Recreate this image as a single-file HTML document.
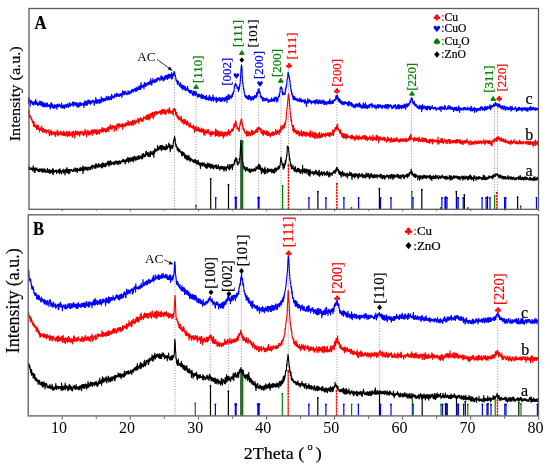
<!DOCTYPE html><html><head><meta charset="utf-8"><style>html,body{margin:0;padding:0;background:#fff;}svg{display:block;filter:blur(0.3px);} text{stroke-width:0.22px;}</style></head><body><svg width="550" height="467" viewBox="0 0 550 467" style="font-family:'Liberation Serif',serif" fill="#000" stroke="none">
<rect width="550" height="467" fill="#fff"/>
<line x1="174.4" y1="73" x2="174.4" y2="209.2" stroke="#8a8a8a" stroke-width="0.9" stroke-dasharray="1.1 1.6"/>
<line x1="196.1" y1="90" x2="196.1" y2="209.2" stroke="#8a8a8a" stroke-width="0.9" stroke-dasharray="1.1 1.6"/>
<line x1="235.6" y1="80" x2="235.6" y2="209.2" stroke="#8a8a8a" stroke-width="0.9" stroke-dasharray="1.1 1.6"/>
<line x1="241.6" y1="64" x2="241.6" y2="209.2" stroke="#8a8a8a" stroke-width="0.9" stroke-dasharray="1.1 1.6"/>
<line x1="258.6" y1="88" x2="258.6" y2="209.2" stroke="#8a8a8a" stroke-width="0.9" stroke-dasharray="1.1 1.6"/>
<line x1="281.0" y1="86" x2="281.0" y2="209.2" stroke="#8a8a8a" stroke-width="0.9" stroke-dasharray="1.1 1.6"/>
<line x1="288.5" y1="70" x2="288.5" y2="209.2" stroke="#8a8a8a" stroke-width="0.9" stroke-dasharray="1.1 1.6"/>
<line x1="337.0" y1="96" x2="337.0" y2="209.2" stroke="#8a8a8a" stroke-width="0.9" stroke-dasharray="1.1 1.6"/>
<line x1="411.6" y1="99" x2="411.6" y2="209.2" stroke="#8a8a8a" stroke-width="0.9" stroke-dasharray="1.1 1.6"/>
<line x1="494.6" y1="103" x2="494.6" y2="209.2" stroke="#8a8a8a" stroke-width="0.9" stroke-dasharray="1.1 1.6"/>
<line x1="497.5" y1="103" x2="497.5" y2="209.2" stroke="#8a8a8a" stroke-width="0.9" stroke-dasharray="1.1 1.6"/>
<line x1="174.9" y1="262" x2="174.9" y2="415.8" stroke="#8a8a8a" stroke-width="0.9" stroke-dasharray="1.1 1.6"/>
<line x1="210.3" y1="297" x2="210.3" y2="415.8" stroke="#8a8a8a" stroke-width="0.9" stroke-dasharray="1.1 1.6"/>
<line x1="228.3" y1="298" x2="228.3" y2="415.8" stroke="#8a8a8a" stroke-width="0.9" stroke-dasharray="1.1 1.6"/>
<line x1="241.3" y1="275" x2="241.3" y2="415.8" stroke="#8a8a8a" stroke-width="0.9" stroke-dasharray="1.1 1.6"/>
<line x1="288.3" y1="256" x2="288.3" y2="415.8" stroke="#8a8a8a" stroke-width="0.9" stroke-dasharray="1.1 1.6"/>
<line x1="337.0" y1="302" x2="337.0" y2="415.8" stroke="#8a8a8a" stroke-width="0.9" stroke-dasharray="1.1 1.6"/>
<line x1="379.7" y1="312" x2="379.7" y2="415.8" stroke="#8a8a8a" stroke-width="0.9" stroke-dasharray="1.1 1.6"/>
<line x1="497.8" y1="314" x2="497.8" y2="415.8" stroke="#8a8a8a" stroke-width="0.9" stroke-dasharray="1.1 1.6"/>
<line x1="195.9" y1="209.2" x2="195.9" y2="205.2" stroke="#008000" stroke-width="1.2"/>
<circle cx="195.9" cy="205.7" r="0.90" fill="#008000"/>
<line x1="210.7" y1="209.2" x2="210.7" y2="178.5" stroke="#000000" stroke-width="1.2"/>
<circle cx="210.7" cy="179.0" r="0.90" fill="#000000"/>
<line x1="215.7" y1="209.2" x2="215.7" y2="197.4" stroke="#0000ff" stroke-width="1.2"/>
<circle cx="215.7" cy="197.9" r="0.90" fill="#0000ff"/>
<line x1="228.5" y1="209.2" x2="228.5" y2="184.2" stroke="#000000" stroke-width="1.2"/>
<circle cx="228.5" cy="184.7" r="0.90" fill="#000000"/>
<line x1="235.8" y1="209.2" x2="235.8" y2="197.4" stroke="#0000ff" stroke-width="2"/>
<circle cx="235.8" cy="197.9" r="1.40" fill="#0000ff"/>
<line x1="241.0" y1="209.2" x2="241.0" y2="140.2" stroke="#000000" stroke-width="1.2"/>
<circle cx="241.0" cy="140.7" r="0.90" fill="#000000"/>
<line x1="242.3" y1="209.2" x2="242.3" y2="141.2" stroke="#008000" stroke-width="2"/>
<circle cx="242.3" cy="141.7" r="1.40" fill="#008000"/>
<line x1="258.6" y1="209.2" x2="258.6" y2="197.4" stroke="#0000ff" stroke-width="2"/>
<circle cx="258.6" cy="197.9" r="1.40" fill="#0000ff"/>
<line x1="282.6" y1="209.2" x2="282.6" y2="185.5" stroke="#008000" stroke-width="1.2"/>
<circle cx="282.6" cy="186.0" r="0.90" fill="#008000"/>
<line x1="288.4" y1="209.2" x2="288.4" y2="164.2" stroke="#ff0000" stroke-width="1.4" stroke-dasharray="2.2 0.8"/>
<circle cx="288.4" cy="164.7" r="0.98" fill="#ff0000"/>
<line x1="308.9" y1="209.2" x2="308.9" y2="197.4" stroke="#0000ff" stroke-width="1.2"/>
<circle cx="308.9" cy="197.9" r="0.90" fill="#0000ff"/>
<line x1="317.9" y1="209.2" x2="317.9" y2="191.2" stroke="#000000" stroke-width="1.2"/>
<circle cx="317.9" cy="191.7" r="0.90" fill="#000000"/>
<line x1="325.9" y1="209.2" x2="325.9" y2="197.4" stroke="#0000ff" stroke-width="1.2"/>
<circle cx="325.9" cy="197.9" r="0.90" fill="#0000ff"/>
<line x1="336.8" y1="209.2" x2="336.8" y2="183.2" stroke="#ff0000" stroke-width="1.4" stroke-dasharray="2.2 0.8"/>
<circle cx="336.8" cy="183.7" r="0.98" fill="#ff0000"/>
<line x1="343.9" y1="209.2" x2="343.9" y2="197.4" stroke="#0000ff" stroke-width="1.2"/>
<circle cx="343.9" cy="197.9" r="0.90" fill="#0000ff"/>
<line x1="351.5" y1="209.2" x2="351.5" y2="207.4" stroke="#008000" stroke-width="1.2"/>
<circle cx="351.5" cy="207.9" r="0.90" fill="#008000"/>
<line x1="358.6" y1="209.2" x2="358.6" y2="197.4" stroke="#0000ff" stroke-width="1.2"/>
<circle cx="358.6" cy="197.9" r="0.90" fill="#0000ff"/>
<line x1="379.4" y1="209.2" x2="379.4" y2="188.2" stroke="#000000" stroke-width="1.2"/>
<circle cx="379.4" cy="188.7" r="0.90" fill="#000000"/>
<line x1="380.5" y1="209.2" x2="380.5" y2="197.4" stroke="#0000ff" stroke-width="1.2"/>
<circle cx="380.5" cy="197.9" r="0.90" fill="#0000ff"/>
<line x1="391.0" y1="209.2" x2="391.0" y2="197.4" stroke="#0000ff" stroke-width="1.2"/>
<circle cx="391.0" cy="197.9" r="0.90" fill="#0000ff"/>
<line x1="411.8" y1="209.2" x2="411.8" y2="191.2" stroke="#008000" stroke-width="1.2"/>
<circle cx="411.8" cy="191.7" r="0.90" fill="#008000"/>
<line x1="413.0" y1="209.2" x2="413.0" y2="197.4" stroke="#0000ff" stroke-width="1.2"/>
<circle cx="413.0" cy="197.9" r="0.90" fill="#0000ff"/>
<line x1="421.8" y1="209.2" x2="421.8" y2="189.2" stroke="#000000" stroke-width="1.2"/>
<circle cx="421.8" cy="189.7" r="0.90" fill="#000000"/>
<line x1="440.7" y1="209.2" x2="440.7" y2="207.4" stroke="#008000" stroke-width="1.2"/>
<circle cx="440.7" cy="207.9" r="0.90" fill="#008000"/>
<line x1="441.9" y1="209.2" x2="441.9" y2="197.4" stroke="#0000ff" stroke-width="1.2"/>
<circle cx="441.9" cy="197.9" r="0.90" fill="#0000ff"/>
<line x1="445.0" y1="209.2" x2="445.0" y2="197.4" stroke="#0000ff" stroke-width="1.2"/>
<circle cx="445.0" cy="197.9" r="0.90" fill="#0000ff"/>
<line x1="445.8" y1="209.2" x2="445.8" y2="196.7" stroke="#000000" stroke-width="1.2"/>
<circle cx="445.8" cy="197.2" r="0.90" fill="#000000"/>
<line x1="447.0" y1="209.2" x2="447.0" y2="197.4" stroke="#0000ff" stroke-width="1.2"/>
<circle cx="447.0" cy="197.9" r="0.90" fill="#0000ff"/>
<line x1="456.4" y1="209.2" x2="456.4" y2="191.2" stroke="#000000" stroke-width="1.2"/>
<circle cx="456.4" cy="191.7" r="0.90" fill="#000000"/>
<line x1="456.9" y1="209.2" x2="456.9" y2="197.4" stroke="#0000ff" stroke-width="1.2"/>
<circle cx="456.9" cy="197.9" r="0.90" fill="#0000ff"/>
<line x1="458.2" y1="209.2" x2="458.2" y2="197.4" stroke="#0000ff" stroke-width="1.2"/>
<circle cx="458.2" cy="197.9" r="0.90" fill="#0000ff"/>
<line x1="463.2" y1="209.2" x2="463.2" y2="197.4" stroke="#0000ff" stroke-width="1.2"/>
<circle cx="463.2" cy="197.9" r="0.90" fill="#0000ff"/>
<line x1="464.4" y1="209.2" x2="464.4" y2="194.5" stroke="#000000" stroke-width="1.2"/>
<circle cx="464.4" cy="195.0" r="0.90" fill="#000000"/>
<line x1="467.9" y1="209.2" x2="467.9" y2="207.4" stroke="#008000" stroke-width="1.2"/>
<circle cx="467.9" cy="207.9" r="0.90" fill="#008000"/>
<line x1="482.1" y1="209.2" x2="482.1" y2="197.4" stroke="#0000ff" stroke-width="1.2"/>
<circle cx="482.1" cy="197.9" r="0.90" fill="#0000ff"/>
<line x1="486.1" y1="209.2" x2="486.1" y2="197.4" stroke="#0000ff" stroke-width="1.2"/>
<circle cx="486.1" cy="197.9" r="0.90" fill="#0000ff"/>
<line x1="487.5" y1="209.2" x2="487.5" y2="196.7" stroke="#000000" stroke-width="1.2"/>
<circle cx="487.5" cy="197.2" r="0.90" fill="#000000"/>
<line x1="490.0" y1="209.2" x2="490.0" y2="197.4" stroke="#0000ff" stroke-width="1.2"/>
<circle cx="490.0" cy="197.9" r="0.90" fill="#0000ff"/>
<line x1="494.6" y1="209.2" x2="494.6" y2="195.2" stroke="#008000" stroke-width="1.2"/>
<circle cx="494.6" cy="195.7" r="0.90" fill="#008000"/>
<line x1="496.8" y1="209.2" x2="496.8" y2="192.2" stroke="#ff0000" stroke-width="1.4" stroke-dasharray="2.2 0.8"/>
<circle cx="496.8" cy="192.7" r="0.98" fill="#ff0000"/>
<line x1="504.6" y1="209.2" x2="504.6" y2="197.4" stroke="#0000ff" stroke-width="1.2"/>
<circle cx="504.6" cy="197.9" r="0.90" fill="#0000ff"/>
<line x1="505.7" y1="209.2" x2="505.7" y2="197.4" stroke="#0000ff" stroke-width="1.2"/>
<circle cx="505.7" cy="197.9" r="0.90" fill="#0000ff"/>
<line x1="517.6" y1="209.2" x2="517.6" y2="196.7" stroke="#000000" stroke-width="1.2"/>
<circle cx="517.6" cy="197.2" r="0.90" fill="#000000"/>
<line x1="520.6" y1="209.2" x2="520.6" y2="205.7" stroke="#008000" stroke-width="1.2"/>
<circle cx="520.6" cy="206.2" r="0.90" fill="#008000"/>
<line x1="536.5" y1="209.2" x2="536.5" y2="197.4" stroke="#0000ff" stroke-width="1.2"/>
<circle cx="536.5" cy="197.9" r="0.90" fill="#0000ff"/>
<line x1="195.3" y1="415.8" x2="195.3" y2="402.8" stroke="#008000" stroke-width="1.2"/>
<circle cx="195.3" cy="403.3" r="0.90" fill="#008000"/>
<line x1="210.5" y1="415.8" x2="210.5" y2="385.3" stroke="#000000" stroke-width="1.2"/>
<circle cx="210.5" cy="385.8" r="0.90" fill="#000000"/>
<line x1="215.4" y1="415.8" x2="215.4" y2="404.0" stroke="#0000ff" stroke-width="1.2"/>
<circle cx="215.4" cy="404.5" r="0.90" fill="#0000ff"/>
<line x1="228.4" y1="415.8" x2="228.4" y2="390.8" stroke="#000000" stroke-width="1.2"/>
<circle cx="228.4" cy="391.3" r="0.90" fill="#000000"/>
<line x1="235.7" y1="415.8" x2="235.7" y2="404.0" stroke="#0000ff" stroke-width="2"/>
<circle cx="235.7" cy="404.5" r="1.40" fill="#0000ff"/>
<line x1="241.0" y1="415.8" x2="241.0" y2="370.3" stroke="#000000" stroke-width="1.2"/>
<circle cx="241.0" cy="370.8" r="0.90" fill="#000000"/>
<line x1="242.3" y1="415.8" x2="242.3" y2="370.3" stroke="#008000" stroke-width="2"/>
<circle cx="242.3" cy="370.8" r="1.40" fill="#008000"/>
<line x1="258.5" y1="415.8" x2="258.5" y2="404.0" stroke="#0000ff" stroke-width="2.5"/>
<circle cx="258.5" cy="404.5" r="1.75" fill="#0000ff"/>
<line x1="282.3" y1="415.8" x2="282.3" y2="393.3" stroke="#008000" stroke-width="1.2"/>
<circle cx="282.3" cy="393.8" r="0.90" fill="#008000"/>
<line x1="288.2" y1="415.8" x2="288.2" y2="370.5" stroke="#ff0000" stroke-width="1.4" stroke-dasharray="2.2 0.8"/>
<circle cx="288.2" cy="371.0" r="0.98" fill="#ff0000"/>
<line x1="308.9" y1="415.8" x2="308.9" y2="404.0" stroke="#0000ff" stroke-width="1.2"/>
<circle cx="308.9" cy="404.5" r="0.90" fill="#0000ff"/>
<line x1="317.8" y1="415.8" x2="317.8" y2="397.5" stroke="#000000" stroke-width="1.2"/>
<circle cx="317.8" cy="398.0" r="0.90" fill="#000000"/>
<line x1="325.9" y1="415.8" x2="325.9" y2="404.0" stroke="#0000ff" stroke-width="1.2"/>
<circle cx="325.9" cy="404.5" r="0.90" fill="#0000ff"/>
<line x1="336.5" y1="415.8" x2="336.5" y2="390.3" stroke="#ff0000" stroke-width="1.4" stroke-dasharray="2.2 0.8"/>
<circle cx="336.5" cy="390.8" r="0.98" fill="#ff0000"/>
<line x1="343.8" y1="415.8" x2="343.8" y2="404.0" stroke="#0000ff" stroke-width="1.2"/>
<circle cx="343.8" cy="404.5" r="0.90" fill="#0000ff"/>
<line x1="351.6" y1="415.8" x2="351.6" y2="404.0" stroke="#008000" stroke-width="1.2"/>
<circle cx="351.6" cy="404.5" r="0.90" fill="#008000"/>
<line x1="358.4" y1="415.8" x2="358.4" y2="404.0" stroke="#0000ff" stroke-width="1.2"/>
<circle cx="358.4" cy="404.5" r="0.90" fill="#0000ff"/>
<line x1="379.5" y1="415.8" x2="379.5" y2="391.8" stroke="#000000" stroke-width="1.2"/>
<circle cx="379.5" cy="392.3" r="0.90" fill="#000000"/>
<line x1="380.5" y1="415.8" x2="380.5" y2="404.0" stroke="#0000ff" stroke-width="1.2"/>
<circle cx="380.5" cy="404.5" r="0.90" fill="#0000ff"/>
<line x1="391.0" y1="415.8" x2="391.0" y2="404.0" stroke="#0000ff" stroke-width="1.2"/>
<circle cx="391.0" cy="404.5" r="0.90" fill="#0000ff"/>
<line x1="412.3" y1="415.8" x2="412.3" y2="395.8" stroke="#008000" stroke-width="1.2"/>
<circle cx="412.3" cy="396.3" r="0.90" fill="#008000"/>
<line x1="413.1" y1="415.8" x2="413.1" y2="404.0" stroke="#0000ff" stroke-width="1.2"/>
<circle cx="413.1" cy="404.5" r="0.90" fill="#0000ff"/>
<line x1="422.2" y1="415.8" x2="422.2" y2="397.3" stroke="#000000" stroke-width="1.2"/>
<circle cx="422.2" cy="397.8" r="0.90" fill="#000000"/>
<line x1="441.0" y1="415.8" x2="441.0" y2="404.0" stroke="#008000" stroke-width="1.2"/>
<circle cx="441.0" cy="404.5" r="0.90" fill="#008000"/>
<line x1="442.5" y1="415.8" x2="442.5" y2="404.0" stroke="#0000ff" stroke-width="1.2"/>
<circle cx="442.5" cy="404.5" r="0.90" fill="#0000ff"/>
<line x1="445.5" y1="415.8" x2="445.5" y2="404.0" stroke="#0000ff" stroke-width="1.2"/>
<circle cx="445.5" cy="404.5" r="0.90" fill="#0000ff"/>
<line x1="446.2" y1="415.8" x2="446.2" y2="403.3" stroke="#000000" stroke-width="1.2"/>
<circle cx="446.2" cy="403.8" r="0.90" fill="#000000"/>
<line x1="447.3" y1="415.8" x2="447.3" y2="404.0" stroke="#0000ff" stroke-width="1.2"/>
<circle cx="447.3" cy="404.5" r="0.90" fill="#0000ff"/>
<line x1="456.5" y1="415.8" x2="456.5" y2="397.8" stroke="#000000" stroke-width="1.2"/>
<circle cx="456.5" cy="398.3" r="0.90" fill="#000000"/>
<line x1="457.1" y1="415.8" x2="457.1" y2="404.0" stroke="#0000ff" stroke-width="1.2"/>
<circle cx="457.1" cy="404.5" r="0.90" fill="#0000ff"/>
<line x1="458.4" y1="415.8" x2="458.4" y2="404.0" stroke="#0000ff" stroke-width="1.2"/>
<circle cx="458.4" cy="404.5" r="0.90" fill="#0000ff"/>
<line x1="463.6" y1="415.8" x2="463.6" y2="404.0" stroke="#0000ff" stroke-width="1.2"/>
<circle cx="463.6" cy="404.5" r="0.90" fill="#0000ff"/>
<line x1="465.3" y1="415.8" x2="465.3" y2="401.1" stroke="#000000" stroke-width="1.2"/>
<circle cx="465.3" cy="401.6" r="0.90" fill="#000000"/>
<line x1="467.8" y1="415.8" x2="467.8" y2="404.0" stroke="#008000" stroke-width="1.2"/>
<circle cx="467.8" cy="404.5" r="0.90" fill="#008000"/>
<line x1="482.4" y1="415.8" x2="482.4" y2="404.0" stroke="#0000ff" stroke-width="1.2"/>
<circle cx="482.4" cy="404.5" r="0.90" fill="#0000ff"/>
<line x1="487.0" y1="415.8" x2="487.0" y2="404.0" stroke="#0000ff" stroke-width="1.2"/>
<circle cx="487.0" cy="404.5" r="0.90" fill="#0000ff"/>
<line x1="488.0" y1="415.8" x2="488.0" y2="403.3" stroke="#000000" stroke-width="1.2"/>
<circle cx="488.0" cy="403.8" r="0.90" fill="#000000"/>
<line x1="491.0" y1="415.8" x2="491.0" y2="404.0" stroke="#0000ff" stroke-width="1.2"/>
<circle cx="491.0" cy="404.5" r="0.90" fill="#0000ff"/>
<line x1="495.2" y1="415.8" x2="495.2" y2="398.3" stroke="#008000" stroke-width="1.2"/>
<circle cx="495.2" cy="398.8" r="0.90" fill="#008000"/>
<line x1="497.4" y1="415.8" x2="497.4" y2="399.8" stroke="#ff0000" stroke-width="1.4" stroke-dasharray="2.2 0.8"/>
<circle cx="497.4" cy="400.3" r="0.98" fill="#ff0000"/>
<line x1="504.8" y1="415.8" x2="504.8" y2="404.0" stroke="#0000ff" stroke-width="1.2"/>
<circle cx="504.8" cy="404.5" r="0.90" fill="#0000ff"/>
<line x1="506.0" y1="415.8" x2="506.0" y2="404.0" stroke="#0000ff" stroke-width="1.2"/>
<circle cx="506.0" cy="404.5" r="0.90" fill="#0000ff"/>
<line x1="518.8" y1="415.8" x2="518.8" y2="401.8" stroke="#000000" stroke-width="1.2"/>
<circle cx="518.8" cy="402.3" r="0.90" fill="#000000"/>
<line x1="521.0" y1="415.8" x2="521.0" y2="403.5" stroke="#008000" stroke-width="1.2"/>
<circle cx="521.0" cy="404.0" r="0.90" fill="#008000"/>
<line x1="537.4" y1="415.8" x2="537.4" y2="404.0" stroke="#0000ff" stroke-width="1.2"/>
<circle cx="537.4" cy="404.5" r="0.90" fill="#0000ff"/>
<polyline points="28.40,168.55 28.60,169.23 28.80,168.64 29.00,166.57 29.20,169.50 29.40,168.95 29.60,167.73 29.80,169.23 30.00,169.00 30.20,168.96 30.40,168.67 30.60,169.40 30.80,167.78 31.00,168.58 31.20,168.21 31.40,169.67 31.60,168.99 31.80,168.61 32.00,168.02 32.20,168.75 32.40,169.15 32.60,168.82 32.80,170.91 33.00,170.59 33.20,165.80 33.40,166.91 33.60,169.19 33.80,168.58 34.00,169.78 34.20,169.83 34.40,172.34 34.60,168.19 34.80,169.18 35.00,172.37 35.20,170.60 35.40,170.66 35.60,169.17 35.80,167.73 36.00,170.13 36.20,170.09 36.40,168.39 36.60,169.13 36.80,169.96 37.00,168.13 37.20,170.00 37.40,170.28 37.60,170.23 37.80,169.56 38.00,171.02 38.20,171.44 38.40,170.72 38.60,169.27 38.80,171.31 39.00,169.73 39.20,171.55 39.40,169.04 39.60,171.64 39.80,170.45 40.00,168.87 40.20,170.11 40.40,170.61 40.60,170.91 40.80,169.30 41.00,169.15 41.20,170.87 41.40,170.03 41.60,170.96 41.80,171.66 42.00,168.55 42.20,171.04 42.40,172.32 42.60,170.36 42.80,169.71 43.00,171.76 43.20,171.13 43.40,171.98 43.60,170.39 43.80,168.93 44.00,170.73 44.20,170.31 44.40,171.92 44.60,171.18 44.80,168.82 45.00,169.41 45.20,172.13 45.40,171.88 45.60,170.18 45.80,171.03 46.00,171.62 46.20,171.67 46.40,172.21 46.60,171.42 46.80,170.98 47.00,170.78 47.20,172.51 47.40,168.22 47.60,170.98 47.80,171.22 48.00,169.34 48.20,171.64 48.40,170.37 48.60,172.35 48.80,171.08 49.00,172.13 49.20,172.86 49.40,171.78 49.60,170.16 49.80,169.34 50.00,173.60 50.20,171.18 50.40,170.44 50.60,171.54 50.80,171.11 51.00,172.48 51.20,171.45 51.40,171.41 51.60,170.47 51.80,172.02 52.00,170.07 52.20,172.29 52.40,173.41 52.60,169.45 52.80,168.24 53.00,172.25 53.20,174.77 53.40,170.16 53.60,169.84 53.80,172.24 54.00,170.38 54.20,170.82 54.40,171.03 54.60,172.18 54.80,170.96 55.00,171.85 55.20,171.26 55.40,170.40 55.60,171.08 55.80,170.26 56.00,171.50 56.20,170.03 56.40,170.07 56.60,173.39 56.80,171.42 57.00,171.42 57.20,172.15 57.40,170.94 57.60,171.19 57.80,172.04 58.00,171.85 58.20,169.97 58.40,172.56 58.60,170.70 58.80,170.09 59.00,169.59 59.20,170.95 59.40,173.57 59.60,169.92 59.80,171.65 60.00,168.66 60.20,171.43 60.40,172.59 60.60,171.11 60.80,170.59 61.00,171.70 61.20,172.31 61.40,172.25 61.60,173.94 61.80,171.64 62.00,170.59 62.20,171.19 62.40,171.25 62.60,171.48 62.80,171.29 63.00,171.55 63.20,169.14 63.40,173.03 63.60,170.54 63.80,169.76 64.00,172.60 64.20,172.97 64.40,171.89 64.60,171.45 64.80,170.02 65.00,174.95 65.20,172.35 65.40,169.71 65.60,170.17 65.80,171.28 66.00,169.14 66.20,171.37 66.40,170.54 66.60,172.72 66.80,172.36 67.00,167.57 67.20,171.14 67.40,168.97 67.60,172.50 67.80,171.26 68.00,171.74 68.20,169.63 68.40,173.38 68.60,173.61 68.80,169.59 69.00,171.44 69.20,170.07 69.40,170.90 69.60,169.27 69.80,173.33 70.00,169.63 70.20,170.49 70.40,171.51 70.60,170.00 70.80,170.52 71.00,170.08 71.20,170.62 71.40,169.26 71.60,170.20 71.80,170.48 72.00,170.30 72.20,170.79 72.40,170.32 72.60,171.67 72.80,170.25 73.00,170.48 73.20,169.78 73.40,169.94 73.60,168.96 73.80,171.27 74.00,169.09 74.20,169.59 74.40,171.01 74.60,171.05 74.80,169.99 75.00,167.87 75.20,171.02 75.40,170.80 75.60,168.61 75.80,171.42 76.00,169.49 76.20,168.92 76.40,170.49 76.60,170.11 76.80,170.58 77.00,168.21 77.20,172.63 77.40,169.46 77.60,168.22 77.80,171.00 78.00,169.71 78.20,170.56 78.40,169.67 78.60,170.01 78.80,170.37 79.00,169.06 79.20,170.88 79.40,169.35 79.60,168.12 79.80,170.00 80.00,170.45 80.20,169.54 80.40,168.68 80.60,170.58 80.80,167.45 81.00,168.36 81.20,169.72 81.40,167.86 81.60,169.63 81.80,169.48 82.00,170.69 82.20,168.29 82.40,168.63 82.60,169.84 82.80,166.17 83.00,173.36 83.20,168.38 83.40,168.30 83.60,171.00 83.80,169.11 84.00,166.81 84.20,169.90 84.40,170.15 84.60,168.41 84.80,168.59 85.00,169.55 85.20,167.69 85.40,169.40 85.60,169.04 85.80,167.86 86.00,166.89 86.20,168.36 86.40,167.47 86.60,169.87 86.80,168.71 87.00,169.49 87.20,168.60 87.40,168.73 87.60,167.32 87.80,169.16 88.00,170.57 88.20,167.80 88.40,167.38 88.60,167.90 88.80,167.44 89.00,167.10 89.20,168.15 89.40,167.54 89.60,169.75 89.80,167.83 90.00,168.20 90.20,168.97 90.40,167.30 90.60,169.51 90.80,166.77 91.00,166.50 91.20,167.03 91.40,167.31 91.60,165.59 91.80,167.32 92.00,165.15 92.20,169.08 92.40,167.12 92.60,166.34 92.80,165.95 93.00,166.58 93.20,166.75 93.40,165.63 93.60,165.75 93.80,166.66 94.00,166.18 94.20,168.03 94.40,168.24 94.60,166.74 94.80,167.29 95.00,164.89 95.20,167.41 95.40,166.50 95.60,167.13 95.80,168.53 96.00,163.45 96.20,166.71 96.40,164.90 96.60,167.05 96.80,164.53 97.00,165.55 97.20,166.42 97.40,166.91 97.60,166.17 97.80,165.00 98.00,165.27 98.20,167.10 98.40,165.90 98.60,163.68 98.80,166.93 99.00,166.33 99.20,166.88 99.40,165.27 99.60,166.74 99.80,164.25 100.00,166.33 100.20,164.91 100.40,166.38 100.60,166.77 100.80,164.47 101.00,165.31 101.20,165.39 101.40,167.77 101.60,166.18 101.80,163.63 102.00,165.77 102.20,166.10 102.40,167.85 102.60,162.87 102.80,164.31 103.00,166.70 103.20,163.17 103.40,163.33 103.60,165.52 103.80,166.13 104.00,163.89 104.20,165.42 104.40,164.83 104.60,166.61 104.80,164.59 105.00,165.84 105.20,163.34 105.40,164.23 105.60,164.30 105.80,166.75 106.00,165.10 106.20,163.32 106.40,165.15 106.60,165.22 106.80,164.03 107.00,163.80 107.20,163.84 107.40,161.85 107.60,164.25 107.80,164.27 108.00,162.80 108.20,164.85 108.40,160.99 108.60,163.08 108.80,163.14 109.00,166.30 109.20,161.60 109.40,164.37 109.60,164.82 109.80,164.04 110.00,165.05 110.20,162.17 110.40,160.46 110.60,164.38 110.80,161.79 111.00,162.88 111.20,161.73 111.40,164.59 111.60,164.30 111.80,162.20 112.00,164.27 112.20,163.21 112.40,162.83 112.60,163.05 112.80,162.67 113.00,163.69 113.20,163.26 113.40,162.36 113.60,164.08 113.80,161.94 114.00,163.06 114.20,163.20 114.40,164.53 114.60,161.91 114.80,164.80 115.00,162.72 115.20,162.20 115.40,161.54 115.60,163.13 115.80,162.39 116.00,160.86 116.20,160.79 116.40,161.49 116.60,161.30 116.80,163.56 117.00,163.89 117.20,163.19 117.40,162.49 117.60,161.43 117.80,162.02 118.00,163.06 118.20,164.65 118.40,163.03 118.60,161.44 118.80,161.82 119.00,161.10 119.20,160.68 119.40,161.42 119.60,161.87 119.80,163.97 120.00,161.62 120.20,163.28 120.40,163.77 120.60,161.54 120.80,163.49 121.00,162.30 121.20,160.79 121.40,161.64 121.60,161.29 121.80,160.92 122.00,160.93 122.20,161.34 122.40,161.68 122.60,159.93 122.80,161.03 123.00,159.03 123.20,161.31 123.40,161.75 123.60,161.11 123.80,161.24 124.00,161.60 124.20,159.93 124.40,160.45 124.60,161.38 124.80,161.99 125.00,161.16 125.20,163.93 125.40,160.45 125.60,161.83 125.80,162.14 126.00,160.29 126.20,159.36 126.40,158.85 126.60,160.56 126.80,161.75 127.00,160.62 127.20,160.46 127.40,159.70 127.60,160.88 127.80,157.34 128.00,160.38 128.20,160.07 128.40,158.21 128.60,162.78 128.80,158.11 129.00,158.47 129.20,158.27 129.40,161.23 129.60,158.59 129.80,160.57 130.00,160.43 130.20,159.96 130.40,157.88 130.60,158.74 130.80,161.67 131.00,157.77 131.20,158.32 131.40,159.15 131.60,160.36 131.80,159.59 132.00,160.18 132.20,157.79 132.40,160.36 132.60,159.82 132.80,156.96 133.00,160.99 133.20,161.92 133.40,157.89 133.60,158.91 133.80,160.61 134.00,156.81 134.20,156.10 134.40,156.95 134.60,157.85 134.80,157.79 135.00,159.28 135.20,158.79 135.40,156.77 135.60,159.07 135.80,160.72 136.00,159.78 136.20,159.46 136.40,158.15 136.60,159.35 136.80,156.76 137.00,158.94 137.20,157.79 137.40,159.32 137.60,158.40 137.80,156.33 138.00,157.85 138.20,159.22 138.40,156.11 138.60,156.79 138.80,156.46 139.00,155.46 139.20,158.60 139.40,158.99 139.60,158.27 139.80,157.49 140.00,157.05 140.20,157.37 140.40,156.05 140.60,158.10 140.80,158.24 141.00,158.03 141.20,156.06 141.40,156.80 141.60,156.29 141.80,158.89 142.00,156.74 142.20,154.00 142.40,156.90 142.60,158.76 142.80,157.14 143.00,157.33 143.20,156.17 143.40,153.50 143.60,153.64 143.80,154.31 144.00,155.70 144.20,156.20 144.40,156.62 144.60,155.22 144.80,156.84 145.00,155.16 145.20,154.54 145.40,156.49 145.60,154.13 145.80,151.70 146.00,153.80 146.20,155.23 146.40,151.03 146.60,154.50 146.80,154.46 147.00,152.96 147.20,152.82 147.40,154.07 147.60,153.88 147.80,156.16 148.00,154.93 148.20,152.32 148.40,153.18 148.60,155.69 148.80,156.61 149.00,154.57 149.20,154.39 149.40,156.33 149.60,153.78 149.80,153.35 150.00,151.84 150.20,152.93 150.40,156.34 150.60,151.58 150.80,153.36 151.00,151.44 151.20,153.35 151.40,154.25 151.60,152.68 151.80,153.84 152.00,153.72 152.20,153.26 152.40,154.79 152.60,153.46 152.80,151.92 153.00,151.31 153.20,150.97 153.40,152.56 153.60,151.38 153.80,157.35 154.00,153.93 154.20,151.12 154.40,150.83 154.60,153.32 154.80,148.53 155.00,150.26 155.20,151.94 155.40,149.38 155.60,149.81 155.80,149.84 156.00,151.03 156.20,150.22 156.40,150.43 156.60,150.56 156.80,149.70 157.00,150.99 157.20,148.49 157.40,147.46 157.60,145.52 157.80,147.01 158.00,148.31 158.20,150.27 158.40,149.08 158.60,148.00 158.80,147.31 159.00,147.95 159.20,148.06 159.40,147.36 159.60,146.63 159.80,147.84 160.00,149.76 160.20,145.59 160.40,148.08 160.60,145.62 160.80,148.60 161.00,147.37 161.20,145.61 161.40,148.43 161.60,150.65 161.80,148.41 162.00,149.76 162.20,148.14 162.40,145.41 162.60,148.83 162.80,147.64 163.00,146.26 163.20,149.17 163.40,148.50 163.60,147.43 163.80,149.23 164.00,146.95 164.20,148.90 164.40,146.83 164.60,148.73 164.80,146.59 165.00,149.94 165.20,148.32 165.40,149.84 165.60,146.89 165.80,147.33 166.00,149.02 166.20,144.35 166.40,146.51 166.60,149.23 166.80,148.47 167.00,149.13 167.20,147.43 167.40,148.55 167.60,146.85 167.80,146.00 168.00,145.56 168.20,147.03 168.40,147.01 168.60,146.89 168.80,143.07 169.00,145.06 169.20,146.94 169.40,147.98 169.60,146.82 169.80,146.40 170.00,144.50 170.20,151.66 170.40,145.99 170.60,149.57 170.80,149.36 171.00,147.64 171.20,146.48 171.40,147.33 171.60,145.57 171.80,147.30 172.00,146.82 172.20,147.33 172.40,147.64 172.60,148.35 172.80,145.19 173.00,146.53 173.20,143.44 173.40,142.39 173.60,141.56 173.80,139.59 174.00,140.43 174.20,138.71 174.40,138.11 174.60,136.48 174.80,138.02 175.00,138.67 175.20,139.75 175.40,143.42 175.60,144.49 175.80,143.73 176.00,146.74 176.20,144.36 176.40,146.77 176.60,146.75 176.80,147.25 177.00,146.83 177.20,149.75 177.40,149.50 177.60,150.54 177.80,149.40 178.00,147.76 178.20,149.16 178.40,148.32 178.60,150.65 178.80,151.84 179.00,150.90 179.20,149.90 179.40,150.41 179.60,151.36 179.80,149.43 180.00,151.72 180.20,151.99 180.40,151.24 180.60,151.62 180.80,152.60 181.00,151.53 181.20,151.74 181.40,154.03 181.60,153.53 181.80,155.63 182.00,152.37 182.20,151.55 182.40,155.30 182.60,155.52 182.80,153.52 183.00,152.76 183.20,154.80 183.40,152.78 183.60,154.79 183.80,152.57 184.00,155.27 184.20,152.99 184.40,155.60 184.60,158.03 184.80,155.85 185.00,157.33 185.20,155.63 185.40,155.43 185.60,154.77 185.80,158.20 186.00,156.82 186.20,159.20 186.40,155.68 186.60,157.04 186.80,157.56 187.00,159.41 187.20,160.05 187.40,156.96 187.60,156.44 187.80,155.77 188.00,159.88 188.20,158.14 188.40,157.52 188.60,158.40 188.80,155.25 189.00,156.44 189.20,160.00 189.40,159.41 189.60,159.19 189.80,157.80 190.00,159.96 190.20,161.61 190.40,157.81 190.60,159.52 190.80,159.03 191.00,160.16 191.20,159.81 191.40,159.69 191.60,158.83 191.80,160.05 192.00,159.36 192.20,160.06 192.40,160.26 192.60,161.29 192.80,159.77 193.00,160.19 193.20,162.10 193.40,160.51 193.60,160.54 193.80,162.09 194.00,161.40 194.20,161.25 194.40,161.63 194.60,159.69 194.80,161.98 195.00,163.19 195.20,162.30 195.40,159.61 195.60,162.08 195.80,160.62 196.00,161.58 196.20,162.13 196.40,160.49 196.60,163.85 196.80,162.11 197.00,163.31 197.20,163.18 197.40,164.18 197.60,164.06 197.80,160.67 198.00,162.72 198.20,159.96 198.40,162.23 198.60,163.81 198.80,164.15 199.00,164.71 199.20,162.61 199.40,163.59 199.60,163.37 199.80,164.96 200.00,165.45 200.20,162.99 200.40,168.44 200.60,163.58 200.80,163.18 201.00,164.50 201.20,164.77 201.40,164.56 201.60,163.07 201.80,165.90 202.00,164.12 202.20,166.11 202.40,165.98 202.60,162.58 202.80,163.02 203.00,163.05 203.20,164.74 203.40,164.54 203.60,164.88 203.80,163.53 204.00,165.19 204.20,166.52 204.40,163.01 204.60,164.54 204.80,165.17 205.00,164.73 205.20,164.70 205.40,167.30 205.60,166.72 205.80,166.20 206.00,164.16 206.20,168.11 206.40,165.71 206.60,164.53 206.80,164.89 207.00,164.74 207.20,168.18 207.40,165.73 207.60,165.59 207.80,162.75 208.00,166.55 208.20,164.26 208.40,164.21 208.60,166.51 208.80,164.63 209.00,166.88 209.20,167.29 209.40,163.55 209.60,165.74 209.80,163.91 210.00,165.91 210.20,167.21 210.40,164.29 210.60,168.44 210.80,165.73 211.00,164.64 211.20,166.05 211.40,167.27 211.60,164.49 211.80,166.32 212.00,164.56 212.20,167.95 212.40,166.62 212.60,165.90 212.80,167.83 213.00,164.84 213.20,166.04 213.40,168.99 213.60,166.46 213.80,168.42 214.00,166.94 214.20,165.81 214.40,166.43 214.60,166.88 214.80,166.28 215.00,165.78 215.20,165.86 215.40,164.98 215.60,167.09 215.80,167.49 216.00,167.99 216.20,164.71 216.40,168.75 216.60,167.10 216.80,165.31 217.00,167.33 217.20,168.30 217.40,167.95 217.60,168.26 217.80,168.58 218.00,168.55 218.20,167.38 218.40,164.76 218.60,166.51 218.80,168.00 219.00,166.96 219.20,168.50 219.40,168.68 219.60,167.74 219.80,170.16 220.00,166.48 220.20,168.99 220.40,167.20 220.60,166.83 220.80,168.64 221.00,167.10 221.20,169.04 221.40,166.44 221.60,168.02 221.80,166.91 222.00,167.72 222.20,167.56 222.40,166.60 222.60,168.93 222.80,166.48 223.00,166.84 223.20,169.28 223.40,169.40 223.60,169.01 223.80,168.59 224.00,171.11 224.20,166.58 224.40,167.18 224.60,166.85 224.80,169.31 225.00,168.51 225.20,169.56 225.40,169.37 225.60,167.81 225.80,167.02 226.00,166.78 226.20,170.93 226.40,169.30 226.60,168.80 226.80,167.57 227.00,167.74 227.20,167.53 227.40,167.54 227.60,164.81 227.80,167.83 228.00,167.39 228.20,168.24 228.40,168.11 228.60,168.92 228.80,167.76 229.00,168.78 229.20,164.37 229.40,166.23 229.60,169.86 229.80,165.99 230.00,167.16 230.20,168.38 230.40,166.25 230.60,168.27 230.80,165.40 231.00,164.69 231.20,165.36 231.40,164.84 231.60,166.86 231.80,166.34 232.00,167.04 232.20,164.29 232.40,169.57 232.60,165.93 232.80,165.75 233.00,166.12 233.20,164.89 233.40,164.01 233.60,164.51 233.80,165.09 234.00,164.19 234.20,163.90 234.40,161.24 234.60,160.23 234.80,163.11 235.00,159.52 235.20,159.94 235.40,159.98 235.60,160.83 235.80,157.46 236.00,159.04 236.20,159.69 236.40,160.51 236.60,158.42 236.80,162.03 237.00,158.93 237.20,163.52 237.40,164.18 237.60,164.51 237.80,162.33 238.00,165.21 238.20,162.82 238.40,162.22 238.60,162.30 238.80,162.10 239.00,163.02 239.20,163.02 239.40,158.24 239.60,158.98 239.80,159.18 240.00,156.13 240.20,153.89 240.40,148.24 240.60,148.35 240.80,142.68 241.00,144.08 241.20,146.64 241.40,149.87 241.60,151.33 241.80,155.01 242.00,155.88 242.20,158.36 242.40,162.36 242.60,162.32 242.80,163.33 243.00,162.60 243.20,165.40 243.40,167.18 243.60,165.32 243.80,166.13 244.00,169.21 244.20,167.71 244.40,167.37 244.60,166.51 244.80,167.39 245.00,168.05 245.20,170.32 245.40,167.90 245.60,171.15 245.80,167.73 246.00,168.58 246.20,170.24 246.40,168.93 246.60,167.59 246.80,169.23 247.00,170.05 247.20,167.30 247.40,169.27 247.60,169.51 247.80,169.18 248.00,170.71 248.20,169.05 248.40,169.36 248.60,169.95 248.80,170.86 249.00,169.65 249.20,171.94 249.40,168.82 249.60,171.69 249.80,168.92 250.00,169.85 250.20,170.55 250.40,172.76 250.60,171.27 250.80,169.58 251.00,171.81 251.20,169.85 251.40,169.10 251.60,170.72 251.80,170.26 252.00,171.38 252.20,169.42 252.40,170.62 252.60,170.94 252.80,170.47 253.00,170.05 253.20,169.16 253.40,171.22 253.60,170.19 253.80,170.63 254.00,169.49 254.20,169.91 254.40,168.49 254.60,169.89 254.80,170.70 255.00,169.74 255.20,170.64 255.40,169.82 255.60,171.06 255.80,168.89 256.00,166.85 256.20,169.35 256.40,168.36 256.60,167.08 256.80,168.93 257.00,168.14 257.20,168.07 257.40,166.75 257.60,167.13 257.80,166.92 258.00,168.66 258.20,165.29 258.40,166.08 258.60,166.58 258.80,163.97 259.00,164.32 259.20,169.49 259.40,164.68 259.60,168.05 259.80,166.53 260.00,166.97 260.20,165.69 260.40,167.38 260.60,169.82 260.80,167.23 261.00,170.02 261.20,169.84 261.40,173.80 261.60,169.13 261.80,171.52 262.00,171.15 262.20,169.73 262.40,168.03 262.60,172.24 262.80,168.58 263.00,169.80 263.20,171.63 263.40,171.98 263.60,169.48 263.80,170.58 264.00,170.33 264.20,172.24 264.40,173.99 264.60,168.38 264.80,171.98 265.00,167.09 265.20,170.85 265.40,169.40 265.60,173.45 265.80,171.09 266.00,169.92 266.20,170.24 266.40,170.14 266.60,171.14 266.80,170.69 267.00,171.75 267.20,172.89 267.40,171.80 267.60,168.33 267.80,168.76 268.00,169.88 268.20,172.22 268.40,170.41 268.60,169.96 268.80,171.00 269.00,168.96 269.20,169.31 269.40,171.44 269.60,170.36 269.80,170.15 270.00,171.13 270.20,169.94 270.40,169.79 270.60,170.07 270.80,171.43 271.00,170.70 271.20,169.05 271.40,170.18 271.60,171.40 271.80,172.97 272.00,169.02 272.20,170.93 272.40,170.13 272.60,171.51 272.80,171.00 273.00,172.30 273.20,171.04 273.40,169.63 273.60,169.61 273.80,170.81 274.00,170.76 274.20,173.34 274.40,172.37 274.60,168.63 274.80,170.58 275.00,168.36 275.20,167.90 275.40,170.97 275.60,171.11 275.80,168.56 276.00,171.99 276.20,168.53 276.40,168.21 276.60,170.50 276.80,169.86 277.00,169.27 277.20,169.28 277.40,169.54 277.60,168.93 277.80,168.73 278.00,166.30 278.20,166.81 278.40,169.10 278.60,167.09 278.80,168.37 279.00,168.84 279.20,166.27 279.40,166.49 279.60,168.08 279.80,165.41 280.00,165.86 280.20,164.29 280.40,162.04 280.60,159.76 280.80,157.95 281.00,157.24 281.20,159.54 281.40,160.25 281.60,160.43 281.80,162.85 282.00,161.99 282.20,165.11 282.40,164.44 282.60,164.91 282.80,165.38 283.00,165.57 283.20,169.15 283.40,163.94 283.60,166.31 283.80,167.68 284.00,166.90 284.20,165.42 284.40,167.86 284.60,163.92 284.80,163.24 285.00,165.23 285.20,162.06 285.40,160.22 285.60,163.70 285.80,162.64 286.00,161.54 286.20,158.72 286.40,158.16 286.60,155.05 286.80,156.75 287.00,153.57 287.20,151.51 287.40,146.12 287.60,148.11 287.80,147.94 288.00,147.21 288.20,147.06 288.40,147.13 288.60,148.32 288.80,151.48 289.00,153.23 289.20,155.03 289.40,156.17 289.60,160.42 289.80,158.20 290.00,160.97 290.20,161.36 290.40,164.42 290.60,165.77 290.80,166.25 291.00,166.24 291.20,163.98 291.40,168.98 291.60,167.76 291.80,166.91 292.00,167.40 292.20,167.22 292.40,168.46 292.60,168.54 292.80,167.87 293.00,165.18 293.20,168.64 293.40,169.45 293.60,169.65 293.80,168.89 294.00,169.79 294.20,170.64 294.40,168.79 294.60,171.39 294.80,167.02 295.00,167.99 295.20,167.82 295.40,166.59 295.60,168.52 295.80,171.50 296.00,171.54 296.20,170.10 296.40,172.25 296.60,170.37 296.80,169.45 297.00,170.44 297.20,169.98 297.40,171.15 297.60,168.27 297.80,171.55 298.00,169.68 298.20,171.42 298.40,168.32 298.60,169.80 298.80,170.47 299.00,171.56 299.20,168.83 299.40,172.60 299.60,171.07 299.80,169.78 300.00,172.06 300.20,170.63 300.40,172.01 300.60,173.55 300.80,171.54 301.00,169.88 301.20,170.03 301.40,171.36 301.60,171.00 301.80,169.57 302.00,169.81 302.20,171.56 302.40,173.76 302.60,165.29 302.80,171.71 303.00,170.53 303.20,171.84 303.40,171.98 303.60,170.96 303.80,169.60 304.00,169.14 304.20,168.56 304.40,172.60 304.60,170.78 304.80,170.38 305.00,170.76 305.20,169.42 305.40,171.58 305.60,172.93 305.80,172.73 306.00,169.28 306.20,173.10 306.40,170.39 306.60,168.95 306.80,169.87 307.00,170.25 307.20,171.53 307.40,170.24 307.60,169.67 307.80,171.32 308.00,174.18 308.20,170.83 308.40,172.38 308.60,171.93 308.80,175.29 309.00,169.46 309.20,173.36 309.40,170.34 309.60,171.27 309.80,171.95 310.00,176.22 310.20,171.18 310.40,169.78 310.60,173.92 310.80,171.21 311.00,172.02 311.20,172.35 311.40,172.54 311.60,172.24 311.80,172.85 312.00,173.04 312.20,173.68 312.40,172.08 312.60,171.71 312.80,171.34 313.00,173.50 313.20,172.72 313.40,173.53 313.60,173.55 313.80,175.06 314.00,173.20 314.20,173.94 314.40,171.47 314.60,171.66 314.80,172.68 315.00,171.56 315.20,174.03 315.40,171.47 315.60,173.30 315.80,170.10 316.00,171.86 316.20,172.87 316.40,173.00 316.60,171.07 316.80,173.52 317.00,174.65 317.20,174.26 317.40,172.61 317.60,172.73 317.80,171.98 318.00,174.32 318.20,175.37 318.40,172.88 318.60,171.40 318.80,173.84 319.00,174.50 319.20,170.14 319.40,173.80 319.60,176.38 319.80,174.68 320.00,174.34 320.20,174.16 320.40,175.01 320.60,172.46 320.80,172.59 321.00,174.19 321.20,172.80 321.40,174.01 321.60,171.25 321.80,174.65 322.00,174.76 322.20,173.74 322.40,173.90 322.60,175.75 322.80,172.32 323.00,172.54 323.20,172.31 323.40,173.16 323.60,172.42 323.80,173.75 324.00,172.88 324.20,171.87 324.40,171.74 324.60,175.24 324.80,173.61 325.00,173.41 325.20,173.73 325.40,173.59 325.60,174.65 325.80,174.41 326.00,172.95 326.20,172.65 326.40,172.32 326.60,172.11 326.80,175.45 327.00,172.52 327.20,171.13 327.40,172.61 327.60,172.67 327.80,174.08 328.00,172.54 328.20,174.33 328.40,174.43 328.60,175.24 328.80,176.36 329.00,177.21 329.20,175.32 329.40,172.15 329.60,173.09 329.80,173.89 330.00,176.17 330.20,174.41 330.40,175.05 330.60,173.31 330.80,174.25 331.00,174.39 331.20,172.89 331.40,174.41 331.60,174.75 331.80,173.18 332.00,174.62 332.20,175.37 332.40,173.34 332.60,173.20 332.80,172.75 333.00,172.30 333.20,173.20 333.40,172.40 333.60,172.42 333.80,171.73 334.00,170.64 334.20,171.24 334.40,172.65 334.60,170.55 334.80,170.99 335.00,173.59 335.20,172.65 335.40,170.04 335.60,171.29 335.80,169.32 336.00,171.75 336.20,168.57 336.40,169.03 336.60,170.36 336.80,167.40 337.00,170.01 337.20,167.45 337.40,168.99 337.60,168.66 337.80,169.33 338.00,170.08 338.20,170.23 338.40,169.49 338.60,172.24 338.80,172.43 339.00,173.47 339.20,173.88 339.40,170.74 339.60,174.25 339.80,174.47 340.00,172.38 340.20,174.49 340.40,175.17 340.60,172.80 340.80,171.88 341.00,173.25 341.20,177.26 341.40,174.17 341.60,172.45 341.80,173.71 342.00,172.86 342.20,173.66 342.40,174.33 342.60,171.08 342.80,174.75 343.00,176.11 343.20,174.15 343.40,173.96 343.60,175.83 343.80,172.94 344.00,172.99 344.20,172.85 344.40,174.40 344.60,175.11 344.80,174.54 345.00,175.35 345.20,175.72 345.40,175.33 345.60,173.74 345.80,174.43 346.00,176.32 346.20,173.51 346.40,174.50 346.60,174.32 346.80,174.63 347.00,173.54 347.20,173.22 347.40,178.06 347.60,176.08 347.80,173.53 348.00,174.87 348.20,175.80 348.40,174.55 348.60,175.75 348.80,174.25 349.00,174.58 349.20,174.93 349.40,174.48 349.60,172.04 349.80,175.09 350.00,175.40 350.20,175.68 350.40,173.88 350.60,175.54 350.80,175.39 351.00,172.97 351.20,172.45 351.40,175.75 351.60,174.00 351.80,176.42 352.00,179.40 352.20,174.49 352.40,174.37 352.60,175.21 352.80,176.07 353.00,173.86 353.20,176.79 353.40,176.48 353.60,176.09 353.80,174.63 354.00,176.42 354.20,176.36 354.40,173.85 354.60,177.89 354.80,174.97 355.00,175.80 355.20,174.72 355.40,175.84 355.60,176.79 355.80,174.40 356.00,173.37 356.20,174.85 356.40,173.82 356.60,174.49 356.80,175.27 357.00,175.36 357.20,177.02 357.40,174.22 357.60,175.89 357.80,174.85 358.00,177.15 358.20,178.57 358.40,175.87 358.60,177.55 358.80,174.87 359.00,173.57 359.20,173.98 359.40,173.62 359.60,174.39 359.80,175.26 360.00,176.96 360.20,176.42 360.40,176.14 360.60,175.07 360.80,174.72 361.00,175.64 361.20,175.78 361.40,175.93 361.60,176.08 361.80,175.49 362.00,173.30 362.20,174.29 362.40,174.65 362.60,177.72 362.80,175.15 363.00,176.50 363.20,177.46 363.40,176.10 363.60,175.22 363.80,175.35 364.00,174.48 364.20,176.09 364.40,177.09 364.60,176.42 364.80,176.67 365.00,176.62 365.20,178.18 365.40,175.00 365.60,175.96 365.80,176.63 366.00,177.29 366.20,172.86 366.40,175.16 366.60,175.55 366.80,174.57 367.00,176.84 367.20,176.09 367.40,175.35 367.60,173.86 367.80,174.24 368.00,174.66 368.20,176.40 368.40,174.39 368.60,173.37 368.80,174.12 369.00,175.17 369.20,177.90 369.40,178.90 369.60,175.32 369.80,177.04 370.00,177.59 370.20,177.46 370.40,175.78 370.60,174.36 370.80,175.34 371.00,173.70 371.20,176.23 371.40,176.88 371.60,173.68 371.80,175.90 372.00,176.32 372.20,177.47 372.40,177.63 372.60,176.94 372.80,175.16 373.00,175.55 373.20,177.44 373.40,175.28 373.60,175.96 373.80,177.88 374.00,176.17 374.20,174.38 374.40,175.67 374.60,176.80 374.80,175.81 375.00,177.43 375.20,177.58 375.40,175.27 375.60,175.46 375.80,175.94 376.00,174.63 376.20,176.52 376.40,175.86 376.60,177.02 376.80,175.37 377.00,175.04 377.20,178.29 377.40,175.05 377.60,175.41 377.80,175.24 378.00,175.75 378.20,175.03 378.40,176.07 378.60,175.29 378.80,175.63 379.00,176.57 379.20,176.97 379.40,176.70 379.60,175.27 379.80,176.62 380.00,176.01 380.20,176.03 380.40,174.12 380.60,176.96 380.80,176.00 381.00,178.20 381.20,176.94 381.40,174.86 381.60,174.56 381.80,177.55 382.00,175.15 382.20,177.01 382.40,175.84 382.60,178.69 382.80,176.30 383.00,178.00 383.20,177.79 383.40,175.67 383.60,175.83 383.80,177.98 384.00,176.23 384.20,175.21 384.40,177.66 384.60,179.29 384.80,176.21 385.00,177.91 385.20,176.08 385.40,177.88 385.60,176.00 385.80,177.86 386.00,176.93 386.20,176.08 386.40,176.58 386.60,175.67 386.80,174.99 387.00,175.07 387.20,176.26 387.40,175.08 387.60,176.85 387.80,176.97 388.00,176.90 388.20,175.77 388.40,176.42 388.60,176.33 388.80,178.90 389.00,175.42 389.20,175.92 389.40,176.10 389.60,176.21 389.80,175.02 390.00,175.64 390.20,177.58 390.40,175.64 390.60,177.46 390.80,178.78 391.00,177.89 391.20,174.27 391.40,177.30 391.60,176.96 391.80,177.04 392.00,174.49 392.20,177.29 392.40,175.13 392.60,177.92 392.80,177.66 393.00,179.39 393.20,175.95 393.40,174.62 393.60,177.63 393.80,177.43 394.00,175.96 394.20,178.00 394.40,177.22 394.60,174.91 394.80,176.00 395.00,175.89 395.20,176.28 395.40,176.64 395.60,175.60 395.80,176.18 396.00,177.10 396.20,176.33 396.40,176.10 396.60,176.06 396.80,176.27 397.00,174.19 397.20,176.60 397.40,175.22 397.60,176.54 397.80,174.70 398.00,177.49 398.20,176.69 398.40,174.84 398.60,176.69 398.80,175.04 399.00,178.51 399.20,176.98 399.40,175.49 399.60,176.67 399.80,176.37 400.00,177.80 400.20,176.82 400.40,177.00 400.60,175.11 400.80,177.32 401.00,178.83 401.20,177.13 401.40,176.34 401.60,176.58 401.80,175.28 402.00,176.59 402.20,175.10 402.40,176.41 402.60,175.91 402.80,175.39 403.00,177.01 403.20,174.61 403.40,176.27 403.60,174.77 403.80,178.41 404.00,178.56 404.20,177.24 404.40,178.44 404.60,176.91 404.80,176.83 405.00,175.69 405.20,175.12 405.40,176.28 405.60,175.48 405.80,175.56 406.00,176.86 406.20,175.83 406.40,174.14 406.60,175.63 406.80,174.94 407.00,175.42 407.20,174.42 407.40,176.98 407.60,177.70 407.80,174.12 408.00,176.03 408.20,175.84 408.40,173.77 408.60,174.95 408.80,176.26 409.00,175.40 409.20,176.06 409.40,172.60 409.60,172.81 409.80,173.72 410.00,173.50 410.20,172.84 410.40,172.12 410.60,171.90 410.80,171.55 411.00,172.72 411.20,169.09 411.40,174.21 411.60,171.97 411.80,171.19 412.00,173.73 412.20,171.80 412.40,174.14 412.60,173.51 412.80,174.91 413.00,175.37 413.20,176.16 413.40,174.31 413.60,174.72 413.80,175.19 414.00,173.73 414.20,176.14 414.40,175.72 414.60,174.15 414.80,177.14 415.00,177.40 415.20,174.41 415.40,176.63 415.60,177.46 415.80,177.04 416.00,175.02 416.20,174.59 416.40,176.09 416.60,175.69 416.80,176.28 417.00,176.20 417.20,176.95 417.40,175.73 417.60,176.21 417.80,179.79 418.00,176.29 418.20,177.30 418.40,176.81 418.60,176.74 418.80,175.48 419.00,177.13 419.20,176.49 419.40,177.49 419.60,180.31 419.80,176.79 420.00,177.46 420.20,175.45 420.40,176.75 420.60,178.39 420.80,176.57 421.00,175.93 421.20,176.90 421.40,176.46 421.60,176.41 421.80,176.27 422.00,178.94 422.20,175.72 422.40,176.25 422.60,176.08 422.80,178.13 423.00,176.43 423.20,178.22 423.40,176.94 423.60,176.74 423.80,175.12 424.00,178.14 424.20,177.39 424.40,177.25 424.60,176.67 424.80,176.34 425.00,175.38 425.20,177.88 425.40,177.13 425.60,176.43 425.80,176.13 426.00,176.97 426.20,176.75 426.40,178.70 426.60,177.73 426.80,176.20 427.00,175.63 427.20,176.62 427.40,175.86 427.60,176.98 427.80,177.35 428.00,177.62 428.20,177.38 428.40,176.70 428.60,177.60 428.80,175.93 429.00,176.85 429.20,177.85 429.40,177.27 429.60,175.53 429.80,175.67 430.00,175.16 430.20,178.99 430.40,175.25 430.60,176.83 430.80,179.05 431.00,178.20 431.20,178.48 431.40,176.45 431.60,177.84 431.80,180.42 432.00,176.99 432.20,177.49 432.40,176.69 432.60,177.03 432.80,177.47 433.00,178.60 433.20,176.06 433.40,175.48 433.60,177.10 433.80,177.31 434.00,178.66 434.20,177.89 434.40,176.40 434.60,177.73 434.80,178.35 435.00,177.43 435.20,176.74 435.40,177.87 435.60,176.73 435.80,175.06 436.00,178.62 436.20,175.71 436.40,176.77 436.60,176.80 436.80,176.78 437.00,176.84 437.20,175.57 437.40,177.75 437.60,177.20 437.80,177.22 438.00,178.37 438.20,178.40 438.40,178.67 438.60,179.25 438.80,177.70 439.00,175.50 439.20,177.45 439.40,177.23 439.60,177.30 439.80,176.56 440.00,176.25 440.20,178.12 440.40,178.31 440.60,176.01 440.80,177.85 441.00,177.07 441.20,176.84 441.40,178.02 441.60,177.22 441.80,176.67 442.00,177.34 442.20,175.09 442.40,176.64 442.60,176.81 442.80,175.76 443.00,177.50 443.20,177.60 443.40,176.65 443.60,177.13 443.80,178.06 444.00,178.49 444.20,176.49 444.40,177.70 444.60,178.47 444.80,177.31 445.00,176.50 445.20,176.51 445.40,177.00 445.60,176.22 445.80,179.56 446.00,176.74 446.20,177.78 446.40,177.57 446.60,178.07 446.80,176.96 447.00,175.96 447.20,179.18 447.40,177.31 447.60,177.52 447.80,177.62 448.00,178.78 448.20,178.25 448.40,178.70 448.60,178.32 448.80,177.59 449.00,177.71 449.20,176.63 449.40,175.33 449.60,177.19 449.80,176.29 450.00,180.27 450.20,179.16 450.40,178.74 450.60,176.87 450.80,179.72 451.00,175.63 451.20,176.18 451.40,176.65 451.60,176.46 451.80,177.65 452.00,177.72 452.20,179.59 452.40,178.60 452.60,178.85 452.80,177.98 453.00,177.38 453.20,176.80 453.40,175.91 453.60,176.61 453.80,177.15 454.00,178.39 454.20,175.75 454.40,176.10 454.60,177.82 454.80,176.45 455.00,177.95 455.20,177.15 455.40,176.79 455.60,176.17 455.80,177.51 456.00,176.84 456.20,176.97 456.40,176.95 456.60,177.84 456.80,177.80 457.00,175.81 457.20,177.48 457.40,178.09 457.60,178.79 457.80,178.52 458.00,177.90 458.20,176.46 458.40,176.86 458.60,178.68 458.80,176.95 459.00,178.81 459.20,179.08 459.40,176.58 459.60,178.20 459.80,177.61 460.00,179.91 460.20,178.64 460.40,177.21 460.60,178.19 460.80,176.78 461.00,177.61 461.20,177.99 461.40,177.94 461.60,178.12 461.80,176.82 462.00,175.82 462.20,177.42 462.40,176.86 462.60,176.62 462.80,180.10 463.00,179.07 463.20,177.65 463.40,176.31 463.60,176.46 463.80,178.24 464.00,179.00 464.20,177.56 464.40,178.01 464.60,178.15 464.80,179.01 465.00,175.89 465.20,178.06 465.40,178.33 465.60,178.91 465.80,178.33 466.00,176.75 466.20,177.30 466.40,176.31 466.60,178.13 466.80,178.14 467.00,178.48 467.20,176.92 467.40,176.74 467.60,179.57 467.80,178.27 468.00,179.81 468.20,178.44 468.40,176.43 468.60,178.83 468.80,179.29 469.00,177.23 469.20,175.96 469.40,178.70 469.60,177.86 469.80,178.30 470.00,175.18 470.20,178.50 470.40,175.12 470.60,177.11 470.80,178.96 471.00,176.11 471.20,176.08 471.40,177.57 471.60,179.78 471.80,179.75 472.00,177.41 472.20,179.11 472.40,178.67 472.60,178.34 472.80,178.44 473.00,177.31 473.20,178.91 473.40,179.19 473.60,180.91 473.80,179.04 474.00,175.51 474.20,176.82 474.40,178.43 474.60,178.16 474.80,176.14 475.00,177.94 475.20,177.72 475.40,178.04 475.60,177.97 475.80,179.06 476.00,180.54 476.20,178.81 476.40,176.94 476.60,177.20 476.80,177.41 477.00,178.04 477.20,177.66 477.40,177.74 477.60,177.14 477.80,179.09 478.00,178.99 478.20,179.10 478.40,178.02 478.60,178.86 478.80,176.59 479.00,177.05 479.20,177.54 479.40,178.71 479.60,177.94 479.80,176.91 480.00,178.19 480.20,178.53 480.40,178.26 480.60,177.40 480.80,178.15 481.00,177.65 481.20,177.74 481.40,177.98 481.60,178.85 481.80,179.96 482.00,179.68 482.20,178.71 482.40,177.64 482.60,177.73 482.80,177.77 483.00,179.23 483.20,175.18 483.40,178.30 483.60,175.97 483.80,178.01 484.00,179.37 484.20,177.06 484.40,175.64 484.60,179.32 484.80,179.53 485.00,178.48 485.20,179.25 485.40,177.12 485.60,179.14 485.80,179.67 486.00,178.57 486.20,178.19 486.40,179.20 486.60,179.03 486.80,177.09 487.00,179.23 487.20,178.58 487.40,177.96 487.60,179.12 487.80,178.71 488.00,178.50 488.20,177.20 488.40,178.54 488.60,176.53 488.80,177.51 489.00,175.88 489.20,175.84 489.40,178.00 489.60,177.42 489.80,177.56 490.00,178.04 490.20,177.75 490.40,176.44 490.60,177.37 490.80,177.18 491.00,176.66 491.20,177.01 491.40,176.70 491.60,176.35 491.80,176.60 492.00,177.10 492.20,178.89 492.40,175.88 492.60,177.15 492.80,175.05 493.00,178.05 493.20,176.00 493.40,176.38 493.60,177.42 493.80,177.02 494.00,174.40 494.20,176.36 494.40,175.46 494.60,176.20 494.80,175.62 495.00,176.11 495.20,175.56 495.40,175.04 495.60,176.30 495.80,173.48 496.00,174.56 496.20,174.00 496.40,174.80 496.60,174.51 496.80,174.82 497.00,174.51 497.20,174.58 497.40,173.46 497.60,175.16 497.80,175.60 498.00,174.79 498.20,174.83 498.40,174.95 498.60,177.40 498.80,176.02 499.00,176.33 499.20,175.76 499.40,175.67 499.60,175.39 499.80,177.93 500.00,174.78 500.20,176.88 500.40,176.65 500.60,176.51 500.80,175.28 501.00,175.69 501.20,177.99 501.40,176.38 501.60,178.02 501.80,177.87 502.00,177.84 502.20,178.08 502.40,176.17 502.60,176.95 502.80,178.15 503.00,176.26 503.20,179.22 503.40,177.04 503.60,177.58 503.80,176.65 504.00,178.07 504.20,177.01 504.40,177.53 504.60,176.67 504.80,179.01 505.00,176.23 505.20,178.33 505.40,178.14 505.60,178.36 505.80,176.93 506.00,178.99 506.20,178.94 506.40,178.16 506.60,178.33 506.80,177.88 507.00,178.69 507.20,177.25 507.40,178.63 507.60,178.49 507.80,176.71 508.00,175.52 508.20,178.01 508.40,177.98 508.60,179.35 508.80,178.22 509.00,177.68 509.20,176.84 509.40,178.10 509.60,177.62 509.80,177.12 510.00,178.09 510.20,179.26 510.40,178.32 510.60,177.20 510.80,178.56 511.00,177.17 511.20,176.70 511.40,178.75 511.60,177.72 511.80,179.37 512.00,178.58 512.20,177.49 512.40,178.50 512.60,179.56 512.80,178.11 513.00,177.26 513.20,177.66 513.40,177.51 513.60,177.16 513.80,177.05 514.00,178.74 514.20,179.41 514.40,177.97 514.60,179.10 514.80,179.22 515.00,179.99 515.20,178.16 515.40,178.00 515.60,178.76 515.80,178.45 516.00,178.65 516.20,179.62 516.40,177.94 516.60,178.57 516.80,177.41 517.00,178.21 517.20,177.71 517.40,177.63 517.60,178.16 517.80,177.94 518.00,178.74 518.20,179.16 518.40,176.93 518.60,179.36 518.80,176.22 519.00,178.63 519.20,179.08 519.40,177.76 519.60,178.17 519.80,177.64 520.00,179.26 520.20,175.32 520.40,177.46 520.60,176.53 520.80,178.59 521.00,179.66 521.20,179.56 521.40,179.05 521.60,178.65 521.80,177.67 522.00,179.59 522.20,179.01 522.40,177.60 522.60,177.18 522.80,177.81 523.00,179.46 523.20,179.63 523.40,179.98 523.60,177.67 523.80,178.08 524.00,179.75 524.20,178.64 524.40,179.16 524.60,177.16 524.80,178.07 525.00,178.41 525.20,178.09 525.40,178.03 525.60,176.86 525.80,180.00 526.00,178.58 526.20,177.04 526.40,179.47 526.60,178.50 526.80,179.13 527.00,178.26 527.20,177.70 527.40,177.72 527.60,178.78 527.80,179.19 528.00,178.92 528.20,179.07 528.40,179.61 528.60,178.73 528.80,179.42 529.00,180.17 529.20,178.75 529.40,178.40 529.60,178.06 529.80,177.33 530.00,176.99 530.20,179.73 530.40,178.47 530.60,177.96 530.80,179.99 531.00,179.41 531.20,178.54 531.40,179.45 531.60,178.31 531.80,178.84 532.00,180.23 532.20,179.50 532.40,178.24 532.60,179.16 532.80,179.62 533.00,178.39 533.20,178.11 533.40,180.29 533.60,178.23 533.80,177.27 534.00,178.66 534.20,180.69 534.40,179.13 534.60,179.44 534.80,176.50 535.00,178.03 535.20,179.70 535.40,178.18 535.60,179.81 535.80,179.02 536.00,178.95 536.20,180.16 536.40,178.11 536.60,178.14 536.80,178.69 537.00,178.79 537.20,176.99 537.40,179.75 537.60,178.80 537.80,178.43 538.00,179.17 538.20,178.22 538.40,179.73" fill="none" stroke="#000000" stroke-width="1.15" stroke-linejoin="round"/>
<polyline points="28.40,113.07 28.60,112.48 28.80,113.03 29.00,110.59 29.20,116.93 29.40,116.41 29.60,114.75 29.80,116.68 30.00,116.39 30.20,115.62 30.40,118.17 30.60,116.79 30.80,117.19 31.00,116.98 31.20,119.16 31.40,118.83 31.60,120.18 31.80,119.01 32.00,120.48 32.20,119.49 32.40,122.35 32.60,122.02 32.80,122.48 33.00,123.00 33.20,121.40 33.40,124.29 33.60,126.44 33.80,121.61 34.00,121.81 34.20,122.42 34.40,125.99 34.60,125.25 34.80,126.80 35.00,126.50 35.20,125.97 35.40,126.25 35.60,125.79 35.80,127.40 36.00,124.77 36.20,125.92 36.40,127.00 36.60,129.33 36.80,125.88 37.00,125.58 37.20,126.43 37.40,128.71 37.60,127.15 37.80,129.46 38.00,125.10 38.20,129.42 38.40,129.40 38.60,126.08 38.80,128.38 39.00,129.97 39.20,128.50 39.40,129.87 39.60,131.89 39.80,129.05 40.00,128.36 40.20,127.77 40.40,129.84 40.60,128.75 40.80,128.86 41.00,129.04 41.20,130.18 41.40,127.86 41.60,127.29 41.80,126.11 42.00,131.27 42.20,129.78 42.40,131.86 42.60,129.82 42.80,128.87 43.00,130.65 43.20,129.96 43.40,128.38 43.60,128.98 43.80,132.77 44.00,130.87 44.20,131.03 44.40,130.14 44.60,129.63 44.80,131.92 45.00,130.60 45.20,129.76 45.40,130.71 45.60,129.70 45.80,131.31 46.00,132.70 46.20,130.02 46.40,133.26 46.60,130.40 46.80,131.61 47.00,130.30 47.20,131.23 47.40,131.67 47.60,131.06 47.80,130.76 48.00,130.86 48.20,130.72 48.40,129.74 48.60,131.63 48.80,132.62 49.00,133.39 49.20,133.09 49.40,135.68 49.60,132.74 49.80,131.72 50.00,135.03 50.20,131.00 50.40,133.88 50.60,131.24 50.80,133.12 51.00,129.92 51.20,133.98 51.40,132.55 51.60,131.47 51.80,135.22 52.00,133.98 52.20,133.02 52.40,131.95 52.60,132.98 52.80,132.85 53.00,134.13 53.20,134.27 53.40,132.25 53.60,132.45 53.80,132.50 54.00,131.39 54.20,132.48 54.40,133.21 54.60,134.33 54.80,135.23 55.00,132.28 55.20,134.20 55.40,132.82 55.60,136.37 55.80,133.41 56.00,134.20 56.20,132.19 56.40,132.38 56.60,133.81 56.80,133.00 57.00,134.05 57.20,130.07 57.40,134.50 57.60,132.33 57.80,136.01 58.00,133.21 58.20,135.16 58.40,131.68 58.60,134.25 58.80,132.41 59.00,132.99 59.20,133.71 59.40,133.25 59.60,134.07 59.80,134.76 60.00,134.63 60.20,133.61 60.40,131.83 60.60,132.62 60.80,133.49 61.00,130.80 61.20,134.83 61.40,133.45 61.60,133.44 61.80,135.13 62.00,134.75 62.20,134.13 62.40,132.43 62.60,134.27 62.80,134.33 63.00,132.61 63.20,135.32 63.40,134.58 63.60,131.12 63.80,134.05 64.00,132.12 64.20,135.49 64.40,135.03 64.60,132.36 64.80,132.67 65.00,134.06 65.20,133.59 65.40,136.06 65.60,134.97 65.80,133.54 66.00,134.75 66.20,131.10 66.40,134.39 66.60,135.17 66.80,133.71 67.00,132.97 67.20,134.76 67.40,136.71 67.60,134.26 67.80,132.41 68.00,136.00 68.20,131.35 68.40,134.69 68.60,132.68 68.80,135.29 69.00,132.80 69.20,135.84 69.40,134.41 69.60,131.57 69.80,131.23 70.00,133.55 70.20,135.80 70.40,134.17 70.60,134.08 70.80,133.66 71.00,135.02 71.20,134.51 71.40,134.37 71.60,132.60 71.80,135.64 72.00,135.88 72.20,132.15 72.40,137.19 72.60,134.97 72.80,132.86 73.00,131.28 73.20,134.86 73.40,134.72 73.60,133.10 73.80,131.42 74.00,135.49 74.20,133.09 74.40,133.25 74.60,137.88 74.80,136.87 75.00,135.22 75.20,133.24 75.40,134.77 75.60,130.66 75.80,133.99 76.00,132.77 76.20,132.03 76.40,131.60 76.60,134.54 76.80,133.92 77.00,134.14 77.20,134.95 77.40,132.57 77.60,132.02 77.80,131.25 78.00,133.25 78.20,134.77 78.40,133.49 78.60,134.58 78.80,132.02 79.00,133.00 79.20,132.57 79.40,131.88 79.60,136.21 79.80,134.79 80.00,132.51 80.20,132.49 80.40,133.47 80.60,131.51 80.80,134.13 81.00,131.69 81.20,132.97 81.40,132.03 81.60,132.78 81.80,131.57 82.00,131.21 82.20,132.04 82.40,132.43 82.60,132.95 82.80,133.44 83.00,135.46 83.20,134.44 83.40,132.93 83.60,134.28 83.80,132.28 84.00,135.25 84.20,133.98 84.40,131.29 84.60,134.22 84.80,134.29 85.00,129.37 85.20,132.06 85.40,132.42 85.60,130.36 85.80,131.55 86.00,131.69 86.20,133.71 86.40,133.40 86.60,136.63 86.80,132.38 87.00,134.52 87.20,133.00 87.40,133.24 87.60,131.22 87.80,130.14 88.00,131.72 88.20,133.84 88.40,134.96 88.60,133.57 88.80,133.40 89.00,131.50 89.20,134.80 89.40,134.51 89.60,131.86 89.80,132.51 90.00,131.16 90.20,134.58 90.40,133.07 90.60,132.34 90.80,133.02 91.00,133.04 91.20,131.83 91.40,130.64 91.60,130.55 91.80,129.89 92.00,132.95 92.20,135.38 92.40,129.87 92.60,132.41 92.80,132.77 93.00,130.79 93.20,132.43 93.40,130.58 93.60,133.77 93.80,131.23 94.00,132.18 94.20,132.97 94.40,131.38 94.60,129.45 94.80,131.18 95.00,132.97 95.20,131.76 95.40,132.17 95.60,130.31 95.80,131.99 96.00,132.78 96.20,131.79 96.40,134.38 96.60,131.39 96.80,130.20 97.00,129.36 97.20,133.21 97.40,131.49 97.60,132.96 97.80,132.16 98.00,133.76 98.20,133.23 98.40,130.90 98.60,131.78 98.80,132.89 99.00,129.60 99.20,133.33 99.40,133.98 99.60,132.60 99.80,130.91 100.00,131.57 100.20,129.55 100.40,131.15 100.60,130.21 100.80,131.18 101.00,130.25 101.20,131.30 101.40,132.50 101.60,128.97 101.80,132.06 102.00,127.92 102.20,127.64 102.40,130.45 102.60,130.57 102.80,131.13 103.00,128.16 103.20,130.33 103.40,130.53 103.60,132.06 103.80,130.10 104.00,130.94 104.20,128.77 104.40,129.82 104.60,129.41 104.80,130.96 105.00,128.53 105.20,128.69 105.40,130.61 105.60,132.25 105.80,130.22 106.00,130.05 106.20,129.08 106.40,131.03 106.60,130.20 106.80,131.81 107.00,129.79 107.20,127.94 107.40,128.40 107.60,127.76 107.80,127.33 108.00,130.79 108.20,130.09 108.40,127.16 108.60,131.33 108.80,129.12 109.00,127.37 109.20,129.19 109.40,128.49 109.60,127.45 109.80,125.75 110.00,128.46 110.20,128.75 110.40,124.67 110.60,129.00 110.80,129.03 111.00,127.45 111.20,128.20 111.40,127.59 111.60,126.75 111.80,127.36 112.00,129.70 112.20,125.72 112.40,128.02 112.60,127.89 112.80,126.59 113.00,126.90 113.20,125.50 113.40,126.22 113.60,127.37 113.80,127.76 114.00,125.99 114.20,131.47 114.40,126.34 114.60,127.27 114.80,126.71 115.00,126.43 115.20,128.76 115.40,126.21 115.60,128.70 115.80,128.38 116.00,125.27 116.20,128.14 116.40,125.73 116.60,130.42 116.80,126.01 117.00,125.18 117.20,123.78 117.40,124.59 117.60,125.54 117.80,124.91 118.00,124.55 118.20,125.25 118.40,125.88 118.60,128.16 118.80,123.70 119.00,125.27 119.20,124.66 119.40,123.83 119.60,124.13 119.80,124.59 120.00,126.82 120.20,125.50 120.40,124.97 120.60,126.54 120.80,126.03 121.00,125.28 121.20,126.09 121.40,124.35 121.60,126.34 121.80,126.07 122.00,124.80 122.20,123.62 122.40,127.41 122.60,125.37 122.80,129.47 123.00,124.24 123.20,126.30 123.40,124.46 123.60,125.59 123.80,126.14 124.00,123.81 124.20,124.75 124.40,125.07 124.60,124.96 124.80,125.59 125.00,127.01 125.20,125.83 125.40,124.99 125.60,124.09 125.80,122.95 126.00,123.45 126.20,123.70 126.40,125.35 126.60,123.84 126.80,122.56 127.00,125.13 127.20,123.08 127.40,123.08 127.60,123.79 127.80,124.72 128.00,120.63 128.20,122.39 128.40,124.16 128.60,123.36 128.80,121.88 129.00,123.01 129.20,125.66 129.40,123.03 129.60,124.61 129.80,125.34 130.00,122.88 130.20,124.08 130.40,122.78 130.60,122.50 130.80,121.72 131.00,124.47 131.20,122.63 131.40,122.36 131.60,121.50 131.80,125.56 132.00,124.01 132.20,122.73 132.40,121.88 132.60,120.66 132.80,123.15 133.00,123.08 133.20,120.65 133.40,125.16 133.60,123.58 133.80,121.09 134.00,121.60 134.20,121.71 134.40,122.47 134.60,121.98 134.80,119.82 135.00,124.11 135.20,122.43 135.40,123.68 135.60,123.60 135.80,121.49 136.00,122.19 136.20,122.67 136.40,122.65 136.60,121.27 136.80,120.56 137.00,121.40 137.20,120.16 137.40,120.43 137.60,118.29 137.80,121.18 138.00,119.55 138.20,120.13 138.40,120.76 138.60,121.20 138.80,123.33 139.00,120.89 139.20,118.55 139.40,120.64 139.60,119.54 139.80,120.86 140.00,119.26 140.20,119.15 140.40,119.34 140.60,119.10 140.80,117.34 141.00,118.88 141.20,119.72 141.40,121.34 141.60,119.16 141.80,118.97 142.00,120.22 142.20,120.08 142.40,121.49 142.60,119.98 142.80,119.05 143.00,120.87 143.20,121.06 143.40,118.17 143.60,118.97 143.80,116.31 144.00,118.07 144.20,117.26 144.40,117.94 144.60,117.66 144.80,118.01 145.00,117.93 145.20,118.77 145.40,118.32 145.60,117.12 145.80,116.02 146.00,119.47 146.20,119.64 146.40,116.94 146.60,118.28 146.80,115.27 147.00,115.13 147.20,116.86 147.40,119.21 147.60,115.60 147.80,115.82 148.00,119.15 148.20,114.17 148.40,117.64 148.60,117.33 148.80,116.28 149.00,116.75 149.20,120.07 149.40,114.74 149.60,115.80 149.80,115.82 150.00,115.11 150.20,114.11 150.40,118.14 150.60,116.14 150.80,113.29 151.00,114.68 151.20,116.15 151.40,116.07 151.60,113.40 151.80,115.20 152.00,115.60 152.20,115.69 152.40,115.60 152.60,112.40 152.80,117.44 153.00,115.05 153.20,117.18 153.40,118.56 153.60,114.22 153.80,112.62 154.00,115.45 154.20,113.89 154.40,113.40 154.60,112.49 154.80,116.20 155.00,113.11 155.20,111.67 155.40,112.90 155.60,111.81 155.80,113.56 156.00,112.65 156.20,111.67 156.40,113.90 156.60,112.07 156.80,113.89 157.00,114.56 157.20,112.21 157.40,111.73 157.60,112.84 157.80,113.73 158.00,112.41 158.20,112.55 158.40,112.25 158.60,112.67 158.80,113.06 159.00,111.14 159.20,111.41 159.40,112.10 159.60,111.08 159.80,112.17 160.00,112.70 160.20,111.90 160.40,111.06 160.60,110.80 160.80,114.32 161.00,113.08 161.20,110.26 161.40,110.63 161.60,114.41 161.80,113.88 162.00,111.93 162.20,113.35 162.40,109.63 162.60,111.69 162.80,112.71 163.00,109.05 163.20,110.54 163.40,112.72 163.60,113.19 163.80,110.76 164.00,111.98 164.20,113.80 164.40,111.01 164.60,109.67 164.80,111.43 165.00,110.96 165.20,113.32 165.40,111.71 165.60,110.35 165.80,114.82 166.00,110.75 166.20,112.10 166.40,112.38 166.60,112.52 166.80,111.66 167.00,112.23 167.20,111.30 167.40,109.41 167.60,111.08 167.80,110.93 168.00,111.12 168.20,111.56 168.40,110.50 168.60,113.24 168.80,113.60 169.00,108.34 169.20,111.46 169.40,110.48 169.60,107.86 169.80,112.12 170.00,110.72 170.20,111.10 170.40,110.76 170.60,113.24 170.80,113.49 171.00,112.18 171.20,112.80 171.40,111.71 171.60,112.20 171.80,110.87 172.00,111.96 172.20,110.91 172.40,112.42 172.60,113.04 172.80,112.27 173.00,113.42 173.20,115.41 173.40,108.52 173.60,111.24 173.80,110.11 174.00,109.92 174.20,108.36 174.40,110.21 174.60,109.95 174.80,109.89 175.00,111.07 175.20,111.28 175.40,109.48 175.60,114.84 175.80,113.39 176.00,112.90 176.20,115.02 176.40,113.98 176.60,112.15 176.80,116.70 177.00,113.36 177.20,115.63 177.40,116.33 177.60,118.25 177.80,118.23 178.00,116.99 178.20,115.87 178.40,116.54 178.60,118.82 178.80,119.97 179.00,118.41 179.20,116.91 179.40,119.42 179.60,117.62 179.80,117.74 180.00,118.09 180.20,119.47 180.40,119.19 180.60,120.35 180.80,120.93 181.00,120.00 181.20,116.17 181.40,117.21 181.60,119.97 181.80,119.81 182.00,123.07 182.20,120.16 182.40,120.14 182.60,121.83 182.80,122.14 183.00,120.27 183.20,121.61 183.40,119.51 183.60,119.92 183.80,124.14 184.00,119.55 184.20,122.95 184.40,122.75 184.60,123.02 184.80,123.35 185.00,123.00 185.20,119.35 185.40,121.08 185.60,121.77 185.80,124.03 186.00,121.31 186.20,122.03 186.40,122.65 186.60,125.13 186.80,121.41 187.00,121.66 187.20,124.57 187.40,120.85 187.60,124.43 187.80,123.46 188.00,122.02 188.20,123.77 188.40,123.09 188.60,124.85 188.80,125.26 189.00,126.96 189.20,124.99 189.40,125.28 189.60,124.46 189.80,125.36 190.00,126.98 190.20,122.94 190.40,126.69 190.60,125.14 190.80,126.11 191.00,126.58 191.20,127.44 191.40,126.70 191.60,125.93 191.80,127.03 192.00,126.73 192.20,126.54 192.40,127.22 192.60,128.26 192.80,127.34 193.00,127.47 193.20,125.56 193.40,127.29 193.60,124.96 193.80,128.67 194.00,126.45 194.20,129.67 194.40,132.14 194.60,127.15 194.80,129.99 195.00,128.78 195.20,127.53 195.40,127.21 195.60,129.26 195.80,130.51 196.00,129.14 196.20,126.61 196.40,127.35 196.60,128.57 196.80,130.87 197.00,129.45 197.20,129.59 197.40,130.90 197.60,129.00 197.80,129.24 198.00,129.19 198.20,127.03 198.40,130.25 198.60,130.24 198.80,131.11 199.00,128.15 199.20,128.74 199.40,131.27 199.60,130.48 199.80,132.02 200.00,128.96 200.20,130.52 200.40,129.36 200.60,130.80 200.80,129.75 201.00,131.25 201.20,132.07 201.40,131.57 201.60,128.15 201.80,132.06 202.00,131.43 202.20,129.41 202.40,129.68 202.60,130.99 202.80,131.84 203.00,130.46 203.20,128.87 203.40,131.59 203.60,131.49 203.80,134.72 204.00,129.55 204.20,134.93 204.40,133.89 204.60,131.92 204.80,135.26 205.00,131.72 205.20,133.00 205.40,130.65 205.60,131.83 205.80,130.34 206.00,129.60 206.20,131.47 206.40,130.96 206.60,132.73 206.80,133.75 207.00,131.77 207.20,132.13 207.40,132.35 207.60,129.78 207.80,132.54 208.00,132.22 208.20,132.18 208.40,130.74 208.60,129.54 208.80,132.00 209.00,132.83 209.20,134.30 209.40,134.04 209.60,134.52 209.80,133.04 210.00,134.17 210.20,132.30 210.40,133.50 210.60,133.95 210.80,136.45 211.00,133.05 211.20,130.96 211.40,134.70 211.60,131.69 211.80,132.74 212.00,132.44 212.20,131.61 212.40,134.78 212.60,133.77 212.80,132.10 213.00,133.08 213.20,132.40 213.40,133.89 213.60,132.53 213.80,132.01 214.00,132.20 214.20,132.51 214.40,133.55 214.60,131.88 214.80,133.06 215.00,133.82 215.20,136.49 215.40,134.44 215.60,129.08 215.80,132.56 216.00,132.41 216.20,133.77 216.40,135.53 216.60,134.40 216.80,130.15 217.00,133.82 217.20,133.56 217.40,134.01 217.60,135.35 217.80,131.94 218.00,135.03 218.20,131.19 218.40,133.59 218.60,134.07 218.80,136.75 219.00,132.58 219.20,131.21 219.40,134.56 219.60,132.69 219.80,135.81 220.00,132.65 220.20,132.42 220.40,135.40 220.60,133.79 220.80,135.08 221.00,131.69 221.20,136.01 221.40,132.89 221.60,134.86 221.80,132.32 222.00,131.56 222.20,133.37 222.40,133.98 222.60,135.94 222.80,134.23 223.00,134.74 223.20,134.66 223.40,138.09 223.60,132.58 223.80,135.48 224.00,133.51 224.20,134.07 224.40,132.93 224.60,136.29 224.80,131.92 225.00,131.81 225.20,133.35 225.40,132.00 225.60,134.58 225.80,134.86 226.00,132.49 226.20,134.61 226.40,132.56 226.60,133.39 226.80,133.42 227.00,136.00 227.20,133.33 227.40,132.01 227.60,131.96 227.80,134.88 228.00,130.81 228.20,132.44 228.40,132.51 228.60,129.56 228.80,132.27 229.00,134.27 229.20,133.13 229.40,131.48 229.60,133.63 229.80,133.31 230.00,135.34 230.20,131.38 230.40,131.78 230.60,132.28 230.80,131.92 231.00,132.11 231.20,131.70 231.40,130.73 231.60,129.29 231.80,130.56 232.00,129.19 232.20,129.43 232.40,129.88 232.60,131.05 232.80,131.21 233.00,128.19 233.20,129.65 233.40,129.89 233.60,128.18 233.80,125.38 234.00,124.05 234.20,127.53 234.40,127.04 234.60,125.48 234.80,123.00 235.00,125.98 235.20,125.25 235.40,123.26 235.60,122.77 235.80,120.70 236.00,124.82 236.20,121.96 236.40,125.70 236.60,126.34 236.80,126.03 237.00,128.65 237.20,126.49 237.40,128.21 237.60,128.87 237.80,128.41 238.00,127.71 238.20,130.18 238.40,129.48 238.60,128.31 238.80,128.29 239.00,128.57 239.20,131.36 239.40,128.00 239.60,127.09 239.80,125.39 240.00,124.51 240.20,122.77 240.40,124.84 240.60,123.56 240.80,121.06 241.00,119.49 241.20,120.40 241.40,119.76 241.60,118.69 241.80,121.50 242.00,122.14 242.20,122.95 242.40,125.28 242.60,124.44 242.80,128.33 243.00,125.98 243.20,128.97 243.40,129.88 243.60,129.26 243.80,130.67 244.00,128.85 244.20,128.95 244.40,131.12 244.60,130.69 244.80,132.81 245.00,132.25 245.20,133.28 245.40,133.04 245.60,133.04 245.80,133.03 246.00,132.50 246.20,132.49 246.40,136.09 246.60,130.87 246.80,133.15 247.00,134.89 247.20,134.14 247.40,135.58 247.60,134.43 247.80,131.94 248.00,133.29 248.20,131.82 248.40,135.20 248.60,135.86 248.80,133.25 249.00,134.65 249.20,133.32 249.40,131.90 249.60,132.88 249.80,131.70 250.00,133.12 250.20,134.21 250.40,134.93 250.60,135.72 250.80,133.42 251.00,134.21 251.20,134.45 251.40,134.61 251.60,129.82 251.80,132.69 252.00,134.86 252.20,132.14 252.40,134.02 252.60,134.79 252.80,130.91 253.00,133.24 253.20,133.78 253.40,133.39 253.60,131.16 253.80,133.70 254.00,132.33 254.20,134.16 254.40,133.50 254.60,131.99 254.80,132.87 255.00,131.50 255.20,131.31 255.40,129.89 255.60,131.55 255.80,132.78 256.00,131.56 256.20,131.10 256.40,129.95 256.60,129.79 256.80,131.24 257.00,127.76 257.20,132.40 257.40,129.09 257.60,131.91 257.80,130.24 258.00,127.78 258.20,129.23 258.40,128.48 258.60,128.76 258.80,129.30 259.00,127.58 259.20,127.69 259.40,128.24 259.60,127.21 259.80,128.77 260.00,130.10 260.20,130.46 260.40,130.70 260.60,130.18 260.80,132.12 261.00,128.41 261.20,130.96 261.40,131.28 261.60,133.20 261.80,133.06 262.00,133.41 262.20,132.46 262.40,133.90 262.60,131.29 262.80,132.91 263.00,129.95 263.20,135.39 263.40,135.31 263.60,132.31 263.80,132.03 264.00,130.34 264.20,131.19 264.40,133.56 264.60,133.21 264.80,131.41 265.00,132.82 265.20,132.62 265.40,134.24 265.60,134.61 265.80,133.33 266.00,133.82 266.20,133.68 266.40,130.78 266.60,133.97 266.80,133.64 267.00,135.31 267.20,131.19 267.40,134.84 267.60,132.89 267.80,134.16 268.00,135.49 268.20,131.73 268.40,131.97 268.60,135.20 268.80,132.21 269.00,132.46 269.20,134.65 269.40,133.52 269.60,135.43 269.80,134.22 270.00,133.76 270.20,135.88 270.40,136.85 270.60,133.64 270.80,135.84 271.00,135.35 271.20,133.91 271.40,134.38 271.60,132.42 271.80,132.86 272.00,134.09 272.20,133.63 272.40,135.50 272.60,131.84 272.80,133.23 273.00,132.73 273.20,133.40 273.40,135.22 273.60,131.88 273.80,134.74 274.00,132.70 274.20,133.04 274.40,134.87 274.60,133.05 274.80,134.35 275.00,133.54 275.20,133.11 275.40,132.81 275.60,129.29 275.80,132.19 276.00,133.43 276.20,133.43 276.40,131.01 276.60,134.45 276.80,133.80 277.00,131.11 277.20,131.41 277.40,133.51 277.60,130.26 277.80,131.60 278.00,132.48 278.20,132.28 278.40,132.27 278.60,132.78 278.80,130.99 279.00,131.28 279.20,134.68 279.40,129.66 279.60,130.79 279.80,131.35 280.00,130.02 280.20,132.35 280.40,130.41 280.60,130.99 280.80,125.85 281.00,130.72 281.20,130.19 281.40,127.04 281.60,129.49 281.80,127.66 282.00,128.34 282.20,129.45 282.40,127.03 282.60,125.53 282.80,127.01 283.00,125.30 283.20,125.99 283.40,126.00 283.60,125.97 283.80,128.42 284.00,127.71 284.20,124.95 284.40,127.37 284.60,122.93 284.80,123.78 285.00,123.81 285.20,124.87 285.40,123.31 285.60,121.88 285.80,121.88 286.00,119.70 286.20,119.08 286.40,114.34 286.60,111.15 286.80,110.82 287.00,110.28 287.20,107.04 287.40,105.42 287.60,102.70 287.80,100.13 288.00,98.60 288.20,95.03 288.40,96.82 288.60,93.88 288.80,95.90 289.00,95.53 289.20,100.19 289.40,99.62 289.60,106.26 289.80,104.94 290.00,109.65 290.20,111.41 290.40,112.52 290.60,117.46 290.80,116.45 291.00,121.10 291.20,119.01 291.40,120.57 291.60,120.00 291.80,124.57 292.00,125.96 292.20,125.91 292.40,125.93 292.60,125.49 292.80,130.64 293.00,128.89 293.20,125.72 293.40,128.28 293.60,125.43 293.80,131.64 294.00,132.50 294.20,132.06 294.40,130.19 294.60,129.67 294.80,128.75 295.00,131.66 295.20,130.05 295.40,130.74 295.60,130.53 295.80,131.13 296.00,132.96 296.20,134.20 296.40,132.15 296.60,132.08 296.80,130.59 297.00,130.52 297.20,130.84 297.40,133.66 297.60,132.85 297.80,133.93 298.00,133.24 298.20,132.14 298.40,131.02 298.60,132.31 298.80,130.88 299.00,135.75 299.20,133.36 299.40,132.52 299.60,135.88 299.80,132.58 300.00,133.94 300.20,132.97 300.40,133.74 300.60,132.76 300.80,134.00 301.00,135.35 301.20,131.61 301.40,130.29 301.60,135.35 301.80,133.72 302.00,134.75 302.20,133.14 302.40,135.75 302.60,136.18 302.80,132.00 303.00,134.62 303.20,132.85 303.40,131.47 303.60,133.34 303.80,134.59 304.00,131.89 304.20,132.04 304.40,135.61 304.60,133.95 304.80,134.49 305.00,132.35 305.20,133.06 305.40,134.18 305.60,134.30 305.80,134.26 306.00,136.32 306.20,134.34 306.40,131.98 306.60,132.93 306.80,134.10 307.00,136.00 307.20,133.27 307.40,133.71 307.60,134.25 307.80,133.32 308.00,133.18 308.20,134.03 308.40,135.78 308.60,135.09 308.80,134.04 309.00,135.03 309.20,132.69 309.40,135.92 309.60,135.58 309.80,134.99 310.00,132.31 310.20,137.47 310.40,130.56 310.60,133.28 310.80,133.42 311.00,135.70 311.20,132.66 311.40,135.11 311.60,134.59 311.80,134.43 312.00,136.05 312.20,136.87 312.40,135.46 312.60,134.55 312.80,131.77 313.00,137.03 313.20,134.58 313.40,132.44 313.60,135.27 313.80,137.09 314.00,134.90 314.20,133.48 314.40,138.28 314.60,136.01 314.80,135.66 315.00,136.62 315.20,132.19 315.40,135.14 315.60,135.02 315.80,138.43 316.00,134.50 316.20,134.53 316.40,133.38 316.60,134.19 316.80,135.06 317.00,135.72 317.20,135.09 317.40,138.17 317.60,136.08 317.80,136.29 318.00,137.31 318.20,136.30 318.40,134.69 318.60,133.28 318.80,135.93 319.00,134.28 319.20,138.28 319.40,134.37 319.60,132.34 319.80,135.49 320.00,136.92 320.20,135.14 320.40,135.67 320.60,135.63 320.80,137.80 321.00,135.82 321.20,135.34 321.40,134.53 321.60,133.10 321.80,137.32 322.00,136.95 322.20,134.02 322.40,136.18 322.60,135.77 322.80,134.78 323.00,134.52 323.20,136.33 323.40,133.60 323.60,134.53 323.80,135.13 324.00,135.21 324.20,134.91 324.40,135.49 324.60,135.90 324.80,133.91 325.00,135.25 325.20,134.38 325.40,137.17 325.60,133.12 325.80,134.72 326.00,135.98 326.20,134.60 326.40,134.51 326.60,134.20 326.80,135.35 327.00,133.28 327.20,134.75 327.40,134.69 327.60,132.78 327.80,135.14 328.00,134.09 328.20,135.12 328.40,135.85 328.60,135.10 328.80,132.96 329.00,134.98 329.20,132.29 329.40,133.39 329.60,136.68 329.80,134.34 330.00,136.41 330.20,133.96 330.40,134.16 330.60,132.54 330.80,135.29 331.00,133.64 331.20,134.68 331.40,134.32 331.60,134.36 331.80,133.96 332.00,133.34 332.20,133.26 332.40,132.17 332.60,130.05 332.80,133.46 333.00,135.45 333.20,133.87 333.40,135.37 333.60,132.60 333.80,130.36 334.00,130.04 334.20,132.10 334.40,131.21 334.60,130.17 334.80,131.02 335.00,127.69 335.20,129.92 335.40,128.40 335.60,128.58 335.80,129.57 336.00,127.39 336.20,129.11 336.40,128.77 336.60,125.72 336.80,129.80 337.00,124.92 337.20,126.54 337.40,127.84 337.60,123.99 337.80,128.82 338.00,129.34 338.20,128.06 338.40,129.03 338.60,129.41 338.80,129.30 339.00,131.49 339.20,129.97 339.40,130.83 339.60,131.78 339.80,132.81 340.00,133.51 340.20,130.33 340.40,129.88 340.60,132.73 340.80,133.10 341.00,131.94 341.20,134.05 341.40,134.69 341.60,134.55 341.80,136.44 342.00,132.97 342.20,134.55 342.40,137.28 342.60,135.72 342.80,133.42 343.00,135.33 343.20,136.77 343.40,138.10 343.60,136.29 343.80,137.07 344.00,134.09 344.20,135.35 344.40,137.39 344.60,134.56 344.80,135.86 345.00,133.50 345.20,138.10 345.40,136.00 345.60,137.01 345.80,134.29 346.00,134.61 346.20,138.90 346.40,136.05 346.60,135.84 346.80,137.33 347.00,137.44 347.20,134.11 347.40,135.49 347.60,136.93 347.80,136.91 348.00,137.43 348.20,136.08 348.40,136.67 348.60,137.38 348.80,136.20 349.00,136.04 349.20,136.46 349.40,137.24 349.60,137.06 349.80,136.65 350.00,136.98 350.20,137.27 350.40,137.79 350.60,137.87 350.80,135.68 351.00,138.73 351.20,135.30 351.40,138.20 351.60,136.54 351.80,138.28 352.00,138.94 352.20,135.03 352.40,138.37 352.60,137.94 352.80,136.97 353.00,138.12 353.20,136.97 353.40,137.80 353.60,136.26 353.80,138.72 354.00,138.47 354.20,138.69 354.40,136.84 354.60,140.17 354.80,140.37 355.00,137.64 355.20,137.21 355.40,137.24 355.60,138.71 355.80,139.17 356.00,136.83 356.20,135.14 356.40,138.44 356.60,137.80 356.80,138.09 357.00,138.56 357.20,136.41 357.40,137.98 357.60,137.51 357.80,138.41 358.00,139.53 358.20,137.93 358.40,136.80 358.60,139.59 358.80,138.89 359.00,137.69 359.20,135.58 359.40,136.81 359.60,138.16 359.80,138.70 360.00,137.29 360.20,138.57 360.40,137.16 360.60,137.45 360.80,138.71 361.00,137.66 361.20,138.21 361.40,139.18 361.60,139.52 361.80,137.27 362.00,137.72 362.20,136.31 362.40,136.34 362.60,138.46 362.80,137.39 363.00,135.64 363.20,138.78 363.40,136.99 363.60,137.68 363.80,138.64 364.00,138.62 364.20,138.03 364.40,135.51 364.60,138.86 364.80,136.84 365.00,136.28 365.20,135.25 365.40,139.87 365.60,138.34 365.80,138.30 366.00,138.96 366.20,138.07 366.40,136.25 366.60,139.07 366.80,139.49 367.00,138.87 367.20,140.20 367.40,140.69 367.60,137.17 367.80,137.64 368.00,139.38 368.20,138.46 368.40,138.51 368.60,139.46 368.80,139.21 369.00,137.68 369.20,138.42 369.40,137.34 369.60,138.02 369.80,136.84 370.00,135.74 370.20,137.65 370.40,137.53 370.60,139.46 370.80,140.35 371.00,138.35 371.20,138.94 371.40,137.51 371.60,137.14 371.80,137.98 372.00,137.99 372.20,138.75 372.40,138.52 372.60,140.52 372.80,138.11 373.00,134.96 373.20,138.56 373.40,137.56 373.60,138.68 373.80,139.87 374.00,137.60 374.20,138.34 374.40,139.11 374.60,137.23 374.80,138.88 375.00,139.17 375.20,139.52 375.40,139.90 375.60,139.61 375.80,139.00 376.00,136.72 376.20,135.07 376.40,137.29 376.60,140.36 376.80,138.69 377.00,135.66 377.20,138.02 377.40,139.03 377.60,136.21 377.80,139.32 378.00,137.13 378.20,139.94 378.40,138.66 378.60,142.60 378.80,136.93 379.00,139.01 379.20,136.77 379.40,140.14 379.60,138.84 379.80,139.87 380.00,138.91 380.20,137.22 380.40,137.90 380.60,137.16 380.80,137.42 381.00,138.95 381.20,140.15 381.40,139.89 381.60,139.46 381.80,138.10 382.00,139.49 382.20,137.77 382.40,139.13 382.60,139.96 382.80,138.67 383.00,138.33 383.20,138.39 383.40,139.74 383.60,138.58 383.80,137.19 384.00,138.49 384.20,137.69 384.40,140.96 384.60,139.09 384.80,137.23 385.00,139.46 385.20,140.05 385.40,139.64 385.60,138.73 385.80,139.39 386.00,139.58 386.20,140.52 386.40,139.73 386.60,142.17 386.80,139.05 387.00,141.27 387.20,139.39 387.40,137.23 387.60,137.93 387.80,137.14 388.00,137.29 388.20,141.00 388.40,138.67 388.60,140.29 388.80,138.43 389.00,139.56 389.20,138.27 389.40,140.71 389.60,139.32 389.80,139.10 390.00,139.48 390.20,142.45 390.40,140.30 390.60,140.81 390.80,138.22 391.00,138.98 391.20,140.19 391.40,137.51 391.60,141.55 391.80,140.23 392.00,139.89 392.20,139.68 392.40,139.65 392.60,139.34 392.80,141.74 393.00,140.87 393.20,141.59 393.40,139.67 393.60,138.96 393.80,141.79 394.00,138.58 394.20,139.35 394.40,141.03 394.60,141.51 394.80,138.52 395.00,139.84 395.20,140.23 395.40,140.04 395.60,139.15 395.80,141.08 396.00,139.59 396.20,139.96 396.40,137.46 396.60,140.15 396.80,137.87 397.00,141.19 397.20,141.29 397.40,139.69 397.60,140.53 397.80,140.47 398.00,140.16 398.20,140.80 398.40,140.20 398.60,139.76 398.80,139.37 399.00,142.44 399.20,140.60 399.40,140.33 399.60,141.26 399.80,139.87 400.00,139.88 400.20,141.67 400.40,141.62 400.60,141.18 400.80,138.50 401.00,140.41 401.20,140.30 401.40,140.89 401.60,139.22 401.80,139.01 402.00,140.16 402.20,139.20 402.40,138.97 402.60,140.20 402.80,141.42 403.00,140.44 403.20,141.64 403.40,139.02 403.60,141.11 403.80,140.21 404.00,139.13 404.20,139.68 404.40,139.13 404.60,139.90 404.80,139.23 405.00,141.68 405.20,139.67 405.40,138.34 405.60,139.83 405.80,140.52 406.00,139.62 406.20,141.04 406.40,138.83 406.60,138.86 406.80,141.86 407.00,139.83 407.20,140.43 407.40,140.32 407.60,140.35 407.80,139.63 408.00,139.26 408.20,140.72 408.40,138.70 408.60,139.32 408.80,139.89 409.00,138.43 409.20,136.88 409.40,139.14 409.60,139.71 409.80,138.51 410.00,135.97 410.20,138.60 410.40,140.04 410.60,135.64 410.80,134.14 411.00,137.10 411.20,137.52 411.40,138.46 411.60,138.64 411.80,137.92 412.00,138.65 412.20,138.59 412.40,138.53 412.60,138.49 412.80,138.55 413.00,139.74 413.20,139.52 413.40,138.64 413.60,141.38 413.80,138.50 414.00,139.18 414.20,139.70 414.40,137.33 414.60,139.22 414.80,140.76 415.00,140.76 415.20,138.39 415.40,138.87 415.60,138.61 415.80,139.65 416.00,139.88 416.20,138.08 416.40,140.39 416.60,140.12 416.80,139.97 417.00,139.27 417.20,139.87 417.40,137.98 417.60,140.39 417.80,140.38 418.00,140.02 418.20,138.75 418.40,141.68 418.60,141.52 418.80,137.95 419.00,140.68 419.20,140.38 419.40,137.15 419.60,140.83 419.80,140.99 420.00,141.08 420.20,140.42 420.40,139.46 420.60,139.63 420.80,140.86 421.00,141.65 421.20,139.68 421.40,139.94 421.60,141.10 421.80,137.72 422.00,140.81 422.20,140.02 422.40,137.70 422.60,141.21 422.80,139.22 423.00,141.25 423.20,141.95 423.40,138.85 423.60,138.91 423.80,140.32 424.00,138.27 424.20,141.21 424.40,140.57 424.60,141.52 424.80,138.20 425.00,140.61 425.20,140.93 425.40,138.27 425.60,141.45 425.80,138.78 426.00,140.62 426.20,138.86 426.40,141.35 426.60,142.44 426.80,140.51 427.00,140.49 427.20,141.99 427.40,139.94 427.60,140.54 427.80,141.45 428.00,141.00 428.20,142.36 428.40,141.93 428.60,142.80 428.80,140.53 429.00,141.88 429.20,139.62 429.40,141.66 429.60,142.67 429.80,143.38 430.00,139.16 430.20,140.44 430.40,141.49 430.60,139.63 430.80,141.32 431.00,141.32 431.20,140.12 431.40,139.76 431.60,139.63 431.80,141.08 432.00,142.22 432.20,141.08 432.40,144.01 432.60,139.02 432.80,140.09 433.00,141.57 433.20,139.45 433.40,141.20 433.60,141.76 433.80,141.02 434.00,140.56 434.20,141.94 434.40,141.33 434.60,141.70 434.80,141.50 435.00,140.08 435.20,139.59 435.40,140.44 435.60,141.11 435.80,140.68 436.00,142.03 436.20,141.22 436.40,142.07 436.60,141.08 436.80,140.11 437.00,141.95 437.20,141.55 437.40,139.99 437.60,140.51 437.80,144.26 438.00,137.04 438.20,142.33 438.40,141.08 438.60,140.94 438.80,140.68 439.00,140.44 439.20,143.82 439.40,140.53 439.60,140.70 439.80,142.00 440.00,141.52 440.20,140.87 440.40,140.75 440.60,139.54 440.80,142.37 441.00,139.87 441.20,138.28 441.40,142.35 441.60,142.01 441.80,141.54 442.00,140.54 442.20,142.55 442.40,139.90 442.60,138.61 442.80,141.37 443.00,142.13 443.20,141.92 443.40,143.64 443.60,142.19 443.80,140.96 444.00,141.00 444.20,142.28 444.40,141.18 444.60,141.10 444.80,139.20 445.00,140.91 445.20,139.76 445.40,141.56 445.60,141.46 445.80,142.14 446.00,143.41 446.20,141.11 446.40,143.02 446.60,140.02 446.80,141.53 447.00,142.47 447.20,143.65 447.40,140.08 447.60,141.08 447.80,141.56 448.00,141.28 448.20,140.29 448.40,139.50 448.60,139.99 448.80,141.33 449.00,139.87 449.20,143.52 449.40,142.89 449.60,139.23 449.80,140.89 450.00,143.02 450.20,143.17 450.40,142.79 450.60,139.82 450.80,141.07 451.00,143.00 451.20,141.64 451.40,140.99 451.60,142.12 451.80,142.69 452.00,141.71 452.20,141.84 452.40,142.82 452.60,140.92 452.80,140.52 453.00,142.48 453.20,140.20 453.40,142.18 453.60,140.76 453.80,142.60 454.00,140.25 454.20,142.96 454.40,141.98 454.60,141.30 454.80,140.66 455.00,141.49 455.20,140.61 455.40,140.30 455.60,142.94 455.80,142.40 456.00,143.14 456.20,140.16 456.40,139.48 456.60,139.90 456.80,142.50 457.00,142.69 457.20,139.62 457.40,142.96 457.60,141.28 457.80,140.41 458.00,141.71 458.20,142.47 458.40,141.57 458.60,141.62 458.80,140.86 459.00,139.22 459.20,141.42 459.40,139.98 459.60,142.56 459.80,140.89 460.00,143.40 460.20,140.07 460.40,143.53 460.60,140.90 460.80,140.90 461.00,142.27 461.20,142.98 461.40,141.91 461.60,141.55 461.80,144.27 462.00,142.57 462.20,140.61 462.40,141.70 462.60,143.95 462.80,142.40 463.00,142.98 463.20,144.37 463.40,141.36 463.60,142.48 463.80,141.30 464.00,142.06 464.20,142.70 464.40,140.56 464.60,142.26 464.80,142.27 465.00,143.32 465.20,141.44 465.40,140.67 465.60,142.59 465.80,140.86 466.00,142.36 466.20,142.81 466.40,141.17 466.60,142.04 466.80,141.00 467.00,138.95 467.20,140.53 467.40,139.82 467.60,142.23 467.80,141.00 468.00,141.95 468.20,142.17 468.40,143.45 468.60,141.85 468.80,141.79 469.00,142.83 469.20,145.20 469.40,142.18 469.60,142.67 469.80,142.07 470.00,141.49 470.20,140.54 470.40,142.21 470.60,142.00 470.80,142.03 471.00,144.58 471.20,141.95 471.40,142.71 471.60,141.94 471.80,144.48 472.00,142.02 472.20,144.47 472.40,142.06 472.60,143.25 472.80,143.53 473.00,142.11 473.20,143.35 473.40,142.46 473.60,141.53 473.80,141.63 474.00,142.77 474.20,144.42 474.40,141.85 474.60,143.02 474.80,141.50 475.00,142.70 475.20,140.94 475.40,141.53 475.60,142.41 475.80,141.58 476.00,142.12 476.20,143.56 476.40,142.28 476.60,141.62 476.80,141.04 477.00,141.83 477.20,143.72 477.40,142.34 477.60,142.27 477.80,143.24 478.00,143.37 478.20,143.56 478.40,142.02 478.60,141.40 478.80,140.55 479.00,141.65 479.20,142.00 479.40,143.23 479.60,142.77 479.80,141.78 480.00,143.40 480.20,141.00 480.40,141.22 480.60,141.08 480.80,141.17 481.00,142.10 481.20,141.44 481.40,141.53 481.60,143.86 481.80,140.73 482.00,141.21 482.20,142.09 482.40,142.84 482.60,142.89 482.80,142.04 483.00,141.92 483.20,142.03 483.40,143.15 483.60,141.29 483.80,139.69 484.00,142.51 484.20,140.99 484.40,142.22 484.60,143.82 484.80,142.38 485.00,144.30 485.20,140.49 485.40,142.51 485.60,142.67 485.80,143.14 486.00,141.41 486.20,142.38 486.40,142.33 486.60,142.28 486.80,140.65 487.00,140.25 487.20,142.74 487.40,142.51 487.60,142.16 487.80,142.80 488.00,143.28 488.20,140.79 488.40,142.91 488.60,143.68 488.80,143.14 489.00,142.65 489.20,142.75 489.40,140.37 489.60,141.39 489.80,143.03 490.00,143.51 490.20,142.36 490.40,141.32 490.60,141.64 490.80,142.70 491.00,145.29 491.20,142.55 491.40,141.07 491.60,142.29 491.80,142.03 492.00,145.74 492.20,142.11 492.40,141.43 492.60,141.25 492.80,139.92 493.00,140.04 493.20,140.60 493.40,140.15 493.60,141.16 493.80,140.96 494.00,141.78 494.20,142.30 494.40,140.70 494.60,140.20 494.80,138.25 495.00,140.55 495.20,140.71 495.40,139.00 495.60,139.25 495.80,138.74 496.00,140.48 496.20,139.82 496.40,140.29 496.60,137.47 496.80,141.48 497.00,137.49 497.20,137.13 497.40,138.29 497.60,137.34 497.80,139.80 498.00,137.29 498.20,136.92 498.40,139.35 498.60,138.96 498.80,136.76 499.00,137.21 499.20,137.43 499.40,137.76 499.60,139.92 499.80,139.59 500.00,139.55 500.20,140.80 500.40,138.78 500.60,139.89 500.80,139.05 501.00,138.49 501.20,141.28 501.40,137.76 501.60,139.82 501.80,139.34 502.00,138.32 502.20,139.84 502.40,140.45 502.60,140.99 502.80,139.72 503.00,141.53 503.20,141.35 503.40,141.78 503.60,138.93 503.80,140.59 504.00,140.49 504.20,141.84 504.40,140.50 504.60,140.81 504.80,140.19 505.00,140.19 505.20,140.51 505.40,142.60 505.60,140.47 505.80,139.04 506.00,142.00 506.20,141.24 506.40,142.35 506.60,142.36 506.80,141.49 507.00,141.40 507.20,141.29 507.40,141.90 507.60,141.10 507.80,142.16 508.00,143.45 508.20,141.29 508.40,141.35 508.60,141.36 508.80,142.71 509.00,142.77 509.20,143.62 509.40,142.87 509.60,142.26 509.80,142.63 510.00,140.77 510.20,142.77 510.40,142.37 510.60,144.40 510.80,143.67 511.00,141.35 511.20,141.63 511.40,143.18 511.60,140.07 511.80,141.29 512.00,142.67 512.20,142.97 512.40,142.49 512.60,143.53 512.80,142.03 513.00,142.42 513.20,142.13 513.40,141.19 513.60,142.40 513.80,141.77 514.00,142.45 514.20,139.62 514.40,142.49 514.60,141.82 514.80,141.75 515.00,142.45 515.20,141.91 515.40,143.39 515.60,143.73 515.80,143.36 516.00,143.45 516.20,142.82 516.40,142.48 516.60,141.11 516.80,142.08 517.00,143.74 517.20,143.28 517.40,141.97 517.60,142.60 517.80,143.60 518.00,142.33 518.20,144.20 518.40,141.72 518.60,143.34 518.80,143.25 519.00,142.71 519.20,142.85 519.40,143.11 519.60,140.18 519.80,143.05 520.00,143.76 520.20,142.99 520.40,143.76 520.60,141.35 520.80,142.52 521.00,142.94 521.20,142.33 521.40,143.84 521.60,143.12 521.80,142.09 522.00,143.47 522.20,143.48 522.40,142.18 522.60,143.29 522.80,143.04 523.00,143.02 523.20,141.36 523.40,143.99 523.60,143.34 523.80,142.65 524.00,143.04 524.20,143.03 524.40,142.38 524.60,142.10 524.80,142.81 525.00,142.10 525.20,142.22 525.40,141.52 525.60,142.44 525.80,143.77 526.00,142.96 526.20,142.79 526.40,142.43 526.60,142.32 526.80,141.22 527.00,144.47 527.20,142.03 527.40,141.24 527.60,143.20 527.80,143.05 528.00,142.27 528.20,141.29 528.40,141.39 528.60,144.43 528.80,142.70 529.00,142.16 529.20,144.75 529.40,142.28 529.60,141.90 529.80,143.41 530.00,143.24 530.20,144.47 530.40,141.28 530.60,143.18 530.80,141.15 531.00,143.37 531.20,142.23 531.40,142.43 531.60,142.16 531.80,143.78 532.00,144.59 532.20,142.84 532.40,142.68 532.60,142.43 532.80,143.49 533.00,141.91 533.20,146.58 533.40,142.73 533.60,145.77 533.80,143.13 534.00,141.59 534.20,141.40 534.40,142.57 534.60,142.28 534.80,142.76 535.00,141.85 535.20,145.41 535.40,145.20 535.60,140.09 535.80,143.53 536.00,144.26 536.20,142.71 536.40,142.83 536.60,144.17 536.80,143.62 537.00,141.84 537.20,144.32 537.40,142.59 537.60,144.98 537.80,142.12 538.00,140.78 538.20,143.21 538.40,144.35" fill="none" stroke="#ff0000" stroke-width="1.15" stroke-linejoin="round"/>
<polyline points="28.40,103.77 28.60,97.85 28.80,101.78 29.00,100.56 29.20,100.77 29.40,101.13 29.60,98.85 29.80,101.23 30.00,100.46 30.20,105.97 30.40,102.00 30.60,101.31 30.80,101.46 31.00,101.01 31.20,100.56 31.40,101.48 31.60,102.67 31.80,101.79 32.00,103.40 32.20,101.96 32.40,102.30 32.60,104.33 32.80,103.09 33.00,101.78 33.20,102.25 33.40,103.24 33.60,105.11 33.80,102.29 34.00,102.38 34.20,104.05 34.40,101.64 34.60,102.47 34.80,104.04 35.00,103.70 35.20,103.11 35.40,103.91 35.60,99.41 35.80,104.46 36.00,101.94 36.20,101.06 36.40,103.63 36.60,104.23 36.80,102.79 37.00,102.01 37.20,103.49 37.40,103.43 37.60,105.36 37.80,104.55 38.00,103.87 38.20,105.10 38.40,103.43 38.60,102.53 38.80,104.54 39.00,104.57 39.20,103.57 39.40,102.87 39.60,104.22 39.80,100.72 40.00,104.89 40.20,104.66 40.40,101.93 40.60,104.17 40.80,102.88 41.00,105.15 41.20,101.55 41.40,103.04 41.60,105.19 41.80,105.81 42.00,101.53 42.20,103.72 42.40,104.83 42.60,103.65 42.80,106.54 43.00,102.96 43.20,105.01 43.40,103.22 43.60,106.44 43.80,104.62 44.00,104.20 44.20,102.49 44.40,106.94 44.60,105.77 44.80,106.39 45.00,106.34 45.20,105.34 45.40,104.09 45.60,103.92 45.80,103.95 46.00,106.80 46.20,103.16 46.40,104.31 46.60,104.70 46.80,105.44 47.00,105.93 47.20,103.59 47.40,102.99 47.60,105.27 47.80,106.88 48.00,106.31 48.20,105.64 48.40,104.98 48.60,105.80 48.80,105.13 49.00,106.53 49.20,104.46 49.40,105.70 49.60,105.40 49.80,106.28 50.00,105.89 50.20,108.94 50.40,107.59 50.60,107.61 50.80,103.04 51.00,105.27 51.20,104.94 51.40,106.44 51.60,102.81 51.80,107.31 52.00,107.19 52.20,104.13 52.40,104.57 52.60,104.81 52.80,105.93 53.00,106.72 53.20,108.56 53.40,105.65 53.60,106.92 53.80,106.13 54.00,108.23 54.20,106.92 54.40,107.74 54.60,104.57 54.80,105.72 55.00,104.92 55.20,107.94 55.40,106.84 55.60,105.59 55.80,105.40 56.00,106.62 56.20,105.08 56.40,104.78 56.60,106.61 56.80,109.19 57.00,105.66 57.20,105.26 57.40,104.46 57.60,104.24 57.80,106.65 58.00,107.07 58.20,105.97 58.40,106.38 58.60,106.10 58.80,106.12 59.00,103.95 59.20,105.33 59.40,106.06 59.60,104.89 59.80,105.28 60.00,104.82 60.20,105.44 60.40,106.98 60.60,105.33 60.80,105.65 61.00,106.89 61.20,106.66 61.40,108.01 61.60,103.08 61.80,106.90 62.00,105.14 62.20,105.93 62.40,106.83 62.60,107.98 62.80,107.06 63.00,105.90 63.20,107.77 63.40,105.30 63.60,105.47 63.80,106.67 64.00,104.90 64.20,108.41 64.40,106.91 64.60,108.39 64.80,105.51 65.00,105.03 65.20,105.73 65.40,106.45 65.60,104.71 65.80,105.95 66.00,105.42 66.20,107.52 66.40,104.54 66.60,106.74 66.80,104.52 67.00,104.09 67.20,104.40 67.40,103.75 67.60,105.47 67.80,106.60 68.00,105.45 68.20,106.03 68.40,107.32 68.60,105.53 68.80,105.41 69.00,104.78 69.20,103.02 69.40,106.08 69.60,102.79 69.80,105.90 70.00,105.01 70.20,106.47 70.40,104.89 70.60,103.89 70.80,105.40 71.00,104.19 71.20,104.52 71.40,104.93 71.60,104.68 71.80,104.59 72.00,103.73 72.20,104.54 72.40,101.99 72.60,104.54 72.80,103.16 73.00,106.16 73.20,106.33 73.40,102.12 73.60,104.82 73.80,104.45 74.00,103.23 74.20,105.26 74.40,103.95 74.60,102.23 74.80,104.16 75.00,104.30 75.20,104.61 75.40,102.85 75.60,105.23 75.80,105.36 76.00,102.89 76.20,103.51 76.40,104.17 76.60,103.58 76.80,106.56 77.00,104.55 77.20,102.94 77.40,103.21 77.60,104.13 77.80,107.17 78.00,103.93 78.20,104.30 78.40,104.78 78.60,104.04 78.80,107.03 79.00,103.35 79.20,104.99 79.40,104.20 79.60,104.78 79.80,102.42 80.00,106.22 80.20,103.74 80.40,103.92 80.60,102.63 80.80,102.87 81.00,104.53 81.20,105.05 81.40,104.72 81.60,105.29 81.80,104.62 82.00,103.70 82.20,104.73 82.40,104.38 82.60,103.46 82.80,104.50 83.00,105.20 83.20,103.81 83.40,103.01 83.60,104.38 83.80,107.38 84.00,103.12 84.20,103.25 84.40,103.16 84.60,104.90 84.80,100.89 85.00,103.73 85.20,104.77 85.40,101.50 85.60,105.10 85.80,103.83 86.00,102.39 86.20,103.34 86.40,101.05 86.60,102.28 86.80,105.36 87.00,101.79 87.20,105.32 87.40,102.78 87.60,104.15 87.80,102.88 88.00,99.88 88.20,102.02 88.40,102.98 88.60,101.20 88.80,100.92 89.00,103.11 89.20,101.76 89.40,100.36 89.60,101.65 89.80,103.62 90.00,101.85 90.20,103.65 90.40,104.39 90.60,102.41 90.80,100.87 91.00,100.61 91.20,102.23 91.40,103.38 91.60,102.55 91.80,102.87 92.00,101.55 92.20,102.48 92.40,101.44 92.60,101.60 92.80,100.30 93.00,99.90 93.20,101.28 93.40,100.44 93.60,100.59 93.80,102.67 94.00,101.63 94.20,105.52 94.40,102.89 94.60,100.83 94.80,102.63 95.00,102.04 95.20,100.65 95.40,102.93 95.60,100.45 95.80,97.45 96.00,102.42 96.20,100.54 96.40,103.24 96.60,100.42 96.80,99.69 97.00,103.20 97.20,99.75 97.40,101.37 97.60,102.95 97.80,101.18 98.00,100.88 98.20,101.08 98.40,101.99 98.60,99.81 98.80,101.61 99.00,101.52 99.20,103.76 99.40,100.24 99.60,99.44 99.80,101.54 100.00,100.02 100.20,100.87 100.40,100.61 100.60,102.82 100.80,99.49 101.00,100.17 101.20,96.92 101.40,99.03 101.60,102.13 101.80,99.19 102.00,99.11 102.20,98.38 102.40,100.67 102.60,100.09 102.80,98.26 103.00,100.61 103.20,100.02 103.40,100.61 103.60,98.73 103.80,101.77 104.00,99.98 104.20,99.24 104.40,98.66 104.60,98.95 104.80,100.33 105.00,98.80 105.20,100.49 105.40,99.78 105.60,100.71 105.80,99.96 106.00,98.76 106.20,96.29 106.40,99.10 106.60,99.68 106.80,98.80 107.00,99.25 107.20,97.85 107.40,97.90 107.60,97.11 107.80,100.04 108.00,98.41 108.20,97.50 108.40,96.34 108.60,97.81 108.80,99.82 109.00,98.48 109.20,96.87 109.40,99.61 109.60,99.54 109.80,98.89 110.00,98.58 110.20,98.99 110.40,98.13 110.60,98.37 110.80,96.28 111.00,99.18 111.20,97.47 111.40,99.73 111.60,94.38 111.80,97.89 112.00,98.19 112.20,96.40 112.40,97.37 112.60,97.69 112.80,97.41 113.00,95.89 113.20,96.35 113.40,97.79 113.60,98.07 113.80,96.47 114.00,96.38 114.20,96.48 114.40,97.51 114.60,94.73 114.80,94.31 115.00,96.14 115.20,94.48 115.40,95.10 115.60,95.92 115.80,96.37 116.00,94.29 116.20,96.67 116.40,93.27 116.60,96.22 116.80,93.41 117.00,93.74 117.20,96.18 117.40,94.76 117.60,94.19 117.80,94.59 118.00,95.72 118.20,94.99 118.40,94.96 118.60,96.32 118.80,93.96 119.00,94.22 119.20,94.10 119.40,96.24 119.60,95.95 119.80,96.28 120.00,94.51 120.20,94.29 120.40,95.55 120.60,93.87 120.80,95.41 121.00,95.21 121.20,93.31 121.40,94.05 121.60,93.95 121.80,96.30 122.00,97.36 122.20,93.81 122.40,93.90 122.60,90.86 122.80,94.04 123.00,93.70 123.20,92.26 123.40,94.62 123.60,91.51 123.80,93.21 124.00,93.61 124.20,91.75 124.40,94.43 124.60,94.63 124.80,91.40 125.00,91.31 125.20,93.87 125.40,92.99 125.60,91.39 125.80,92.52 126.00,92.71 126.20,92.60 126.40,93.81 126.60,93.17 126.80,94.91 127.00,94.34 127.20,93.37 127.40,93.83 127.60,94.09 127.80,93.23 128.00,90.65 128.20,93.30 128.40,92.22 128.60,94.16 128.80,92.12 129.00,92.62 129.20,92.30 129.40,93.99 129.60,91.97 129.80,91.33 130.00,92.01 130.20,90.97 130.40,91.69 130.60,91.40 130.80,91.70 131.00,93.78 131.20,90.68 131.40,91.19 131.60,90.81 131.80,91.88 132.00,89.40 132.20,89.96 132.40,90.74 132.60,91.43 132.80,90.59 133.00,89.93 133.20,89.38 133.40,91.09 133.60,92.23 133.80,90.70 134.00,90.59 134.20,90.70 134.40,88.81 134.60,89.55 134.80,89.53 135.00,90.18 135.20,89.67 135.40,88.04 135.60,91.00 135.80,91.65 136.00,89.02 136.20,89.80 136.40,89.54 136.60,90.12 136.80,87.08 137.00,91.01 137.20,88.22 137.40,90.38 137.60,88.74 137.80,88.04 138.00,88.27 138.20,89.52 138.40,87.14 138.60,87.68 138.80,87.44 139.00,85.74 139.20,89.57 139.40,88.53 139.60,87.65 139.80,89.09 140.00,86.24 140.20,87.29 140.40,89.53 140.60,88.46 140.80,84.19 141.00,82.65 141.20,85.53 141.40,88.16 141.60,86.07 141.80,86.30 142.00,87.27 142.20,85.23 142.40,86.56 142.60,87.21 142.80,86.69 143.00,86.49 143.20,85.09 143.40,86.45 143.60,85.12 143.80,87.27 144.00,88.82 144.20,84.41 144.40,82.45 144.60,84.62 144.80,85.57 145.00,86.34 145.20,86.28 145.40,83.76 145.60,83.65 145.80,86.23 146.00,83.07 146.20,85.81 146.40,84.00 146.60,85.19 146.80,85.02 147.00,85.02 147.20,84.98 147.40,82.53 147.60,84.11 147.80,83.65 148.00,83.94 148.20,85.05 148.40,83.01 148.60,82.35 148.80,82.24 149.00,82.69 149.20,83.99 149.40,81.86 149.60,84.34 149.80,83.13 150.00,82.37 150.20,80.85 150.40,82.82 150.60,83.86 150.80,78.67 151.00,83.81 151.20,84.32 151.40,82.54 151.60,82.66 151.80,85.08 152.00,83.46 152.20,80.61 152.40,81.68 152.60,81.41 152.80,81.34 153.00,78.37 153.20,82.35 153.40,80.45 153.60,81.41 153.80,80.94 154.00,82.16 154.20,80.56 154.40,79.83 154.60,81.47 154.80,82.52 155.00,80.19 155.20,82.30 155.40,80.78 155.60,79.66 155.80,82.25 156.00,79.12 156.20,81.42 156.40,79.37 156.60,80.52 156.80,78.25 157.00,78.69 157.20,81.08 157.40,79.86 157.60,79.59 157.80,78.89 158.00,79.96 158.20,77.49 158.40,77.77 158.60,78.94 158.80,77.99 159.00,78.09 159.20,78.83 159.40,78.68 159.60,78.49 159.80,80.88 160.00,79.96 160.20,80.18 160.40,78.47 160.60,77.79 160.80,76.49 161.00,77.87 161.20,75.55 161.40,77.44 161.60,79.13 161.80,80.19 162.00,79.28 162.20,76.85 162.40,78.56 162.60,76.84 162.80,78.89 163.00,77.63 163.20,78.84 163.40,81.03 163.60,78.84 163.80,80.63 164.00,77.79 164.20,77.10 164.40,79.22 164.60,79.70 164.80,76.70 165.00,77.50 165.20,75.50 165.40,77.08 165.60,79.16 165.80,77.17 166.00,76.52 166.20,75.40 166.40,77.68 166.60,78.21 166.80,77.92 167.00,77.65 167.20,75.43 167.40,79.35 167.60,76.96 167.80,76.82 168.00,77.93 168.20,74.14 168.40,76.84 168.60,76.72 168.80,77.35 169.00,78.59 169.20,77.43 169.40,74.40 169.60,76.32 169.80,76.99 170.00,76.89 170.20,75.00 170.40,74.47 170.60,77.30 170.80,77.00 171.00,76.48 171.20,74.22 171.40,78.72 171.60,72.60 171.80,75.85 172.00,78.99 172.20,75.99 172.40,76.41 172.60,74.45 172.80,77.59 173.00,73.93 173.20,75.65 173.40,75.10 173.60,73.06 173.80,74.97 174.00,71.31 174.20,71.70 174.40,72.31 174.60,72.05 174.80,73.91 175.00,75.53 175.20,75.05 175.40,75.80 175.60,76.80 175.80,77.86 176.00,80.14 176.20,79.46 176.40,80.85 176.60,80.71 176.80,80.16 177.00,82.75 177.20,80.59 177.40,82.23 177.60,84.41 177.80,81.30 178.00,82.87 178.20,81.10 178.40,82.69 178.60,81.60 178.80,83.26 179.00,83.21 179.20,84.25 179.40,86.31 179.60,84.78 179.80,85.44 180.00,84.69 180.20,84.61 180.40,84.01 180.60,82.92 180.80,85.52 181.00,87.71 181.20,86.38 181.40,85.23 181.60,88.23 181.80,85.69 182.00,85.61 182.20,85.00 182.40,85.48 182.60,86.57 182.80,89.65 183.00,86.94 183.20,86.02 183.40,86.72 183.60,87.37 183.80,85.58 184.00,88.12 184.20,89.01 184.40,88.66 184.60,89.16 184.80,86.84 185.00,86.45 185.20,90.46 185.40,90.34 185.60,87.04 185.80,89.44 186.00,89.32 186.20,90.12 186.40,89.80 186.60,88.99 186.80,90.01 187.00,90.07 187.20,89.91 187.40,87.67 187.60,86.29 187.80,89.26 188.00,88.26 188.20,90.82 188.40,91.52 188.60,91.03 188.80,90.30 189.00,90.97 189.20,92.49 189.40,90.12 189.60,92.36 189.80,92.18 190.00,91.69 190.20,93.33 190.40,90.60 190.60,92.85 190.80,90.51 191.00,90.81 191.20,90.52 191.40,92.57 191.60,90.86 191.80,92.24 192.00,90.78 192.20,93.74 192.40,94.83 192.60,92.83 192.80,94.76 193.00,93.45 193.20,95.63 193.40,93.04 193.60,90.96 193.80,95.04 194.00,93.04 194.20,91.95 194.40,92.55 194.60,91.39 194.80,93.39 195.00,92.33 195.20,95.76 195.40,94.80 195.60,91.89 195.80,92.20 196.00,93.54 196.20,91.88 196.40,94.35 196.60,94.55 196.80,93.71 197.00,94.12 197.20,95.58 197.40,96.89 197.60,97.09 197.80,95.30 198.00,96.46 198.20,94.49 198.40,96.08 198.60,94.39 198.80,96.68 199.00,94.20 199.20,94.64 199.40,95.96 199.60,96.77 199.80,94.25 200.00,95.49 200.20,96.42 200.40,96.60 200.60,95.28 200.80,96.55 201.00,96.14 201.20,98.37 201.40,97.32 201.60,94.93 201.80,93.85 202.00,96.89 202.20,98.35 202.40,97.10 202.60,98.07 202.80,96.34 203.00,95.25 203.20,98.05 203.40,97.25 203.60,98.06 203.80,95.42 204.00,97.50 204.20,96.49 204.40,98.40 204.60,96.64 204.80,96.65 205.00,96.72 205.20,99.17 205.40,97.60 205.60,96.62 205.80,96.31 206.00,96.33 206.20,99.62 206.40,95.40 206.60,96.69 206.80,98.66 207.00,99.40 207.20,97.71 207.40,98.96 207.60,98.96 207.80,99.28 208.00,98.09 208.20,100.22 208.40,98.38 208.60,100.14 208.80,96.75 209.00,99.43 209.20,96.61 209.40,95.17 209.60,98.95 209.80,97.25 210.00,98.94 210.20,96.99 210.40,100.50 210.60,98.45 210.80,97.00 211.00,98.73 211.20,99.67 211.40,97.55 211.60,99.25 211.80,101.27 212.00,99.76 212.20,98.65 212.40,97.95 212.60,99.47 212.80,96.77 213.00,94.82 213.20,97.92 213.40,97.41 213.60,101.11 213.80,99.05 214.00,97.61 214.20,97.40 214.40,99.58 214.60,97.88 214.80,98.22 215.00,98.88 215.20,99.25 215.40,99.16 215.60,99.21 215.80,100.77 216.00,101.31 216.20,96.96 216.40,102.48 216.60,99.31 216.80,100.77 217.00,98.20 217.20,99.60 217.40,99.47 217.60,99.34 217.80,101.04 218.00,100.03 218.20,97.91 218.40,99.04 218.60,100.17 218.80,100.12 219.00,98.79 219.20,98.86 219.40,99.02 219.60,97.78 219.80,97.54 220.00,101.25 220.20,98.69 220.40,99.32 220.60,98.21 220.80,100.86 221.00,101.44 221.20,98.87 221.40,99.81 221.60,98.15 221.80,101.42 222.00,100.32 222.20,97.41 222.40,100.71 222.60,99.55 222.80,99.60 223.00,99.52 223.20,98.17 223.40,98.32 223.60,99.82 223.80,98.92 224.00,97.74 224.20,101.59 224.40,98.66 224.60,98.19 224.80,97.99 225.00,100.36 225.20,100.12 225.40,99.15 225.60,100.67 225.80,96.83 226.00,98.27 226.20,98.11 226.40,98.70 226.60,99.29 226.80,95.97 227.00,102.65 227.20,97.42 227.40,98.95 227.60,99.54 227.80,99.52 228.00,98.68 228.20,94.53 228.40,96.84 228.60,99.18 228.80,96.93 229.00,96.68 229.20,94.92 229.40,99.48 229.60,98.47 229.80,96.55 230.00,97.43 230.20,97.36 230.40,95.92 230.60,96.88 230.80,97.41 231.00,97.64 231.20,98.39 231.40,96.58 231.60,95.73 231.80,96.61 232.00,94.99 232.20,93.88 232.40,96.66 232.60,94.30 232.80,94.52 233.00,94.73 233.20,91.90 233.40,93.56 233.60,92.63 233.80,91.15 234.00,91.26 234.20,88.51 234.40,85.63 234.60,87.08 234.80,85.22 235.00,86.53 235.20,84.88 235.40,83.17 235.60,83.52 235.80,85.11 236.00,85.03 236.20,84.50 236.40,85.23 236.60,85.08 236.80,86.08 237.00,87.81 237.20,87.62 237.40,88.79 237.60,87.48 237.80,87.16 238.00,87.41 238.20,89.20 238.40,91.51 238.60,91.20 238.80,88.09 239.00,86.92 239.20,89.34 239.40,88.07 239.60,84.59 239.80,86.36 240.00,83.48 240.20,82.88 240.40,79.11 240.60,76.97 240.80,73.18 241.00,68.57 241.20,67.10 241.40,65.19 241.60,67.23 241.80,66.37 242.00,68.24 242.20,74.80 242.40,78.09 242.60,81.52 242.80,83.76 243.00,82.70 243.20,85.71 243.40,87.55 243.60,89.60 243.80,87.98 244.00,91.73 244.20,92.92 244.40,92.02 244.60,94.00 244.80,95.90 245.00,94.85 245.20,96.55 245.40,96.83 245.60,96.33 245.80,96.55 246.00,95.80 246.20,98.10 246.40,96.05 246.60,95.92 246.80,97.88 247.00,96.15 247.20,97.76 247.40,98.69 247.60,97.51 247.80,97.63 248.00,99.49 248.20,98.62 248.40,95.70 248.60,96.06 248.80,99.54 249.00,98.37 249.20,95.19 249.40,96.18 249.60,98.00 249.80,96.72 250.00,98.63 250.20,98.15 250.40,98.70 250.60,96.56 250.80,98.90 251.00,100.65 251.20,97.08 251.40,99.83 251.60,99.40 251.80,98.96 252.00,98.04 252.20,96.60 252.40,96.96 252.60,99.09 252.80,99.35 253.00,99.64 253.20,99.27 253.40,99.89 253.60,97.39 253.80,96.33 254.00,98.11 254.20,98.43 254.40,97.82 254.60,95.64 254.80,96.84 255.00,95.47 255.20,97.44 255.40,95.72 255.60,96.68 255.80,97.10 256.00,96.61 256.20,97.92 256.40,94.37 256.60,92.58 256.80,96.21 257.00,96.30 257.20,95.78 257.40,93.68 257.60,93.37 257.80,92.17 258.00,89.71 258.20,90.11 258.40,91.10 258.60,89.50 258.80,92.76 259.00,88.53 259.20,90.42 259.40,93.02 259.60,91.47 259.80,91.49 260.00,91.90 260.20,93.38 260.40,96.90 260.60,96.02 260.80,96.65 261.00,95.74 261.20,97.90 261.40,97.29 261.60,96.25 261.80,97.13 262.00,98.22 262.20,99.69 262.40,98.28 262.60,99.17 262.80,101.30 263.00,97.77 263.20,97.31 263.40,100.32 263.60,99.71 263.80,99.10 264.00,99.65 264.20,98.96 264.40,100.12 264.60,99.08 264.80,100.61 265.00,98.10 265.20,98.61 265.40,99.86 265.60,99.14 265.80,100.69 266.00,99.77 266.20,99.15 266.40,100.16 266.60,99.23 266.80,97.91 267.00,98.49 267.20,98.94 267.40,99.39 267.60,100.15 267.80,101.23 268.00,100.77 268.20,102.39 268.40,101.74 268.60,99.85 268.80,102.25 269.00,101.65 269.20,99.54 269.40,100.54 269.60,101.56 269.80,100.46 270.00,101.47 270.20,100.66 270.40,101.06 270.60,99.73 270.80,100.64 271.00,99.67 271.20,101.02 271.40,97.94 271.60,100.56 271.80,101.74 272.00,100.86 272.20,100.06 272.40,100.78 272.60,98.97 272.80,98.97 273.00,99.57 273.20,99.82 273.40,101.24 273.60,98.80 273.80,101.24 274.00,97.86 274.20,98.85 274.40,99.79 274.60,101.30 274.80,98.95 275.00,96.92 275.20,100.20 275.40,99.56 275.60,98.12 275.80,98.10 276.00,98.48 276.20,99.42 276.40,100.06 276.60,97.17 276.80,101.95 277.00,98.79 277.20,98.20 277.40,99.39 277.60,98.47 277.80,101.14 278.00,99.28 278.20,97.08 278.40,96.72 278.60,96.19 278.80,95.93 279.00,96.72 279.20,94.37 279.40,96.57 279.60,93.51 279.80,92.45 280.00,92.78 280.20,87.80 280.40,87.98 280.60,88.94 280.80,87.41 281.00,87.04 281.20,87.71 281.40,86.96 281.60,88.35 281.80,87.76 282.00,88.05 282.20,93.00 282.40,90.88 282.60,91.77 282.80,94.99 283.00,94.91 283.20,93.08 283.40,93.22 283.60,93.85 283.80,92.68 284.00,94.53 284.20,93.82 284.40,93.54 284.60,94.02 284.80,93.57 285.00,94.54 285.20,93.55 285.40,88.70 285.60,91.33 285.80,87.84 286.00,86.47 286.20,88.16 286.40,85.11 286.60,84.28 286.80,84.63 287.00,80.84 287.20,78.95 287.40,78.93 287.60,78.54 287.80,76.23 288.00,72.36 288.20,72.70 288.40,72.92 288.60,75.65 288.80,74.78 289.00,75.61 289.20,77.29 289.40,76.79 289.60,79.42 289.80,81.10 290.00,80.85 290.20,83.69 290.40,85.96 290.60,85.22 290.80,88.96 291.00,90.07 291.20,91.49 291.40,90.10 291.60,92.11 291.80,94.63 292.00,94.47 292.20,93.04 292.40,94.93 292.60,96.99 292.80,95.50 293.00,96.52 293.20,99.74 293.40,96.70 293.60,96.92 293.80,96.04 294.00,96.75 294.20,99.78 294.40,97.89 294.60,96.73 294.80,97.25 295.00,98.64 295.20,99.79 295.40,97.97 295.60,100.00 295.80,98.57 296.00,99.79 296.20,100.11 296.40,100.33 296.60,98.76 296.80,99.51 297.00,100.47 297.20,98.21 297.40,100.19 297.60,100.71 297.80,101.47 298.00,100.12 298.20,99.99 298.40,100.59 298.60,99.39 298.80,100.13 299.00,100.98 299.20,100.86 299.40,99.18 299.60,100.16 299.80,97.88 300.00,101.71 300.20,100.01 300.40,101.05 300.60,99.35 300.80,100.70 301.00,101.42 301.20,102.14 301.40,99.13 301.60,102.02 301.80,100.74 302.00,99.98 302.20,101.63 302.40,100.65 302.60,100.67 302.80,100.17 303.00,101.39 303.20,101.18 303.40,100.92 303.60,99.93 303.80,100.53 304.00,101.73 304.20,102.89 304.40,101.22 304.60,103.10 304.80,101.28 305.00,99.90 305.20,102.14 305.40,99.33 305.60,101.88 305.80,102.76 306.00,101.00 306.20,101.30 306.40,106.51 306.60,101.75 306.80,101.80 307.00,102.48 307.20,101.36 307.40,101.39 307.60,102.01 307.80,98.45 308.00,103.37 308.20,100.19 308.40,100.19 308.60,102.28 308.80,101.64 309.00,100.01 309.20,101.90 309.40,100.18 309.60,100.76 309.80,99.74 310.00,100.62 310.20,102.20 310.40,101.86 310.60,102.11 310.80,102.91 311.00,101.68 311.20,100.90 311.40,101.40 311.60,103.88 311.80,101.83 312.00,102.20 312.20,101.68 312.40,102.13 312.60,102.38 312.80,101.82 313.00,101.51 313.20,100.86 313.40,100.78 313.60,102.40 313.80,102.84 314.00,103.08 314.20,101.97 314.40,100.86 314.60,102.73 314.80,102.72 315.00,100.03 315.20,102.98 315.40,102.71 315.60,104.10 315.80,100.54 316.00,100.36 316.20,103.00 316.40,99.72 316.60,101.09 316.80,100.64 317.00,100.75 317.20,99.62 317.40,101.75 317.60,103.30 317.80,102.63 318.00,102.65 318.20,101.64 318.40,103.94 318.60,102.78 318.80,103.45 319.00,100.16 319.20,102.57 319.40,100.69 319.60,102.59 319.80,102.41 320.00,99.87 320.20,102.53 320.40,103.65 320.60,102.83 320.80,102.95 321.00,101.11 321.20,101.35 321.40,100.81 321.60,102.40 321.80,103.74 322.00,102.79 322.20,102.25 322.40,100.84 322.60,102.82 322.80,101.97 323.00,99.87 323.20,100.10 323.40,101.86 323.60,101.16 323.80,104.38 324.00,102.34 324.20,100.99 324.40,101.69 324.60,104.32 324.80,101.12 325.00,103.29 325.20,102.87 325.40,104.17 325.60,102.99 325.80,101.82 326.00,102.99 326.20,102.41 326.40,103.56 326.60,102.25 326.80,104.82 327.00,102.20 327.20,102.88 327.40,101.50 327.60,102.48 327.80,102.35 328.00,102.52 328.20,103.43 328.40,101.62 328.60,101.22 328.80,103.66 329.00,101.69 329.20,101.40 329.40,103.67 329.60,103.18 329.80,98.87 330.00,101.69 330.20,103.12 330.40,103.15 330.60,101.44 330.80,104.00 331.00,101.01 331.20,101.67 331.40,102.07 331.60,101.85 331.80,103.42 332.00,103.00 332.20,101.60 332.40,103.32 332.60,100.63 332.80,101.12 333.00,103.42 333.20,101.27 333.40,102.34 333.60,100.32 333.80,100.35 334.00,100.37 334.20,100.51 334.40,99.65 334.60,99.84 334.80,100.39 335.00,100.77 335.20,99.10 335.40,99.45 335.60,99.46 335.80,96.66 336.00,95.74 336.20,99.42 336.40,98.82 336.60,97.07 336.80,97.33 337.00,95.69 337.20,95.20 337.40,97.45 337.60,95.41 337.80,99.36 338.00,96.98 338.20,98.52 338.40,100.91 338.60,101.20 338.80,98.87 339.00,100.86 339.20,98.57 339.40,99.42 339.60,100.88 339.80,102.39 340.00,100.19 340.20,101.79 340.40,101.44 340.60,99.93 340.80,101.49 341.00,103.67 341.20,101.84 341.40,102.70 341.60,103.23 341.80,101.40 342.00,103.94 342.20,104.37 342.40,104.57 342.60,104.30 342.80,102.18 343.00,101.69 343.20,101.93 343.40,101.84 343.60,102.04 343.80,104.30 344.00,104.94 344.20,102.39 344.40,104.23 344.60,101.72 344.80,102.92 345.00,102.14 345.20,101.40 345.40,103.57 345.60,103.59 345.80,103.03 346.00,102.93 346.20,102.39 346.40,103.48 346.60,102.94 346.80,104.02 347.00,102.27 347.20,104.25 347.40,104.46 347.60,105.39 347.80,105.19 348.00,104.17 348.20,103.13 348.40,101.75 348.60,104.03 348.80,105.81 349.00,106.14 349.20,101.01 349.40,103.24 349.60,103.78 349.80,102.96 350.00,104.50 350.20,104.35 350.40,103.70 350.60,104.33 350.80,102.45 351.00,103.25 351.20,103.37 351.40,106.27 351.60,102.54 351.80,104.31 352.00,105.55 352.20,104.57 352.40,105.66 352.60,103.89 352.80,105.26 353.00,105.86 353.20,107.52 353.40,105.71 353.60,106.60 353.80,104.89 354.00,105.03 354.20,106.86 354.40,105.68 354.60,106.73 354.80,105.90 355.00,107.65 355.20,108.00 355.40,104.09 355.60,107.41 355.80,105.70 356.00,105.78 356.20,105.08 356.40,106.12 356.60,103.91 356.80,104.41 357.00,104.39 357.20,105.70 357.40,106.49 357.60,106.29 357.80,105.86 358.00,104.71 358.20,103.31 358.40,105.96 358.60,105.67 358.80,105.94 359.00,107.26 359.20,105.32 359.40,105.31 359.60,102.75 359.80,106.69 360.00,105.54 360.20,104.71 360.40,106.09 360.60,104.36 360.80,104.99 361.00,108.04 361.20,106.58 361.40,106.80 361.60,106.60 361.80,106.48 362.00,105.95 362.20,108.50 362.40,105.64 362.60,106.64 362.80,105.49 363.00,105.34 363.20,102.82 363.40,103.45 363.60,107.67 363.80,107.61 364.00,105.28 364.20,105.78 364.40,106.57 364.60,104.64 364.80,107.99 365.00,104.60 365.20,105.00 365.40,102.53 365.60,107.71 365.80,105.96 366.00,107.86 366.20,104.70 366.40,106.33 366.60,106.02 366.80,106.18 367.00,108.45 367.20,108.69 367.40,107.62 367.60,105.49 367.80,107.05 368.00,107.61 368.20,106.67 368.40,106.69 368.60,106.59 368.80,104.93 369.00,106.32 369.20,107.96 369.40,104.84 369.60,106.15 369.80,107.06 370.00,104.42 370.20,105.90 370.40,104.04 370.60,105.35 370.80,104.40 371.00,105.02 371.20,105.51 371.40,105.78 371.60,105.87 371.80,103.23 372.00,108.03 372.20,105.80 372.40,104.82 372.60,105.39 372.80,106.52 373.00,104.96 373.20,105.67 373.40,105.61 373.60,106.82 373.80,105.29 374.00,106.73 374.20,106.61 374.40,106.02 374.60,107.69 374.80,106.24 375.00,104.81 375.20,106.58 375.40,106.38 375.60,106.19 375.80,106.52 376.00,109.06 376.20,106.53 376.40,106.81 376.60,105.97 376.80,107.84 377.00,106.21 377.20,105.33 377.40,104.83 377.60,106.92 377.80,107.19 378.00,104.41 378.20,104.93 378.40,107.08 378.60,108.28 378.80,104.75 379.00,105.85 379.20,107.33 379.40,105.33 379.60,105.81 379.80,105.71 380.00,104.80 380.20,106.42 380.40,106.73 380.60,104.71 380.80,106.50 381.00,107.70 381.20,106.63 381.40,107.52 381.60,105.74 381.80,108.02 382.00,105.47 382.20,108.65 382.40,105.88 382.60,105.57 382.80,105.37 383.00,105.94 383.20,105.85 383.40,105.62 383.60,106.05 383.80,107.23 384.00,107.49 384.20,106.06 384.40,107.92 384.60,105.28 384.80,105.25 385.00,105.14 385.20,107.19 385.40,104.65 385.60,104.84 385.80,108.00 386.00,108.51 386.20,108.08 386.40,104.74 386.60,106.52 386.80,107.49 387.00,106.63 387.20,104.61 387.40,106.12 387.60,104.52 387.80,105.08 388.00,109.06 388.20,107.33 388.40,104.81 388.60,104.78 388.80,107.08 389.00,105.83 389.20,107.23 389.40,105.79 389.60,106.32 389.80,106.84 390.00,105.35 390.20,104.31 390.40,105.17 390.60,105.76 390.80,106.34 391.00,106.51 391.20,106.51 391.40,107.19 391.60,105.55 391.80,108.23 392.00,108.94 392.20,107.03 392.40,106.82 392.60,108.07 392.80,107.37 393.00,106.83 393.20,106.42 393.40,105.75 393.60,105.25 393.80,107.40 394.00,108.02 394.20,105.39 394.40,106.55 394.60,106.89 394.80,106.14 395.00,105.75 395.20,106.18 395.40,104.34 395.60,106.58 395.80,106.31 396.00,109.12 396.20,107.74 396.40,106.25 396.60,106.65 396.80,108.66 397.00,108.53 397.20,106.87 397.40,106.51 397.60,104.98 397.80,106.28 398.00,106.47 398.20,105.81 398.40,108.67 398.60,104.48 398.80,106.50 399.00,107.13 399.20,107.17 399.40,108.62 399.60,105.03 399.80,105.79 400.00,106.77 400.20,106.88 400.40,106.20 400.60,105.76 400.80,107.88 401.00,105.42 401.20,105.96 401.40,108.29 401.60,108.62 401.80,107.62 402.00,105.60 402.20,105.60 402.40,105.54 402.60,105.25 402.80,106.07 403.00,108.01 403.20,106.78 403.40,105.63 403.60,105.59 403.80,105.11 404.00,107.84 404.20,104.08 404.40,106.70 404.60,104.70 404.80,105.10 405.00,104.57 405.20,107.36 405.40,106.11 405.60,109.31 405.80,104.90 406.00,104.78 406.20,106.65 406.40,106.55 406.60,105.50 406.80,103.40 407.00,107.29 407.20,106.18 407.40,105.86 407.60,104.58 407.80,105.85 408.00,104.30 408.20,104.80 408.40,104.32 408.60,105.75 408.80,103.50 409.00,103.35 409.20,104.69 409.40,103.32 409.60,102.65 409.80,101.98 410.00,102.90 410.20,100.60 410.40,101.42 410.60,102.76 410.80,100.49 411.00,98.80 411.20,98.08 411.40,99.50 411.60,97.93 411.80,97.65 412.00,98.86 412.20,98.82 412.40,101.49 412.60,99.29 412.80,103.24 413.00,101.04 413.20,102.50 413.40,103.56 413.60,103.45 413.80,104.39 414.00,102.78 414.20,101.62 414.40,104.25 414.60,102.81 414.80,103.85 415.00,106.23 415.20,105.11 415.40,104.83 415.60,104.36 415.80,105.45 416.00,105.71 416.20,104.22 416.40,106.45 416.60,104.99 416.80,106.55 417.00,105.86 417.20,107.57 417.40,107.49 417.60,106.59 417.80,106.51 418.00,107.18 418.20,108.31 418.40,108.67 418.60,107.02 418.80,107.24 419.00,108.71 419.20,105.11 419.40,107.61 419.60,106.01 419.80,108.60 420.00,106.54 420.20,107.00 420.40,105.92 420.60,107.20 420.80,108.11 421.00,109.13 421.20,105.83 421.40,106.78 421.60,111.73 421.80,108.39 422.00,107.34 422.20,107.96 422.40,104.37 422.60,109.23 422.80,107.60 423.00,105.81 423.20,108.77 423.40,106.75 423.60,106.32 423.80,108.08 424.00,107.96 424.20,107.00 424.40,107.44 424.60,106.02 424.80,105.92 425.00,108.57 425.20,109.05 425.40,108.07 425.60,108.01 425.80,107.15 426.00,107.46 426.20,106.56 426.40,109.60 426.60,107.00 426.80,108.10 427.00,107.65 427.20,106.08 427.40,109.84 427.60,107.25 427.80,106.82 428.00,107.81 428.20,106.69 428.40,107.73 428.60,106.63 428.80,108.35 429.00,107.78 429.20,106.19 429.40,109.59 429.60,107.96 429.80,106.51 430.00,108.15 430.20,108.24 430.40,109.85 430.60,106.80 430.80,108.73 431.00,107.68 431.20,108.48 431.40,107.50 431.60,107.74 431.80,108.36 432.00,106.48 432.20,105.47 432.40,107.81 432.60,107.33 432.80,107.93 433.00,108.56 433.20,107.61 433.40,109.19 433.60,107.81 433.80,107.99 434.00,108.80 434.20,108.54 434.40,107.79 434.60,108.03 434.80,107.05 435.00,107.22 435.20,108.02 435.40,108.82 435.60,107.43 435.80,108.86 436.00,110.09 436.20,110.33 436.40,107.97 436.60,109.12 436.80,108.63 437.00,108.84 437.20,108.90 437.40,108.55 437.60,108.90 437.80,108.20 438.00,107.70 438.20,108.28 438.40,108.55 438.60,109.36 438.80,108.42 439.00,108.84 439.20,109.60 439.40,106.99 439.60,107.74 439.80,108.63 440.00,108.06 440.20,106.92 440.40,109.14 440.60,107.97 440.80,106.94 441.00,111.44 441.20,106.64 441.40,108.05 441.60,107.32 441.80,108.19 442.00,108.69 442.20,107.17 442.40,107.96 442.60,107.94 442.80,106.98 443.00,109.37 443.20,108.28 443.40,107.78 443.60,107.37 443.80,107.73 444.00,108.26 444.20,107.60 444.40,109.49 444.60,105.32 444.80,105.77 445.00,107.84 445.20,106.10 445.40,108.06 445.60,107.42 445.80,108.78 446.00,108.60 446.20,109.59 446.40,109.17 446.60,109.53 446.80,108.75 447.00,109.34 447.20,108.72 447.40,107.53 447.60,106.82 447.80,106.86 448.00,108.72 448.20,105.59 448.40,108.39 448.60,107.39 448.80,109.01 449.00,108.43 449.20,107.40 449.40,108.24 449.60,105.75 449.80,108.53 450.00,108.75 450.20,106.24 450.40,109.19 450.60,108.13 450.80,108.45 451.00,106.72 451.20,108.94 451.40,108.92 451.60,108.27 451.80,107.23 452.00,109.13 452.20,109.67 452.40,108.75 452.60,109.42 452.80,107.70 453.00,108.52 453.20,108.76 453.40,108.52 453.60,111.43 453.80,108.84 454.00,107.79 454.20,109.30 454.40,107.24 454.60,108.83 454.80,109.82 455.00,107.92 455.20,108.11 455.40,107.46 455.60,108.62 455.80,107.76 456.00,110.37 456.20,109.21 456.40,108.28 456.60,107.01 456.80,110.74 457.00,109.96 457.20,109.08 457.40,108.79 457.60,108.77 457.80,108.09 458.00,110.63 458.20,108.84 458.40,107.08 458.60,107.93 458.80,105.87 459.00,109.36 459.20,109.48 459.40,110.57 459.60,112.35 459.80,107.85 460.00,109.18 460.20,109.78 460.40,109.57 460.60,108.18 460.80,109.60 461.00,109.28 461.20,110.21 461.40,108.73 461.60,108.52 461.80,108.24 462.00,108.38 462.20,107.98 462.40,108.44 462.60,109.35 462.80,109.31 463.00,110.24 463.20,110.01 463.40,109.51 463.60,107.63 463.80,109.47 464.00,110.11 464.20,107.49 464.40,107.69 464.60,107.87 464.80,107.79 465.00,108.60 465.20,107.92 465.40,109.33 465.60,107.64 465.80,108.80 466.00,108.41 466.20,107.92 466.40,110.05 466.60,108.99 466.80,109.54 467.00,108.62 467.20,109.73 467.40,109.64 467.60,108.84 467.80,107.13 468.00,109.88 468.20,109.75 468.40,109.22 468.60,109.29 468.80,109.17 469.00,109.25 469.20,107.99 469.40,109.00 469.60,109.40 469.80,108.43 470.00,108.06 470.20,111.05 470.40,109.73 470.60,108.78 470.80,108.59 471.00,106.33 471.20,107.61 471.40,108.86 471.60,110.48 471.80,106.96 472.00,108.40 472.20,111.15 472.40,109.84 472.60,109.58 472.80,110.40 473.00,109.02 473.20,108.97 473.40,109.91 473.60,110.05 473.80,108.04 474.00,110.76 474.20,107.34 474.40,108.44 474.60,112.38 474.80,108.63 475.00,109.85 475.20,108.12 475.40,108.83 475.60,108.41 475.80,108.75 476.00,109.85 476.20,110.99 476.40,110.07 476.60,111.80 476.80,108.63 477.00,110.68 477.20,109.74 477.40,110.57 477.60,108.70 477.80,108.89 478.00,110.55 478.20,109.76 478.40,109.23 478.60,108.39 478.80,108.99 479.00,109.59 479.20,109.83 479.40,108.49 479.60,108.70 479.80,109.49 480.00,107.88 480.20,110.60 480.40,108.99 480.60,108.84 480.80,106.46 481.00,107.29 481.20,107.85 481.40,108.31 481.60,107.76 481.80,109.26 482.00,109.00 482.20,108.56 482.40,106.72 482.60,110.25 482.80,108.50 483.00,109.38 483.20,108.06 483.40,108.73 483.60,109.43 483.80,108.93 484.00,109.66 484.20,108.46 484.40,110.68 484.60,106.65 484.80,108.01 485.00,109.56 485.20,108.26 485.40,108.04 485.60,106.64 485.80,109.66 486.00,106.45 486.20,108.89 486.40,108.53 486.60,109.19 486.80,109.75 487.00,107.50 487.20,107.34 487.40,107.81 487.60,106.33 487.80,108.88 488.00,107.58 488.20,108.10 488.40,106.73 488.60,107.84 488.80,107.13 489.00,107.63 489.20,106.53 489.40,108.63 489.60,106.85 489.80,104.83 490.00,108.40 490.20,106.98 490.40,106.30 490.60,109.68 490.80,106.98 491.00,105.58 491.20,106.23 491.40,107.14 491.60,106.43 491.80,107.82 492.00,107.53 492.20,105.54 492.40,106.27 492.60,106.77 492.80,105.58 493.00,105.41 493.20,106.66 493.40,106.11 493.60,104.11 493.80,104.86 494.00,104.88 494.20,105.07 494.40,104.35 494.60,106.34 494.80,103.90 495.00,103.69 495.20,104.92 495.40,102.36 495.60,103.53 495.80,105.16 496.00,103.15 496.20,103.61 496.40,105.55 496.60,104.91 496.80,104.52 497.00,104.74 497.20,103.85 497.40,104.89 497.60,104.44 497.80,107.24 498.00,105.34 498.20,104.55 498.40,104.94 498.60,105.15 498.80,103.82 499.00,104.49 499.20,106.97 499.40,104.14 499.60,105.08 499.80,106.81 500.00,107.42 500.20,105.00 500.40,107.61 500.60,105.89 500.80,108.02 501.00,106.98 501.20,106.30 501.40,107.41 501.60,107.34 501.80,106.11 502.00,109.12 502.20,106.72 502.40,108.30 502.60,106.75 502.80,105.49 503.00,106.27 503.20,107.36 503.40,108.21 503.60,109.36 503.80,107.75 504.00,107.45 504.20,106.56 504.40,107.80 504.60,108.20 504.80,105.75 505.00,109.30 505.20,109.18 505.40,110.36 505.60,107.23 505.80,108.22 506.00,108.23 506.20,106.94 506.40,107.45 506.60,107.35 506.80,108.87 507.00,108.82 507.20,109.76 507.40,108.06 507.60,107.10 507.80,108.95 508.00,108.91 508.20,109.22 508.40,109.82 508.60,108.03 508.80,109.43 509.00,107.66 509.20,108.83 509.40,109.38 509.60,108.60 509.80,108.95 510.00,106.54 510.20,108.13 510.40,108.94 510.60,106.89 510.80,107.98 511.00,111.24 511.20,109.10 511.40,108.05 511.60,107.86 511.80,110.24 512.00,106.13 512.20,108.54 512.40,109.48 512.60,108.32 512.80,109.39 513.00,107.85 513.20,108.87 513.40,108.93 513.60,108.91 513.80,109.06 514.00,108.95 514.20,110.02 514.40,108.66 514.60,108.35 514.80,108.66 515.00,108.64 515.20,107.45 515.40,107.08 515.60,106.76 515.80,109.24 516.00,108.31 516.20,108.57 516.40,111.77 516.60,110.07 516.80,108.78 517.00,108.37 517.20,110.33 517.40,108.23 517.60,110.20 517.80,109.57 518.00,110.35 518.20,108.30 518.40,109.89 518.60,107.25 518.80,108.84 519.00,110.06 519.20,109.69 519.40,107.23 519.60,109.68 519.80,109.46 520.00,108.96 520.20,108.32 520.40,108.75 520.60,108.46 520.80,109.94 521.00,109.47 521.20,110.06 521.40,109.69 521.60,107.78 521.80,109.15 522.00,111.10 522.20,107.95 522.40,109.29 522.60,108.27 522.80,108.16 523.00,109.22 523.20,109.91 523.40,109.76 523.60,109.46 523.80,109.93 524.00,107.45 524.20,109.80 524.40,109.40 524.60,108.83 524.80,109.00 525.00,108.19 525.20,110.13 525.40,108.28 525.60,107.58 525.80,108.99 526.00,108.44 526.20,108.93 526.40,110.45 526.60,108.86 526.80,109.11 527.00,111.16 527.20,107.64 527.40,109.34 527.60,110.10 527.80,110.44 528.00,111.13 528.20,108.35 528.40,109.56 528.60,108.89 528.80,108.54 529.00,108.28 529.20,107.57 529.40,109.29 529.60,109.69 529.80,107.26 530.00,109.69 530.20,108.43 530.40,107.98 530.60,106.44 530.80,110.56 531.00,109.63 531.20,108.64 531.40,108.57 531.60,107.69 531.80,109.43 532.00,108.87 532.20,109.44 532.40,109.10 532.60,107.58 532.80,107.44 533.00,109.32 533.20,107.30 533.40,109.17 533.60,109.78 533.80,107.69 534.00,109.55 534.20,108.95 534.40,109.42 534.60,108.31 534.80,108.83 535.00,109.32 535.20,110.65 535.40,109.61 535.60,109.38 535.80,107.68 536.00,109.22 536.20,108.26 536.40,108.84 536.60,109.16 536.80,109.82 537.00,109.46 537.20,109.08 537.40,108.84 537.60,110.18 537.80,108.05 538.00,108.92 538.20,110.18 538.40,108.70" fill="none" stroke="#0000ff" stroke-width="1.15" stroke-linejoin="round"/>
<polyline points="28.40,363.20 28.60,364.50 28.80,367.83 29.00,366.88 29.20,363.99 29.40,366.99 29.60,366.59 29.80,368.28 30.00,366.16 30.20,369.44 30.40,369.93 30.60,372.42 30.80,371.01 31.00,371.76 31.20,369.21 31.40,375.29 31.60,369.50 31.80,374.48 32.00,372.78 32.20,372.40 32.40,373.16 32.60,373.56 32.80,375.55 33.00,375.20 33.20,377.96 33.40,373.34 33.60,376.41 33.80,375.38 34.00,378.16 34.20,374.08 34.40,376.99 34.60,378.07 34.80,374.43 35.00,379.70 35.20,378.72 35.40,380.18 35.60,380.32 35.80,377.63 36.00,378.10 36.20,379.01 36.40,380.81 36.60,381.16 36.80,379.00 37.00,379.33 37.20,379.22 37.40,379.71 37.60,380.40 37.80,380.72 38.00,384.16 38.20,380.47 38.40,380.95 38.60,382.22 38.80,380.25 39.00,381.27 39.20,381.98 39.40,383.26 39.60,380.26 39.80,384.42 40.00,381.97 40.20,382.88 40.40,384.02 40.60,383.87 40.80,384.59 41.00,383.39 41.20,383.22 41.40,383.85 41.60,382.00 41.80,385.43 42.00,382.56 42.20,381.95 42.40,387.04 42.60,383.86 42.80,382.40 43.00,387.05 43.20,383.88 43.40,386.07 43.60,383.33 43.80,384.30 44.00,382.23 44.20,381.99 44.40,383.47 44.60,384.90 44.80,386.29 45.00,388.81 45.20,383.70 45.40,386.83 45.60,384.47 45.80,385.21 46.00,383.27 46.20,383.33 46.40,384.44 46.60,383.87 46.80,385.71 47.00,384.71 47.20,387.70 47.40,386.10 47.60,386.17 47.80,387.68 48.00,386.81 48.20,386.03 48.40,385.92 48.60,386.00 48.80,387.85 49.00,387.46 49.20,386.88 49.40,387.58 49.60,385.61 49.80,387.25 50.00,384.41 50.20,388.59 50.40,386.75 50.60,386.94 50.80,387.61 51.00,386.74 51.20,386.41 51.40,388.62 51.60,387.05 51.80,385.54 52.00,387.61 52.20,384.44 52.40,389.51 52.60,386.81 52.80,387.17 53.00,390.52 53.20,390.40 53.40,387.38 53.60,388.17 53.80,388.90 54.00,389.82 54.20,387.12 54.40,387.55 54.60,389.21 54.80,387.80 55.00,388.55 55.20,388.36 55.40,385.76 55.60,386.19 55.80,383.54 56.00,387.12 56.20,389.54 56.40,385.88 56.60,389.40 56.80,389.06 57.00,387.49 57.20,387.57 57.40,387.71 57.60,386.30 57.80,387.17 58.00,387.52 58.20,388.51 58.40,388.78 58.60,386.48 58.80,388.83 59.00,386.43 59.20,387.34 59.40,388.15 59.60,387.56 59.80,387.40 60.00,388.00 60.20,386.76 60.40,386.61 60.60,387.29 60.80,389.04 61.00,387.44 61.20,390.45 61.40,387.91 61.60,383.13 61.80,386.93 62.00,390.09 62.20,387.60 62.40,386.54 62.60,386.28 62.80,389.58 63.00,389.10 63.20,388.60 63.40,388.24 63.60,389.75 63.80,388.83 64.00,385.75 64.20,388.75 64.40,387.85 64.60,387.43 64.80,388.74 65.00,387.64 65.20,383.19 65.40,389.93 65.60,389.15 65.80,387.41 66.00,387.03 66.20,387.93 66.40,385.67 66.60,388.05 66.80,387.25 67.00,387.06 67.20,386.21 67.40,386.58 67.60,389.25 67.80,390.80 68.00,388.35 68.20,387.52 68.40,386.28 68.60,388.67 68.80,390.01 69.00,385.17 69.20,389.35 69.40,384.34 69.60,387.08 69.80,388.17 70.00,385.55 70.20,385.32 70.40,387.87 70.60,388.91 70.80,386.88 71.00,389.61 71.20,386.42 71.40,390.22 71.60,387.77 71.80,387.95 72.00,388.52 72.20,388.07 72.40,390.36 72.60,390.90 72.80,388.41 73.00,387.34 73.20,385.83 73.40,386.46 73.60,387.60 73.80,387.43 74.00,387.51 74.20,387.57 74.40,388.30 74.60,385.51 74.80,385.99 75.00,389.20 75.20,388.75 75.40,386.68 75.60,389.40 75.80,386.43 76.00,387.04 76.20,384.66 76.40,388.64 76.60,387.34 76.80,388.93 77.00,388.36 77.20,387.42 77.40,387.49 77.60,389.01 77.80,386.94 78.00,386.93 78.20,387.23 78.40,388.30 78.60,388.45 78.80,389.91 79.00,386.88 79.20,388.86 79.40,385.96 79.60,387.81 79.80,387.06 80.00,389.43 80.20,387.71 80.40,386.08 80.60,387.58 80.80,387.19 81.00,386.16 81.20,386.15 81.40,385.13 81.60,390.64 81.80,386.66 82.00,387.88 82.20,384.62 82.40,384.70 82.60,385.96 82.80,386.01 83.00,387.40 83.20,384.64 83.40,386.91 83.60,388.33 83.80,384.64 84.00,387.32 84.20,384.47 84.40,386.39 84.60,386.37 84.80,388.38 85.00,384.69 85.20,385.93 85.40,387.20 85.60,383.83 85.80,385.53 86.00,384.19 86.20,384.40 86.40,386.43 86.60,386.42 86.80,389.19 87.00,387.34 87.20,387.17 87.40,384.94 87.60,384.70 87.80,385.31 88.00,381.65 88.20,387.51 88.40,383.97 88.60,383.35 88.80,384.21 89.00,386.16 89.20,386.67 89.40,384.19 89.60,385.37 89.80,384.59 90.00,383.13 90.20,384.84 90.40,384.58 90.60,382.19 90.80,386.10 91.00,382.04 91.20,384.71 91.40,382.74 91.60,383.05 91.80,383.17 92.00,385.23 92.20,382.25 92.40,383.80 92.60,386.37 92.80,382.95 93.00,383.90 93.20,384.89 93.40,382.98 93.60,384.52 93.80,382.77 94.00,384.76 94.20,383.76 94.40,382.21 94.60,385.68 94.80,383.38 95.00,383.05 95.20,382.04 95.40,382.67 95.60,383.19 95.80,383.54 96.00,384.88 96.20,381.21 96.40,382.61 96.60,384.88 96.80,383.31 97.00,383.60 97.20,386.77 97.40,383.39 97.60,383.54 97.80,382.73 98.00,385.39 98.20,384.26 98.40,381.55 98.60,383.41 98.80,380.81 99.00,384.11 99.20,383.44 99.40,382.14 99.60,381.72 99.80,377.97 100.00,383.36 100.20,381.99 100.40,381.64 100.60,383.14 100.80,381.01 101.00,381.07 101.20,380.85 101.40,379.81 101.60,385.40 101.80,381.44 102.00,381.15 102.20,382.97 102.40,376.84 102.60,381.47 102.80,381.48 103.00,379.94 103.20,382.03 103.40,378.24 103.60,381.23 103.80,382.48 104.00,377.75 104.20,378.84 104.40,380.70 104.60,380.83 104.80,379.82 105.00,381.25 105.20,381.00 105.40,378.54 105.60,380.35 105.80,378.51 106.00,377.24 106.20,376.67 106.40,381.76 106.60,379.96 106.80,383.03 107.00,377.83 107.20,379.43 107.40,380.41 107.60,379.63 107.80,380.54 108.00,379.95 108.20,378.75 108.40,376.12 108.60,378.14 108.80,382.09 109.00,380.60 109.20,381.47 109.40,378.47 109.60,379.00 109.80,377.92 110.00,379.77 110.20,379.21 110.40,379.74 110.60,381.65 110.80,377.69 111.00,379.99 111.20,376.72 111.40,380.42 111.60,378.04 111.80,378.53 112.00,378.78 112.20,380.98 112.40,378.40 112.60,377.64 112.80,376.54 113.00,378.67 113.20,376.90 113.40,377.36 113.60,378.02 113.80,378.99 114.00,376.85 114.20,378.86 114.40,380.44 114.60,375.48 114.80,379.69 115.00,380.81 115.20,376.63 115.40,378.37 115.60,375.32 115.80,377.82 116.00,376.75 116.20,377.63 116.40,375.72 116.60,375.79 116.80,376.28 117.00,375.81 117.20,375.87 117.40,376.42 117.60,374.98 117.80,376.35 118.00,377.22 118.20,372.95 118.40,376.64 118.60,375.15 118.80,374.51 119.00,374.09 119.20,374.76 119.40,374.84 119.60,376.39 119.80,373.90 120.00,377.28 120.20,374.42 120.40,376.60 120.60,377.13 120.80,373.59 121.00,376.96 121.20,378.57 121.40,374.57 121.60,376.05 121.80,374.92 122.00,375.18 122.20,374.71 122.40,374.17 122.60,376.53 122.80,376.11 123.00,374.72 123.20,376.92 123.40,376.21 123.60,375.56 123.80,373.35 124.00,377.20 124.20,376.26 124.40,370.97 124.60,372.45 124.80,373.32 125.00,375.36 125.20,375.74 125.40,373.36 125.60,374.08 125.80,374.68 126.00,371.64 126.20,374.35 126.40,372.92 126.60,373.57 126.80,373.14 127.00,371.35 127.20,371.54 127.40,373.01 127.60,373.05 127.80,372.37 128.00,374.27 128.20,372.05 128.40,370.67 128.60,371.89 128.80,372.05 129.00,372.02 129.20,373.87 129.40,372.80 129.60,373.52 129.80,372.78 130.00,371.50 130.20,373.21 130.40,371.17 130.60,371.84 130.80,369.87 131.00,371.42 131.20,370.69 131.40,371.64 131.60,373.70 131.80,374.44 132.00,372.31 132.20,370.64 132.40,371.82 132.60,370.83 132.80,369.47 133.00,370.19 133.20,369.80 133.40,369.17 133.60,372.05 133.80,369.06 134.00,369.02 134.20,370.72 134.40,368.52 134.60,367.73 134.80,368.07 135.00,369.97 135.20,369.70 135.40,369.48 135.60,368.23 135.80,367.45 136.00,370.07 136.20,366.44 136.40,368.18 136.60,366.40 136.80,367.67 137.00,367.95 137.20,369.91 137.40,363.66 137.60,369.90 137.80,366.41 138.00,368.07 138.20,368.73 138.40,366.26 138.60,367.17 138.80,367.93 139.00,366.89 139.20,365.86 139.40,367.14 139.60,366.91 139.80,364.38 140.00,368.56 140.20,366.74 140.40,362.66 140.60,364.93 140.80,368.64 141.00,368.32 141.20,366.22 141.40,363.17 141.60,365.21 141.80,367.03 142.00,365.91 142.20,364.69 142.40,363.96 142.60,366.18 142.80,364.49 143.00,365.49 143.20,365.28 143.40,366.87 143.60,364.56 143.80,364.54 144.00,361.33 144.20,365.55 144.40,365.08 144.60,363.59 144.80,360.07 145.00,362.49 145.20,363.32 145.40,366.21 145.60,363.82 145.80,363.98 146.00,363.89 146.20,364.52 146.40,360.68 146.60,360.97 146.80,360.34 147.00,361.55 147.20,361.31 147.40,361.86 147.60,360.03 147.80,361.57 148.00,360.02 148.20,364.34 148.40,360.24 148.60,364.73 148.80,363.23 149.00,358.84 149.20,361.95 149.40,361.30 149.60,357.96 149.80,361.05 150.00,359.88 150.20,360.41 150.40,358.48 150.60,359.53 150.80,360.11 151.00,359.07 151.20,358.29 151.40,358.82 151.60,357.44 151.80,359.28 152.00,354.77 152.20,360.74 152.40,358.42 152.60,358.90 152.80,359.33 153.00,356.04 153.20,361.19 153.40,355.95 153.60,358.21 153.80,357.87 154.00,359.24 154.20,357.14 154.40,354.93 154.60,357.43 154.80,353.15 155.00,356.47 155.20,356.00 155.40,358.97 155.60,356.15 155.80,355.84 156.00,355.34 156.20,355.17 156.40,355.59 156.60,357.29 156.80,354.38 157.00,356.02 157.20,354.11 157.40,356.03 157.60,356.50 157.80,354.37 158.00,355.34 158.20,356.33 158.40,357.31 158.60,357.56 158.80,355.94 159.00,354.59 159.20,353.63 159.40,357.22 159.60,358.13 159.80,356.57 160.00,358.36 160.20,355.31 160.40,355.39 160.60,358.33 160.80,354.44 161.00,356.86 161.20,356.52 161.40,356.17 161.60,358.54 161.80,354.60 162.00,355.28 162.20,352.78 162.40,354.35 162.60,355.17 162.80,355.38 163.00,355.68 163.20,356.46 163.40,355.03 163.60,353.09 163.80,356.34 164.00,356.79 164.20,354.45 164.40,355.06 164.60,358.95 164.80,357.90 165.00,358.05 165.20,357.48 165.40,356.75 165.60,355.82 165.80,357.51 166.00,356.41 166.20,356.11 166.40,356.81 166.60,356.77 166.80,358.30 167.00,355.57 167.20,360.83 167.40,355.61 167.60,356.55 167.80,358.67 168.00,356.03 168.20,356.62 168.40,357.44 168.60,352.96 168.80,356.72 169.00,356.07 169.20,357.20 169.40,358.37 169.60,358.63 169.80,359.97 170.00,359.92 170.20,359.35 170.40,357.77 170.60,359.44 170.80,356.40 171.00,357.80 171.20,360.15 171.40,359.20 171.60,355.92 171.80,357.15 172.00,359.42 172.20,358.99 172.40,359.70 172.60,355.42 172.80,356.16 173.00,357.65 173.20,356.42 173.40,357.59 173.60,357.21 173.80,356.97 174.00,355.02 174.20,354.10 174.40,351.39 174.60,346.14 174.80,339.37 175.00,341.04 175.20,342.07 175.40,347.58 175.60,352.00 175.80,352.82 176.00,358.52 176.20,358.29 176.40,358.58 176.60,363.19 176.80,361.41 177.00,362.78 177.20,364.05 177.40,365.45 177.60,360.50 177.80,362.31 178.00,364.63 178.20,362.74 178.40,358.95 178.60,364.21 178.80,364.43 179.00,365.39 179.20,364.63 179.40,363.71 179.60,364.79 179.80,364.50 180.00,363.44 180.20,365.13 180.40,365.38 180.60,363.42 180.80,366.61 181.00,366.42 181.20,366.48 181.40,361.26 181.60,365.71 181.80,365.47 182.00,364.28 182.20,366.80 182.40,363.79 182.60,368.07 182.80,366.93 183.00,365.74 183.20,368.80 183.40,367.50 183.60,367.46 183.80,365.15 184.00,368.07 184.20,369.56 184.40,369.26 184.60,365.81 184.80,370.02 185.00,370.51 185.20,369.53 185.40,367.84 185.60,366.31 185.80,367.37 186.00,368.04 186.20,369.49 186.40,370.07 186.60,368.28 186.80,365.60 187.00,369.10 187.20,367.88 187.40,372.05 187.60,368.33 187.80,371.07 188.00,371.74 188.20,369.16 188.40,372.31 188.60,370.72 188.80,369.87 189.00,369.78 189.20,371.51 189.40,373.09 189.60,368.72 189.80,372.64 190.00,371.61 190.20,370.81 190.40,371.91 190.60,372.17 190.80,372.21 191.00,373.64 191.20,371.17 191.40,377.38 191.60,374.12 191.80,371.98 192.00,370.08 192.20,373.08 192.40,372.61 192.60,374.47 192.80,374.55 193.00,378.17 193.20,373.49 193.40,375.00 193.60,373.27 193.80,373.46 194.00,376.45 194.20,374.03 194.40,374.19 194.60,373.92 194.80,375.06 195.00,375.57 195.20,374.59 195.40,373.15 195.60,375.50 195.80,373.84 196.00,374.64 196.20,375.61 196.40,375.76 196.60,371.96 196.80,378.14 197.00,376.87 197.20,378.68 197.40,379.66 197.60,374.50 197.80,375.16 198.00,376.47 198.20,377.59 198.40,375.47 198.60,375.85 198.80,378.03 199.00,375.13 199.20,376.87 199.40,378.26 199.60,376.29 199.80,377.93 200.00,376.64 200.20,374.48 200.40,376.12 200.60,376.69 200.80,376.55 201.00,377.15 201.20,377.77 201.40,377.66 201.60,377.55 201.80,376.67 202.00,377.05 202.20,376.86 202.40,376.59 202.60,379.60 202.80,374.70 203.00,377.97 203.20,375.19 203.40,376.80 203.60,378.95 203.80,377.35 204.00,379.93 204.20,376.42 204.40,377.44 204.60,376.96 204.80,377.97 205.00,377.50 205.20,377.43 205.40,378.15 205.60,379.71 205.80,378.29 206.00,378.15 206.20,377.64 206.40,377.01 206.60,375.89 206.80,376.48 207.00,378.09 207.20,375.13 207.40,378.96 207.60,377.29 207.80,376.44 208.00,376.95 208.20,378.66 208.40,378.10 208.60,377.79 208.80,379.88 209.00,380.57 209.20,374.92 209.40,378.00 209.60,375.37 209.80,374.36 210.00,375.66 210.20,378.10 210.40,376.32 210.60,376.35 210.80,379.51 211.00,378.48 211.20,377.91 211.40,381.05 211.60,379.32 211.80,377.73 212.00,377.39 212.20,378.58 212.40,379.64 212.60,380.96 212.80,380.95 213.00,379.97 213.20,378.14 213.40,381.41 213.60,380.24 213.80,378.54 214.00,378.40 214.20,380.67 214.40,380.93 214.60,381.71 214.80,378.71 215.00,383.51 215.20,377.94 215.40,380.69 215.60,382.85 215.80,382.47 216.00,379.52 216.20,381.96 216.40,382.98 216.60,382.31 216.80,379.78 217.00,383.86 217.20,378.94 217.40,381.53 217.60,379.92 217.80,380.95 218.00,381.15 218.20,382.46 218.40,379.85 218.60,382.13 218.80,383.81 219.00,382.01 219.20,382.74 219.40,382.59 219.60,380.83 219.80,381.41 220.00,382.05 220.20,382.69 220.40,385.04 220.60,384.42 220.80,381.23 221.00,381.25 221.20,380.34 221.40,378.34 221.60,383.79 221.80,382.99 222.00,378.77 222.20,381.69 222.40,385.19 222.60,382.31 222.80,382.28 223.00,381.76 223.20,380.22 223.40,379.54 223.60,379.99 223.80,381.40 224.00,380.74 224.20,382.08 224.40,383.61 224.60,381.77 224.80,382.06 225.00,380.17 225.20,377.43 225.40,383.82 225.60,381.54 225.80,382.15 226.00,379.69 226.20,377.59 226.40,382.08 226.60,374.72 226.80,379.64 227.00,378.98 227.20,380.21 227.40,380.84 227.60,380.76 227.80,376.23 228.00,380.83 228.20,376.34 228.40,380.17 228.60,378.39 228.80,377.24 229.00,378.07 229.20,376.79 229.40,378.70 229.60,380.07 229.80,379.77 230.00,378.55 230.20,380.08 230.40,379.09 230.60,381.52 230.80,378.93 231.00,377.14 231.20,377.51 231.40,376.70 231.60,377.31 231.80,377.43 232.00,378.59 232.20,379.32 232.40,377.42 232.60,377.89 232.80,376.01 233.00,376.20 233.20,373.18 233.40,375.66 233.60,375.99 233.80,380.58 234.00,374.51 234.20,376.58 234.40,375.90 234.60,373.92 234.80,376.65 235.00,376.20 235.20,373.88 235.40,372.48 235.60,375.87 235.80,373.69 236.00,376.80 236.20,375.25 236.40,376.38 236.60,374.98 236.80,377.67 237.00,376.23 237.20,377.35 237.40,375.02 237.60,373.09 237.80,372.28 238.00,373.44 238.20,374.40 238.40,372.72 238.60,377.12 238.80,372.95 239.00,373.40 239.20,372.45 239.40,370.02 239.60,373.16 239.80,372.15 240.00,372.11 240.20,369.02 240.40,370.19 240.60,369.89 240.80,371.62 241.00,367.69 241.20,370.91 241.40,372.00 241.60,369.67 241.80,369.41 242.00,373.07 242.20,371.84 242.40,373.63 242.60,373.50 242.80,374.43 243.00,372.93 243.20,370.36 243.40,374.90 243.60,373.29 243.80,375.61 244.00,374.16 244.20,377.74 244.40,375.12 244.60,377.01 244.80,377.66 245.00,376.04 245.20,376.85 245.40,376.50 245.60,375.27 245.80,379.10 246.00,374.78 246.20,374.71 246.40,376.46 246.60,377.55 246.80,377.56 247.00,377.05 247.20,376.97 247.40,374.47 247.60,378.81 247.80,380.61 248.00,376.90 248.20,375.34 248.40,379.36 248.60,378.05 248.80,372.30 249.00,377.39 249.20,376.44 249.40,377.01 249.60,382.05 249.80,380.66 250.00,379.05 250.20,379.49 250.40,382.08 250.60,378.13 250.80,381.16 251.00,379.22 251.20,381.70 251.40,380.95 251.60,379.66 251.80,383.70 252.00,382.07 252.20,384.29 252.40,381.04 252.60,382.10 252.80,381.03 253.00,384.21 253.20,381.37 253.40,382.74 253.60,385.01 253.80,384.03 254.00,383.88 254.20,384.06 254.40,384.40 254.60,385.09 254.80,383.83 255.00,381.43 255.20,386.79 255.40,383.28 255.60,387.98 255.80,385.77 256.00,390.44 256.20,387.53 256.40,386.54 256.60,387.49 256.80,384.06 257.00,386.66 257.20,385.97 257.40,386.71 257.60,383.63 257.80,383.53 258.00,388.17 258.20,387.23 258.40,386.57 258.60,387.20 258.80,386.40 259.00,386.74 259.20,388.60 259.40,387.21 259.60,388.70 259.80,386.53 260.00,384.81 260.20,386.60 260.40,387.40 260.60,385.87 260.80,387.00 261.00,386.81 261.20,389.02 261.40,389.66 261.60,389.26 261.80,386.34 262.00,388.05 262.20,389.51 262.40,387.76 262.60,387.36 262.80,386.25 263.00,388.72 263.20,387.68 263.40,388.94 263.60,387.12 263.80,390.54 264.00,387.27 264.20,385.37 264.40,387.57 264.60,387.98 264.80,389.19 265.00,386.43 265.20,386.29 265.40,386.69 265.60,386.46 265.80,383.75 266.00,388.13 266.20,388.93 266.40,385.76 266.60,385.38 266.80,386.66 267.00,385.58 267.20,388.05 267.40,385.82 267.60,387.71 267.80,384.79 268.00,384.50 268.20,384.25 268.40,384.42 268.60,387.26 268.80,387.87 269.00,386.76 269.20,386.83 269.40,383.04 269.60,388.16 269.80,384.48 270.00,388.39 270.20,390.09 270.40,386.40 270.60,387.24 270.80,387.20 271.00,384.16 271.20,384.41 271.40,385.06 271.60,386.32 271.80,387.35 272.00,386.18 272.20,387.67 272.40,385.13 272.60,383.69 272.80,385.88 273.00,385.70 273.20,383.54 273.40,387.28 273.60,384.16 273.80,384.47 274.00,385.89 274.20,383.83 274.40,386.40 274.60,385.99 274.80,386.04 275.00,385.28 275.20,384.49 275.40,384.00 275.60,385.59 275.80,387.18 276.00,386.22 276.20,385.52 276.40,386.44 276.60,386.89 276.80,382.83 277.00,384.64 277.20,386.53 277.40,383.57 277.60,383.79 277.80,385.39 278.00,384.02 278.20,386.15 278.40,383.73 278.60,385.05 278.80,387.93 279.00,385.74 279.20,381.78 279.40,382.17 279.60,382.12 279.80,383.49 280.00,381.30 280.20,384.20 280.40,385.87 280.60,385.49 280.80,381.77 281.00,382.35 281.20,382.16 281.40,381.17 281.60,384.87 281.80,380.99 282.00,380.11 282.20,382.15 282.40,381.86 282.60,383.42 282.80,383.14 283.00,380.17 283.20,376.88 283.40,380.77 283.60,380.57 283.80,381.64 284.00,375.98 284.20,376.09 284.40,379.70 284.60,379.20 284.80,378.03 285.00,375.27 285.20,376.51 285.40,372.83 285.60,370.85 285.80,371.69 286.00,370.89 286.20,370.83 286.40,370.06 286.60,364.35 286.80,366.06 287.00,364.78 287.20,360.32 287.40,359.89 287.60,358.37 287.80,357.29 288.00,354.61 288.20,355.68 288.40,356.58 288.60,360.81 288.80,361.74 289.00,363.11 289.20,366.58 289.40,366.77 289.60,366.50 289.80,372.31 290.00,372.18 290.20,372.44 290.40,371.13 290.60,375.32 290.80,373.57 291.00,372.38 291.20,375.77 291.40,379.39 291.60,376.55 291.80,378.70 292.00,380.42 292.20,379.09 292.40,378.76 292.60,379.67 292.80,380.91 293.00,379.59 293.20,381.50 293.40,381.83 293.60,380.68 293.80,382.60 294.00,382.59 294.20,381.46 294.40,381.87 294.60,382.51 294.80,382.29 295.00,382.36 295.20,381.28 295.40,383.14 295.60,384.22 295.80,384.20 296.00,382.10 296.20,384.31 296.40,384.49 296.60,382.27 296.80,384.98 297.00,383.58 297.20,383.36 297.40,384.35 297.60,383.75 297.80,380.78 298.00,384.52 298.20,382.58 298.40,384.18 298.60,385.40 298.80,383.83 299.00,383.80 299.20,384.73 299.40,385.31 299.60,383.35 299.80,383.70 300.00,385.44 300.20,387.13 300.40,384.76 300.60,386.12 300.80,383.73 301.00,384.89 301.20,385.02 301.40,383.02 301.60,384.95 301.80,384.73 302.00,381.23 302.20,384.95 302.40,385.55 302.60,385.50 302.80,385.65 303.00,383.55 303.20,384.15 303.40,384.75 303.60,384.02 303.80,384.65 304.00,387.20 304.20,384.11 304.40,384.95 304.60,388.23 304.80,385.35 305.00,384.10 305.20,386.02 305.40,385.95 305.60,385.93 305.80,383.32 306.00,386.24 306.20,386.43 306.40,388.97 306.60,386.98 306.80,385.39 307.00,386.55 307.20,387.12 307.40,385.97 307.60,386.17 307.80,388.30 308.00,387.06 308.20,387.15 308.40,385.02 308.60,387.13 308.80,383.75 309.00,388.41 309.20,385.98 309.40,388.23 309.60,388.81 309.80,385.22 310.00,388.56 310.20,387.25 310.40,388.66 310.60,386.48 310.80,386.05 311.00,389.01 311.20,387.78 311.40,387.29 311.60,385.58 311.80,389.24 312.00,386.87 312.20,387.08 312.40,386.43 312.60,387.51 312.80,388.40 313.00,387.49 313.20,387.49 313.40,386.85 313.60,389.88 313.80,390.11 314.00,387.36 314.20,386.54 314.40,388.25 314.60,385.55 314.80,388.30 315.00,388.38 315.20,388.45 315.40,390.38 315.60,390.77 315.80,388.79 316.00,387.66 316.20,389.71 316.40,389.91 316.60,386.56 316.80,387.27 317.00,387.99 317.20,385.99 317.40,386.82 317.60,390.84 317.80,386.68 318.00,389.76 318.20,387.40 318.40,390.04 318.60,389.10 318.80,389.96 319.00,386.69 319.20,389.14 319.40,387.93 319.60,389.88 319.80,389.83 320.00,389.07 320.20,388.67 320.40,388.86 320.60,389.52 320.80,388.18 321.00,388.31 321.20,388.03 321.40,387.47 321.60,390.51 321.80,387.12 322.00,390.92 322.20,390.09 322.40,386.63 322.60,386.47 322.80,389.16 323.00,387.61 323.20,389.36 323.40,390.55 323.60,389.71 323.80,388.91 324.00,388.97 324.20,391.37 324.40,388.76 324.60,391.79 324.80,392.25 325.00,388.82 325.20,389.79 325.40,391.84 325.60,387.86 325.80,390.04 326.00,390.95 326.20,387.97 326.40,390.01 326.60,389.68 326.80,388.75 327.00,391.73 327.20,389.34 327.40,392.81 327.60,390.59 327.80,388.57 328.00,389.96 328.20,388.50 328.40,390.77 328.60,390.55 328.80,387.92 329.00,389.03 329.20,390.30 329.40,389.71 329.60,388.23 329.80,391.17 330.00,391.55 330.20,387.49 330.40,391.68 330.60,386.67 330.80,389.35 331.00,388.58 331.20,388.71 331.40,389.72 331.60,387.77 331.80,389.24 332.00,391.72 332.20,389.92 332.40,391.32 332.60,390.36 332.80,386.74 333.00,391.45 333.20,390.03 333.40,389.61 333.60,387.98 333.80,387.59 334.00,386.63 334.20,387.65 334.40,387.75 334.60,387.06 334.80,386.74 335.00,382.28 335.20,385.21 335.40,384.85 335.60,386.13 335.80,384.91 336.00,384.87 336.20,385.70 336.40,385.10 336.60,385.65 336.80,387.93 337.00,386.53 337.20,385.86 337.40,388.33 337.60,388.96 337.80,389.02 338.00,386.57 338.20,389.99 338.40,388.96 338.60,389.27 338.80,389.39 339.00,390.06 339.20,390.25 339.40,391.75 339.60,390.15 339.80,389.79 340.00,390.90 340.20,389.94 340.40,391.68 340.60,390.45 340.80,391.34 341.00,389.64 341.20,391.80 341.40,391.34 341.60,389.35 341.80,390.05 342.00,390.73 342.20,388.83 342.40,389.19 342.60,391.41 342.80,391.47 343.00,392.67 343.20,389.06 343.40,390.37 343.60,388.10 343.80,393.36 344.00,389.14 344.20,390.66 344.40,393.69 344.60,393.03 344.80,389.89 345.00,394.23 345.20,391.77 345.40,389.75 345.60,391.56 345.80,392.11 346.00,392.13 346.20,388.36 346.40,393.86 346.60,389.14 346.80,391.09 347.00,393.40 347.20,392.00 347.40,391.44 347.60,390.69 347.80,392.36 348.00,393.50 348.20,390.88 348.40,392.26 348.60,391.21 348.80,391.18 349.00,388.95 349.20,392.20 349.40,393.18 349.60,391.72 349.80,393.41 350.00,392.26 350.20,394.80 350.40,392.31 350.60,391.65 350.80,391.52 351.00,392.37 351.20,392.68 351.40,391.25 351.60,392.16 351.80,390.58 352.00,390.61 352.20,393.37 352.40,393.02 352.60,393.77 352.80,392.98 353.00,392.98 353.20,395.19 353.40,391.58 353.60,393.15 353.80,394.93 354.00,395.59 354.20,393.62 354.40,392.74 354.60,391.49 354.80,392.74 355.00,393.19 355.20,393.03 355.40,393.72 355.60,393.84 355.80,392.45 356.00,391.91 356.20,392.75 356.40,393.76 356.60,395.40 356.80,391.00 357.00,394.68 357.20,392.87 357.40,394.75 357.60,395.83 357.80,393.98 358.00,391.78 358.20,392.77 358.40,393.83 358.60,392.68 358.80,393.27 359.00,392.33 359.20,393.08 359.40,392.54 359.60,394.54 359.80,393.80 360.00,394.38 360.20,391.20 360.40,392.78 360.60,392.39 360.80,392.80 361.00,392.21 361.20,392.41 361.40,395.49 361.60,393.01 361.80,391.69 362.00,392.97 362.20,396.37 362.40,394.30 362.60,392.10 362.80,393.01 363.00,393.24 363.20,393.37 363.40,389.39 363.60,392.04 363.80,393.07 364.00,390.99 364.20,393.04 364.40,393.37 364.60,394.30 364.80,394.67 365.00,393.00 365.20,393.53 365.40,394.13 365.60,394.56 365.80,393.30 366.00,392.19 366.20,393.97 366.40,394.30 366.60,393.36 366.80,393.91 367.00,395.25 367.20,392.46 367.40,392.18 367.60,391.66 367.80,393.56 368.00,394.34 368.20,392.40 368.40,395.46 368.60,392.27 368.80,393.64 369.00,392.87 369.20,394.84 369.40,392.16 369.60,395.17 369.80,392.74 370.00,391.19 370.20,392.19 370.40,392.72 370.60,395.14 370.80,392.27 371.00,392.88 371.20,395.62 371.40,393.07 371.60,392.02 371.80,391.86 372.00,390.76 372.20,393.28 372.40,394.39 372.60,392.30 372.80,391.37 373.00,393.11 373.20,392.74 373.40,392.44 373.60,393.29 373.80,392.73 374.00,392.19 374.20,393.97 374.40,390.20 374.60,391.14 374.80,392.25 375.00,390.82 375.20,394.57 375.40,387.95 375.60,393.49 375.80,393.30 376.00,392.99 376.20,393.09 376.40,391.77 376.60,391.56 376.80,394.37 377.00,392.30 377.20,390.56 377.40,390.85 377.60,390.45 377.80,392.82 378.00,393.97 378.20,392.05 378.40,392.64 378.60,391.79 378.80,393.62 379.00,393.61 379.20,393.68 379.40,394.83 379.60,390.85 379.80,393.53 380.00,390.44 380.20,393.43 380.40,393.56 380.60,393.45 380.80,393.57 381.00,392.35 381.20,391.71 381.40,393.55 381.60,391.74 381.80,393.50 382.00,391.48 382.20,393.04 382.40,392.99 382.60,391.54 382.80,392.22 383.00,393.85 383.20,392.72 383.40,393.37 383.60,392.00 383.80,392.88 384.00,390.84 384.20,391.76 384.40,394.41 384.60,393.52 384.80,392.85 385.00,393.03 385.20,391.13 385.40,393.44 385.60,391.33 385.80,391.99 386.00,393.86 386.20,392.03 386.40,392.34 386.60,392.91 386.80,393.18 387.00,394.81 387.20,390.90 387.40,392.60 387.60,393.91 387.80,392.54 388.00,392.69 388.20,392.18 388.40,392.86 388.60,394.12 388.80,394.91 389.00,393.79 389.20,395.15 389.40,393.54 389.60,391.31 389.80,394.44 390.00,390.91 390.20,393.46 390.40,393.57 390.60,392.14 390.80,393.37 391.00,392.97 391.20,393.88 391.40,393.35 391.60,394.55 391.80,393.32 392.00,394.61 392.20,393.87 392.40,394.22 392.60,394.09 392.80,393.36 393.00,395.43 393.20,394.78 393.40,391.18 393.60,392.55 393.80,396.31 394.00,393.82 394.20,397.78 394.40,394.79 394.60,394.85 394.80,393.71 395.00,394.05 395.20,394.57 395.40,395.55 395.60,394.55 395.80,394.40 396.00,393.23 396.20,393.92 396.40,393.99 396.60,394.39 396.80,393.65 397.00,393.22 397.20,394.23 397.40,391.53 397.60,392.75 397.80,393.63 398.00,395.18 398.20,393.82 398.40,393.34 398.60,395.58 398.80,394.58 399.00,396.47 399.20,394.50 399.40,393.90 399.60,394.34 399.80,397.05 400.00,396.77 400.20,395.04 400.40,396.17 400.60,393.13 400.80,396.47 401.00,395.34 401.20,394.82 401.40,394.98 401.60,395.28 401.80,394.41 402.00,394.51 402.20,393.48 402.40,396.97 402.60,393.90 402.80,394.83 403.00,396.33 403.20,396.58 403.40,396.85 403.60,394.33 403.80,394.52 404.00,395.00 404.20,392.79 404.40,396.21 404.60,393.08 404.80,394.97 405.00,396.28 405.20,396.21 405.40,394.63 405.60,396.33 405.80,396.56 406.00,393.12 406.20,394.92 406.40,396.09 406.60,395.83 406.80,395.04 407.00,395.19 407.20,398.23 407.40,394.91 407.60,396.71 407.80,393.93 408.00,396.09 408.20,396.75 408.40,394.97 408.60,394.75 408.80,397.86 409.00,395.34 409.20,396.89 409.40,393.85 409.60,397.80 409.80,393.25 410.00,394.60 410.20,395.04 410.40,395.74 410.60,396.08 410.80,397.86 411.00,398.49 411.20,398.26 411.40,396.98 411.60,396.24 411.80,393.43 412.00,395.92 412.20,395.32 412.40,396.84 412.60,394.83 412.80,395.06 413.00,395.19 413.20,396.93 413.40,396.36 413.60,394.89 413.80,394.03 414.00,395.48 414.20,395.41 414.40,395.53 414.60,396.33 414.80,397.14 415.00,397.22 415.20,395.43 415.40,395.33 415.60,398.16 415.80,396.01 416.00,397.21 416.20,396.57 416.40,396.82 416.60,398.33 416.80,396.08 417.00,397.75 417.20,397.05 417.40,396.23 417.60,395.84 417.80,395.77 418.00,397.86 418.20,397.67 418.40,395.40 418.60,396.95 418.80,394.22 419.00,396.53 419.20,399.01 419.40,395.00 419.60,396.85 419.80,395.71 420.00,396.58 420.20,395.17 420.40,396.71 420.60,393.59 420.80,396.15 421.00,396.08 421.20,396.35 421.40,398.96 421.60,395.03 421.80,395.61 422.00,394.77 422.20,397.07 422.40,396.47 422.60,394.99 422.80,397.60 423.00,396.78 423.20,398.21 423.40,397.38 423.60,396.54 423.80,395.47 424.00,393.77 424.20,395.68 424.40,397.82 424.60,396.13 424.80,395.37 425.00,396.72 425.20,397.32 425.40,399.85 425.60,395.19 425.80,395.97 426.00,395.00 426.20,395.50 426.40,397.52 426.60,396.26 426.80,394.59 427.00,398.04 427.20,398.57 427.40,397.37 427.60,395.16 427.80,395.06 428.00,397.97 428.20,395.12 428.40,395.68 428.60,394.57 428.80,400.09 429.00,395.54 429.20,396.16 429.40,395.44 429.60,395.52 429.80,394.92 430.00,397.73 430.20,395.51 430.40,398.15 430.60,394.76 430.80,396.94 431.00,397.54 431.20,394.91 431.40,396.64 431.60,395.63 431.80,394.97 432.00,395.80 432.20,394.01 432.40,395.96 432.60,394.41 432.80,397.13 433.00,398.19 433.20,398.05 433.40,395.41 433.60,396.15 433.80,398.76 434.00,397.90 434.20,397.10 434.40,393.68 434.60,395.91 434.80,399.07 435.00,396.90 435.20,395.78 435.40,396.43 435.60,399.31 435.80,397.93 436.00,393.70 436.20,394.92 436.40,396.39 436.60,397.94 436.80,395.39 437.00,395.62 437.20,393.15 437.40,395.55 437.60,397.07 437.80,397.07 438.00,394.48 438.20,397.29 438.40,395.26 438.60,394.51 438.80,396.90 439.00,394.23 439.20,395.67 439.40,395.16 439.60,396.05 439.80,396.50 440.00,395.67 440.20,395.17 440.40,395.58 440.60,393.23 440.80,396.07 441.00,398.79 441.20,396.69 441.40,397.71 441.60,396.30 441.80,396.32 442.00,396.87 442.20,397.16 442.40,397.13 442.60,395.30 442.80,396.37 443.00,393.28 443.20,397.65 443.40,396.32 443.60,396.01 443.80,394.79 444.00,396.95 444.20,397.62 444.40,397.01 444.60,397.76 444.80,395.43 445.00,397.55 445.20,396.41 445.40,393.09 445.60,396.77 445.80,395.19 446.00,396.25 446.20,395.62 446.40,395.36 446.60,397.77 446.80,395.78 447.00,396.70 447.20,397.35 447.40,396.02 447.60,394.97 447.80,396.60 448.00,396.41 448.20,395.42 448.40,396.69 448.60,398.15 448.80,397.78 449.00,398.51 449.20,398.32 449.40,396.86 449.60,396.64 449.80,395.28 450.00,398.11 450.20,395.94 450.40,397.37 450.60,398.72 450.80,396.82 451.00,393.74 451.20,395.39 451.40,396.25 451.60,398.34 451.80,396.29 452.00,396.52 452.20,395.37 452.40,397.13 452.60,396.83 452.80,397.71 453.00,395.54 453.20,397.47 453.40,394.97 453.60,395.89 453.80,396.04 454.00,396.47 454.20,397.22 454.40,393.85 454.60,396.62 454.80,396.24 455.00,395.09 455.20,396.36 455.40,397.30 455.60,396.20 455.80,396.16 456.00,397.62 456.20,395.86 456.40,398.09 456.60,397.28 456.80,397.35 457.00,397.56 457.20,398.38 457.40,395.97 457.60,398.28 457.80,395.79 458.00,397.34 458.20,397.64 458.40,397.09 458.60,395.55 458.80,395.43 459.00,395.58 459.20,396.89 459.40,397.17 459.60,397.65 459.80,395.10 460.00,397.37 460.20,398.24 460.40,397.20 460.60,397.01 460.80,398.03 461.00,398.99 461.20,398.89 461.40,398.97 461.60,395.56 461.80,398.90 462.00,396.79 462.20,398.22 462.40,396.49 462.60,397.70 462.80,396.57 463.00,396.95 463.20,399.67 463.40,395.90 463.60,398.58 463.80,397.50 464.00,396.11 464.20,399.08 464.40,397.56 464.60,396.88 464.80,398.00 465.00,396.65 465.20,399.69 465.40,395.90 465.60,397.12 465.80,395.35 466.00,398.11 466.20,398.85 466.40,399.02 466.60,399.81 466.80,397.97 467.00,397.47 467.20,399.18 467.40,397.38 467.60,398.86 467.80,397.63 468.00,397.36 468.20,398.22 468.40,399.68 468.60,399.47 468.80,398.59 469.00,395.30 469.20,398.52 469.40,399.02 469.60,399.26 469.80,397.79 470.00,399.91 470.20,399.13 470.40,396.49 470.60,399.73 470.80,400.84 471.00,399.23 471.20,398.00 471.40,401.18 471.60,400.25 471.80,396.88 472.00,400.39 472.20,399.64 472.40,399.54 472.60,397.11 472.80,397.24 473.00,399.50 473.20,401.64 473.40,399.57 473.60,399.50 473.80,398.68 474.00,398.98 474.20,400.72 474.40,398.58 474.60,401.78 474.80,400.13 475.00,399.95 475.20,399.44 475.40,398.75 475.60,399.33 475.80,397.90 476.00,399.74 476.20,397.40 476.40,402.32 476.60,399.62 476.80,397.87 477.00,400.02 477.20,399.91 477.40,399.07 477.60,400.05 477.80,398.79 478.00,399.60 478.20,399.55 478.40,400.36 478.60,399.13 478.80,400.14 479.00,396.44 479.20,401.09 479.40,400.03 479.60,400.48 479.80,399.54 480.00,400.88 480.20,399.79 480.40,400.08 480.60,399.93 480.80,399.20 481.00,398.76 481.20,400.48 481.40,400.59 481.60,399.72 481.80,401.33 482.00,400.01 482.20,400.43 482.40,401.15 482.60,400.69 482.80,399.63 483.00,398.55 483.20,398.93 483.40,398.59 483.60,400.76 483.80,395.60 484.00,402.19 484.20,398.76 484.40,401.08 484.60,400.16 484.80,400.43 485.00,398.25 485.20,401.00 485.40,399.66 485.60,400.50 485.80,398.65 486.00,399.71 486.20,398.41 486.40,400.10 486.60,400.53 486.80,399.45 487.00,400.22 487.20,400.66 487.40,399.60 487.60,399.34 487.80,396.02 488.00,400.87 488.20,399.81 488.40,399.31 488.60,399.83 488.80,398.95 489.00,399.18 489.20,400.10 489.40,397.73 489.60,399.12 489.80,399.74 490.00,397.60 490.20,398.13 490.40,400.84 490.60,401.90 490.80,399.67 491.00,400.06 491.20,398.24 491.40,400.78 491.60,399.10 491.80,399.23 492.00,399.54 492.20,398.35 492.40,398.13 492.60,398.84 492.80,397.57 493.00,398.04 493.20,395.62 493.40,397.35 493.60,398.95 493.80,399.58 494.00,398.87 494.20,397.05 494.40,397.96 494.60,396.60 494.80,396.28 495.00,398.47 495.20,396.70 495.40,396.54 495.60,396.93 495.80,397.58 496.00,396.45 496.20,395.84 496.40,396.36 496.60,395.76 496.80,395.42 497.00,393.21 497.20,394.77 497.40,395.71 497.60,394.80 497.80,398.26 498.00,398.95 498.20,398.48 498.40,395.69 498.60,397.50 498.80,397.62 499.00,397.74 499.20,395.70 499.40,398.76 499.60,399.80 499.80,398.94 500.00,400.56 500.20,397.92 500.40,399.16 500.60,399.96 500.80,397.52 501.00,398.52 501.20,397.88 501.40,399.80 501.60,397.57 501.80,399.27 502.00,398.37 502.20,400.04 502.40,398.23 502.60,398.92 502.80,399.42 503.00,398.30 503.20,398.69 503.40,398.94 503.60,398.66 503.80,399.54 504.00,398.40 504.20,399.37 504.40,398.93 504.60,398.56 504.80,398.03 505.00,397.15 505.20,398.48 505.40,399.90 505.60,398.89 505.80,400.97 506.00,398.17 506.20,398.84 506.40,397.48 506.60,400.55 506.80,397.76 507.00,399.77 507.20,399.60 507.40,402.21 507.60,400.79 507.80,400.72 508.00,399.47 508.20,401.43 508.40,398.92 508.60,397.95 508.80,400.33 509.00,399.28 509.20,398.57 509.40,399.74 509.60,399.94 509.80,397.63 510.00,400.46 510.20,401.61 510.40,398.95 510.60,397.71 510.80,399.69 511.00,399.27 511.20,400.28 511.40,400.45 511.60,399.28 511.80,401.13 512.00,397.27 512.20,398.64 512.40,399.64 512.60,399.88 512.80,399.34 513.00,399.96 513.20,398.01 513.40,396.88 513.60,400.39 513.80,400.97 514.00,399.48 514.20,398.18 514.40,398.71 514.60,400.18 514.80,399.74 515.00,400.98 515.20,401.36 515.40,400.90 515.60,399.27 515.80,400.70 516.00,400.10 516.20,399.78 516.40,399.74 516.60,399.44 516.80,398.41 517.00,399.96 517.20,398.69 517.40,399.49 517.60,400.44 517.80,400.41 518.00,397.49 518.20,398.80 518.40,398.33 518.60,399.86 518.80,398.73 519.00,400.60 519.20,399.05 519.40,400.07 519.60,398.48 519.80,398.74 520.00,399.26 520.20,400.05 520.40,397.29 520.60,399.65 520.80,397.96 521.00,399.76 521.20,397.59 521.40,399.10 521.60,400.90 521.80,401.18 522.00,398.46 522.20,401.45 522.40,399.11 522.60,399.62 522.80,400.15 523.00,399.71 523.20,399.99 523.40,399.90 523.60,400.55 523.80,399.85 524.00,399.13 524.20,398.50 524.40,398.47 524.60,399.52 524.80,400.40 525.00,399.97 525.20,399.29 525.40,400.10 525.60,399.02 525.80,399.80 526.00,400.14 526.20,399.24 526.40,401.12 526.60,400.89 526.80,399.36 527.00,400.36 527.20,399.90 527.40,400.05 527.60,400.06 527.80,401.15 528.00,400.09 528.20,400.08 528.40,400.78 528.60,400.75 528.80,401.65 529.00,398.93 529.20,400.55 529.40,397.85 529.60,399.88 529.80,397.64 530.00,398.45 530.20,399.74 530.40,398.73 530.60,399.58 530.80,396.98 531.00,402.26 531.20,397.04 531.40,399.20 531.60,401.75 531.80,398.47 532.00,401.78 532.20,401.14 532.40,399.88 532.60,399.59 532.80,399.68 533.00,400.30 533.20,401.06 533.40,401.44 533.60,397.77 533.80,400.97 534.00,400.71 534.20,398.75 534.40,401.02 534.60,401.07 534.80,401.07 535.00,400.03 535.20,400.95 535.40,401.42 535.60,399.43 535.80,399.60 536.00,399.52 536.20,401.41 536.40,400.19 536.60,399.39 536.80,399.08 537.00,398.83 537.20,400.44 537.40,401.10 537.60,401.57 537.80,399.16 538.00,399.20 538.20,399.23 538.40,399.33" fill="none" stroke="#000000" stroke-width="1.15" stroke-linejoin="round"/>
<polyline points="28.40,311.93 28.60,311.70 28.80,313.94 29.00,315.54 29.20,317.21 29.40,316.16 29.60,315.67 29.80,315.84 30.00,318.73 30.20,320.61 30.40,318.99 30.60,317.14 30.80,318.04 31.00,322.47 31.20,320.76 31.40,318.21 31.60,321.21 31.80,319.98 32.00,321.23 32.20,321.88 32.40,321.94 32.60,324.31 32.80,323.75 33.00,323.32 33.20,325.25 33.40,326.26 33.60,322.78 33.80,325.27 34.00,324.47 34.20,326.04 34.40,324.63 34.60,326.97 34.80,327.19 35.00,327.09 35.20,326.24 35.40,327.56 35.60,326.78 35.80,326.66 36.00,329.41 36.20,327.63 36.40,331.44 36.60,331.02 36.80,327.08 37.00,330.87 37.20,329.00 37.40,331.02 37.60,331.28 37.80,328.37 38.00,331.33 38.20,331.52 38.40,333.63 38.60,330.52 38.80,333.70 39.00,331.05 39.20,332.43 39.40,331.81 39.60,335.53 39.80,334.32 40.00,337.36 40.20,334.73 40.40,335.18 40.60,335.31 40.80,333.20 41.00,334.17 41.20,336.49 41.40,333.91 41.60,334.94 41.80,334.74 42.00,335.83 42.20,334.43 42.40,334.87 42.60,335.59 42.80,335.48 43.00,334.08 43.20,336.91 43.40,333.61 43.60,333.85 43.80,333.81 44.00,337.39 44.20,335.41 44.40,334.55 44.60,334.37 44.80,336.86 45.00,334.64 45.20,334.38 45.40,337.36 45.60,334.62 45.80,336.04 46.00,336.58 46.20,335.54 46.40,336.62 46.60,338.83 46.80,336.00 47.00,334.90 47.20,334.06 47.40,336.64 47.60,336.46 47.80,337.46 48.00,336.38 48.20,336.41 48.40,336.08 48.60,336.44 48.80,337.53 49.00,336.74 49.20,337.53 49.40,340.36 49.60,338.20 49.80,335.06 50.00,340.23 50.20,338.12 50.40,336.16 50.60,339.07 50.80,337.73 51.00,336.78 51.20,336.20 51.40,336.27 51.60,337.92 51.80,339.54 52.00,337.41 52.20,338.60 52.40,340.89 52.60,336.13 52.80,338.45 53.00,337.60 53.20,336.47 53.40,336.55 53.60,338.15 53.80,338.87 54.00,337.40 54.20,338.34 54.40,339.40 54.60,338.77 54.80,339.68 55.00,339.08 55.20,339.14 55.40,341.24 55.60,339.40 55.80,338.66 56.00,339.58 56.20,337.08 56.40,338.01 56.60,339.78 56.80,339.55 57.00,340.99 57.20,338.63 57.40,336.37 57.60,341.67 57.80,340.37 58.00,337.05 58.20,340.84 58.40,338.81 58.60,335.93 58.80,338.11 59.00,337.99 59.20,341.26 59.40,337.59 59.60,338.44 59.80,338.42 60.00,338.28 60.20,337.47 60.40,339.25 60.60,340.59 60.80,339.91 61.00,337.52 61.20,337.19 61.40,339.18 61.60,337.91 61.80,338.05 62.00,336.44 62.20,342.08 62.40,340.50 62.60,337.58 62.80,340.52 63.00,342.45 63.20,335.44 63.40,338.31 63.60,338.57 63.80,340.19 64.00,339.01 64.20,338.65 64.40,339.14 64.60,342.12 64.80,342.61 65.00,338.46 65.20,337.85 65.40,343.48 65.60,337.80 65.80,338.44 66.00,339.40 66.20,340.10 66.40,340.96 66.60,339.99 66.80,338.04 67.00,340.19 67.20,339.80 67.40,342.33 67.60,339.41 67.80,337.37 68.00,337.84 68.20,341.71 68.40,338.64 68.60,336.22 68.80,338.59 69.00,339.50 69.20,341.35 69.40,337.95 69.60,340.56 69.80,340.77 70.00,338.45 70.20,339.25 70.40,342.29 70.60,342.22 70.80,340.89 71.00,340.08 71.20,341.33 71.40,339.36 71.60,339.43 71.80,338.25 72.00,339.59 72.20,339.46 72.40,343.89 72.60,339.29 72.80,341.56 73.00,341.64 73.20,339.30 73.40,341.40 73.60,336.21 73.80,339.73 74.00,340.91 74.20,335.86 74.40,337.78 74.60,341.21 74.80,339.17 75.00,337.86 75.20,338.98 75.40,338.72 75.60,340.68 75.80,340.25 76.00,339.11 76.20,338.50 76.40,339.44 76.60,341.57 76.80,340.05 77.00,340.50 77.20,339.26 77.40,337.49 77.60,338.38 77.80,340.48 78.00,339.62 78.20,338.05 78.40,336.93 78.60,339.60 78.80,338.89 79.00,338.87 79.20,338.89 79.40,339.83 79.60,339.83 79.80,340.85 80.00,340.79 80.20,341.40 80.40,340.57 80.60,338.79 80.80,339.21 81.00,340.05 81.20,338.79 81.40,340.11 81.60,341.03 81.80,337.98 82.00,336.47 82.20,341.05 82.40,339.21 82.60,340.26 82.80,337.09 83.00,341.82 83.20,340.26 83.40,338.91 83.60,338.54 83.80,339.25 84.00,338.79 84.20,338.60 84.40,337.28 84.60,340.96 84.80,338.92 85.00,339.08 85.20,339.09 85.40,335.27 85.60,339.73 85.80,338.38 86.00,338.43 86.20,338.96 86.40,337.33 86.60,340.13 86.80,337.72 87.00,337.38 87.20,337.43 87.40,338.99 87.60,339.88 87.80,337.78 88.00,336.35 88.20,340.31 88.40,336.99 88.60,340.47 88.80,338.51 89.00,337.49 89.20,337.55 89.40,339.24 89.60,339.87 89.80,338.15 90.00,339.90 90.20,341.63 90.40,338.04 90.60,336.55 90.80,336.66 91.00,336.10 91.20,337.22 91.40,337.06 91.60,336.08 91.80,338.92 92.00,334.01 92.20,335.96 92.40,341.09 92.60,339.53 92.80,338.68 93.00,338.54 93.20,340.52 93.40,338.56 93.60,337.80 93.80,335.72 94.00,337.46 94.20,336.39 94.40,336.38 94.60,336.31 94.80,337.29 95.00,336.80 95.20,338.60 95.40,335.14 95.60,336.87 95.80,339.96 96.00,337.08 96.20,338.82 96.40,338.66 96.60,338.88 96.80,337.92 97.00,334.58 97.20,336.24 97.40,336.00 97.60,334.13 97.80,335.74 98.00,334.46 98.20,333.75 98.40,336.60 98.60,336.14 98.80,335.07 99.00,334.60 99.20,334.66 99.40,335.33 99.60,335.24 99.80,335.72 100.00,335.06 100.20,336.26 100.40,336.41 100.60,336.08 100.80,334.43 101.00,334.43 101.20,335.99 101.40,334.94 101.60,335.11 101.80,331.25 102.00,330.86 102.20,335.49 102.40,335.41 102.60,336.99 102.80,335.88 103.00,335.03 103.20,334.64 103.40,332.34 103.60,335.85 103.80,333.47 104.00,335.12 104.20,334.58 104.40,334.62 104.60,335.51 104.80,333.30 105.00,333.39 105.20,332.59 105.40,333.27 105.60,336.37 105.80,333.15 106.00,335.48 106.20,334.86 106.40,334.64 106.60,334.69 106.80,331.80 107.00,333.89 107.20,335.71 107.40,332.10 107.60,333.04 107.80,331.98 108.00,333.47 108.20,331.25 108.40,335.35 108.60,332.21 108.80,330.33 109.00,335.44 109.20,334.10 109.40,333.33 109.60,333.29 109.80,331.85 110.00,331.99 110.20,333.39 110.40,333.63 110.60,334.45 110.80,332.41 111.00,331.29 111.20,331.65 111.40,333.60 111.60,334.05 111.80,331.22 112.00,330.94 112.20,333.55 112.40,332.67 112.60,332.57 112.80,329.39 113.00,330.78 113.20,330.49 113.40,331.54 113.60,328.54 113.80,333.06 114.00,331.49 114.20,331.63 114.40,329.05 114.60,330.78 114.80,332.82 115.00,328.25 115.20,331.09 115.40,331.63 115.60,329.40 115.80,331.67 116.00,329.83 116.20,332.18 116.40,331.02 116.60,330.48 116.80,333.17 117.00,331.28 117.20,331.95 117.40,328.01 117.60,328.78 117.80,331.00 118.00,331.04 118.20,329.48 118.40,330.70 118.60,327.78 118.80,329.68 119.00,327.49 119.20,329.73 119.40,328.37 119.60,328.06 119.80,329.06 120.00,331.72 120.20,327.26 120.40,327.82 120.60,330.33 120.80,327.55 121.00,331.27 121.20,328.79 121.40,328.51 121.60,328.85 121.80,330.91 122.00,329.15 122.20,328.86 122.40,328.37 122.60,325.48 122.80,326.45 123.00,330.04 123.20,328.93 123.40,328.36 123.60,328.48 123.80,326.57 124.00,327.85 124.20,325.85 124.40,327.77 124.60,325.97 124.80,326.66 125.00,327.61 125.20,326.32 125.40,327.74 125.60,327.36 125.80,327.12 126.00,328.53 126.20,324.11 126.40,323.83 126.60,327.17 126.80,327.58 127.00,329.15 127.20,327.12 127.40,327.14 127.60,324.39 127.80,326.84 128.00,326.62 128.20,323.84 128.40,323.99 128.60,325.11 128.80,325.63 129.00,320.51 129.20,325.08 129.40,325.22 129.60,324.47 129.80,325.05 130.00,325.22 130.20,322.83 130.40,324.92 130.60,323.77 130.80,322.57 131.00,324.23 131.20,326.09 131.40,321.39 131.60,320.96 131.80,320.83 132.00,326.33 132.20,322.74 132.40,322.91 132.60,321.65 132.80,321.28 133.00,319.46 133.20,322.73 133.40,322.74 133.60,319.14 133.80,320.45 134.00,320.78 134.20,321.76 134.40,322.04 134.60,323.27 134.80,323.51 135.00,322.92 135.20,323.21 135.40,319.19 135.60,320.01 135.80,322.52 136.00,321.06 136.20,320.52 136.40,317.30 136.60,317.36 136.80,321.25 137.00,320.53 137.20,319.42 137.40,319.12 137.60,316.97 137.80,320.11 138.00,321.03 138.20,321.86 138.40,319.29 138.60,318.79 138.80,317.31 139.00,320.81 139.20,321.46 139.40,317.78 139.60,319.09 139.80,318.69 140.00,317.58 140.20,314.52 140.40,317.74 140.60,319.17 140.80,315.90 141.00,316.76 141.20,312.89 141.40,319.88 141.60,318.59 141.80,317.84 142.00,316.97 142.20,316.57 142.40,317.35 142.60,316.91 142.80,316.92 143.00,317.17 143.20,317.34 143.40,319.46 143.60,314.73 143.80,317.30 144.00,315.84 144.20,314.96 144.40,312.97 144.60,317.50 144.80,314.95 145.00,315.22 145.20,317.03 145.40,313.53 145.60,316.19 145.80,315.95 146.00,317.24 146.20,317.48 146.40,313.68 146.60,317.19 146.80,315.54 147.00,315.81 147.20,315.22 147.40,316.68 147.60,313.53 147.80,315.74 148.00,318.17 148.20,314.76 148.40,318.28 148.60,313.93 148.80,315.34 149.00,314.20 149.20,313.93 149.40,313.10 149.60,313.93 149.80,314.63 150.00,313.42 150.20,315.98 150.40,316.91 150.60,312.14 150.80,315.75 151.00,314.71 151.20,314.75 151.40,318.14 151.60,316.15 151.80,314.77 152.00,314.50 152.20,310.84 152.40,315.36 152.60,312.97 152.80,314.38 153.00,314.23 153.20,315.54 153.40,317.18 153.60,315.54 153.80,315.97 154.00,313.62 154.20,314.68 154.40,315.15 154.60,311.72 154.80,317.11 155.00,312.84 155.20,311.97 155.40,316.48 155.60,317.23 155.80,312.86 156.00,313.00 156.20,318.78 156.40,314.13 156.60,310.88 156.80,313.01 157.00,317.07 157.20,314.99 157.40,315.14 157.60,315.88 157.80,315.04 158.00,313.48 158.20,311.53 158.40,314.71 158.60,312.29 158.80,313.94 159.00,316.77 159.20,314.89 159.40,314.15 159.60,314.17 159.80,315.21 160.00,315.52 160.20,312.06 160.40,314.40 160.60,316.79 160.80,315.31 161.00,312.97 161.20,313.11 161.40,310.99 161.60,312.97 161.80,316.70 162.00,314.12 162.20,312.91 162.40,313.36 162.60,314.10 162.80,314.12 163.00,313.75 163.20,313.13 163.40,315.32 163.60,316.74 163.80,313.49 164.00,313.55 164.20,316.25 164.40,312.15 164.60,313.52 164.80,313.87 165.00,314.73 165.20,314.06 165.40,313.14 165.60,315.02 165.80,312.73 166.00,311.90 166.20,311.49 166.40,315.83 166.60,312.01 166.80,315.44 167.00,315.83 167.20,316.09 167.40,314.61 167.60,314.08 167.80,315.12 168.00,314.12 168.20,313.10 168.40,317.09 168.60,313.82 168.80,318.04 169.00,316.11 169.20,314.67 169.40,316.11 169.60,317.40 169.80,313.41 170.00,314.16 170.20,314.03 170.40,315.97 170.60,316.41 170.80,315.89 171.00,314.78 171.20,315.15 171.40,317.87 171.60,317.82 171.80,316.34 172.00,314.14 172.20,317.16 172.40,316.62 172.60,316.52 172.80,318.72 173.00,317.15 173.20,314.11 173.40,313.72 173.60,316.75 173.80,313.99 174.00,313.62 174.20,309.90 174.40,305.29 174.60,302.66 174.80,299.68 175.00,295.50 175.20,295.94 175.40,302.61 175.60,307.35 175.80,312.11 176.00,316.03 176.20,319.36 176.40,318.04 176.60,318.09 176.80,319.75 177.00,320.39 177.20,320.35 177.40,321.62 177.60,322.12 177.80,320.80 178.00,323.94 178.20,322.98 178.40,322.45 178.60,325.14 178.80,323.66 179.00,327.85 179.20,326.25 179.40,325.96 179.60,324.98 179.80,325.82 180.00,328.04 180.20,325.91 180.40,329.19 180.60,324.22 180.80,328.29 181.00,329.23 181.20,328.73 181.40,328.43 181.60,330.24 181.80,327.58 182.00,327.61 182.20,329.52 182.40,331.44 182.60,330.47 182.80,329.72 183.00,330.70 183.20,331.13 183.40,328.73 183.60,326.51 183.80,329.48 184.00,327.63 184.20,330.57 184.40,329.81 184.60,330.52 184.80,332.73 185.00,332.40 185.20,332.40 185.40,335.20 185.60,332.09 185.80,332.40 186.00,335.13 186.20,331.62 186.40,330.98 186.60,335.71 186.80,334.37 187.00,334.94 187.20,335.16 187.40,335.73 187.60,333.75 187.80,334.51 188.00,333.05 188.20,335.13 188.40,335.42 188.60,334.49 188.80,336.36 189.00,340.04 189.20,333.80 189.40,337.00 189.60,337.29 189.80,337.60 190.00,334.81 190.20,338.02 190.40,337.29 190.60,336.19 190.80,335.96 191.00,336.97 191.20,338.14 191.40,338.16 191.60,340.44 191.80,336.44 192.00,338.05 192.20,336.51 192.40,338.48 192.60,337.56 192.80,336.52 193.00,335.47 193.20,336.42 193.40,338.07 193.60,340.05 193.80,339.05 194.00,336.07 194.20,337.25 194.40,338.12 194.60,337.93 194.80,338.28 195.00,339.44 195.20,338.61 195.40,337.27 195.60,335.41 195.80,337.92 196.00,335.90 196.20,338.30 196.40,339.09 196.60,336.58 196.80,338.48 197.00,338.21 197.20,341.73 197.40,339.54 197.60,335.95 197.80,339.61 198.00,339.62 198.20,338.71 198.40,338.49 198.60,340.05 198.80,340.19 199.00,339.89 199.20,337.72 199.40,338.92 199.60,336.94 199.80,337.08 200.00,338.58 200.20,337.86 200.40,338.89 200.60,343.42 200.80,340.38 201.00,338.29 201.20,336.35 201.40,338.44 201.60,337.55 201.80,336.41 202.00,340.97 202.20,339.14 202.40,340.60 202.60,344.74 202.80,340.41 203.00,340.20 203.20,340.59 203.40,339.66 203.60,338.81 203.80,339.79 204.00,341.90 204.20,339.73 204.40,338.03 204.60,338.23 204.80,338.56 205.00,340.17 205.20,340.89 205.40,340.87 205.60,341.95 205.80,339.76 206.00,341.34 206.20,340.51 206.40,341.05 206.60,337.04 206.80,341.75 207.00,337.33 207.20,337.86 207.40,340.68 207.60,338.72 207.80,341.88 208.00,339.18 208.20,337.09 208.40,338.65 208.60,337.48 208.80,340.18 209.00,339.96 209.20,338.24 209.40,336.16 209.60,336.67 209.80,338.00 210.00,335.09 210.20,335.17 210.40,337.91 210.60,338.01 210.80,336.85 211.00,337.16 211.20,334.93 211.40,340.15 211.60,338.47 211.80,336.75 212.00,337.50 212.20,338.11 212.40,342.36 212.60,340.99 212.80,338.03 213.00,343.14 213.20,342.48 213.40,338.90 213.60,336.54 213.80,343.16 214.00,339.94 214.20,340.76 214.40,340.24 214.60,343.09 214.80,343.52 215.00,342.56 215.20,341.15 215.40,341.90 215.60,342.57 215.80,339.30 216.00,343.81 216.20,341.55 216.40,342.62 216.60,342.60 216.80,343.97 217.00,344.40 217.20,346.36 217.40,342.25 217.60,341.90 217.80,343.70 218.00,342.65 218.20,345.17 218.40,342.75 218.60,344.35 218.80,345.74 219.00,345.98 219.20,344.83 219.40,346.78 219.60,346.65 219.80,342.07 220.00,345.28 220.20,345.00 220.40,344.25 220.60,343.71 220.80,344.74 221.00,345.24 221.20,345.03 221.40,346.67 221.60,346.04 221.80,343.52 222.00,343.19 222.20,345.61 222.40,343.14 222.60,344.59 222.80,344.79 223.00,345.56 223.20,344.67 223.40,346.01 223.60,342.96 223.80,344.61 224.00,342.45 224.20,343.66 224.40,343.46 224.60,341.72 224.80,339.02 225.00,344.43 225.20,343.41 225.40,342.96 225.60,341.56 225.80,342.03 226.00,343.15 226.20,342.39 226.40,344.06 226.60,342.36 226.80,340.82 227.00,342.96 227.20,340.96 227.40,342.21 227.60,339.00 227.80,341.21 228.00,342.56 228.20,340.64 228.40,341.56 228.60,342.46 228.80,341.60 229.00,344.22 229.20,341.00 229.40,341.07 229.60,341.05 229.80,338.19 230.00,338.82 230.20,341.98 230.40,340.59 230.60,343.21 230.80,340.88 231.00,340.69 231.20,342.50 231.40,341.29 231.60,343.30 231.80,339.12 232.00,341.40 232.20,341.72 232.40,341.48 232.60,342.36 232.80,342.13 233.00,340.55 233.20,339.58 233.40,341.92 233.60,340.44 233.80,341.81 234.00,342.38 234.20,340.55 234.40,338.80 234.60,339.76 234.80,341.33 235.00,339.69 235.20,341.84 235.40,340.02 235.60,340.10 235.80,338.86 236.00,339.60 236.20,341.36 236.40,339.04 236.60,338.94 236.80,338.13 237.00,340.41 237.20,336.69 237.40,337.34 237.60,340.10 237.80,340.69 238.00,337.90 238.20,339.47 238.40,334.60 238.60,338.51 238.80,337.41 239.00,334.65 239.20,333.32 239.40,334.79 239.60,335.43 239.80,335.03 240.00,334.06 240.20,334.54 240.40,333.94 240.60,330.33 240.80,331.63 241.00,331.36 241.20,333.84 241.40,331.76 241.60,334.49 241.80,333.73 242.00,337.66 242.20,334.54 242.40,335.22 242.60,335.61 242.80,336.54 243.00,340.57 243.20,336.47 243.40,336.30 243.60,337.71 243.80,339.38 244.00,337.10 244.20,340.12 244.40,340.30 244.60,339.07 244.80,339.13 245.00,338.47 245.20,339.42 245.40,338.75 245.60,342.05 245.80,342.76 246.00,339.91 246.20,340.39 246.40,337.61 246.60,339.82 246.80,341.25 247.00,341.23 247.20,341.07 247.40,342.26 247.60,341.16 247.80,340.49 248.00,343.63 248.20,338.24 248.40,339.49 248.60,340.22 248.80,340.32 249.00,340.34 249.20,341.29 249.40,340.65 249.60,341.77 249.80,342.90 250.00,342.15 250.20,342.45 250.40,340.93 250.60,340.76 250.80,342.22 251.00,344.25 251.20,343.56 251.40,344.82 251.60,344.84 251.80,345.21 252.00,342.40 252.20,345.74 252.40,345.17 252.60,347.39 252.80,345.27 253.00,345.05 253.20,344.53 253.40,345.17 253.60,342.55 253.80,344.90 254.00,345.41 254.20,347.18 254.40,344.82 254.60,346.22 254.80,349.01 255.00,345.55 255.20,347.84 255.40,345.89 255.60,346.73 255.80,347.76 256.00,348.57 256.20,346.60 256.40,345.94 256.60,349.99 256.80,348.09 257.00,349.15 257.20,349.46 257.40,349.35 257.60,347.90 257.80,348.20 258.00,346.12 258.20,348.87 258.40,347.96 258.60,348.72 258.80,351.69 259.00,349.93 259.20,349.00 259.40,346.87 259.60,350.09 259.80,351.32 260.00,347.73 260.20,349.64 260.40,348.19 260.60,348.75 260.80,348.42 261.00,346.51 261.20,348.18 261.40,346.49 261.60,351.07 261.80,350.54 262.00,349.01 262.20,349.63 262.40,349.02 262.60,349.23 262.80,349.22 263.00,348.55 263.20,348.66 263.40,346.85 263.60,347.37 263.80,347.96 264.00,349.20 264.20,348.31 264.40,351.77 264.60,348.57 264.80,348.30 265.00,349.50 265.20,350.40 265.40,351.64 265.60,350.30 265.80,347.91 266.00,348.53 266.20,350.38 266.40,349.17 266.60,349.98 266.80,348.64 267.00,351.17 267.20,350.93 267.40,350.43 267.60,348.94 267.80,346.25 268.00,346.63 268.20,349.16 268.40,349.65 268.60,344.22 268.80,347.90 269.00,350.35 269.20,350.04 269.40,347.82 269.60,349.52 269.80,348.58 270.00,348.19 270.20,350.20 270.40,350.20 270.60,347.66 270.80,347.00 271.00,346.42 271.20,346.22 271.40,350.36 271.60,351.15 271.80,348.60 272.00,349.83 272.20,347.17 272.40,348.06 272.60,349.51 272.80,348.56 273.00,347.98 273.20,345.47 273.40,345.74 273.60,347.26 273.80,347.00 274.00,347.67 274.20,346.76 274.40,347.34 274.60,347.70 274.80,348.32 275.00,347.58 275.20,346.58 275.40,346.92 275.60,348.64 275.80,346.88 276.00,345.66 276.20,345.52 276.40,347.38 276.60,347.72 276.80,348.63 277.00,346.21 277.20,348.67 277.40,345.97 277.60,346.04 277.80,345.43 278.00,346.97 278.20,347.64 278.40,345.90 278.60,345.06 278.80,343.36 279.00,345.77 279.20,344.88 279.40,344.94 279.60,344.14 279.80,343.60 280.00,344.09 280.20,345.23 280.40,345.79 280.60,344.12 280.80,344.39 281.00,343.37 281.20,343.22 281.40,341.07 281.60,344.15 281.80,343.40 282.00,344.35 282.20,340.87 282.40,341.59 282.60,339.57 282.80,340.86 283.00,339.81 283.20,340.47 283.40,338.65 283.60,339.20 283.80,336.80 284.00,337.68 284.20,335.52 284.40,334.43 284.60,334.25 284.80,333.62 285.00,329.81 285.20,328.41 285.40,329.62 285.60,327.79 285.80,323.23 286.00,322.01 286.20,321.55 286.40,321.17 286.60,318.81 286.80,317.63 287.00,315.24 287.20,314.08 287.40,305.00 287.60,303.27 287.80,300.71 288.00,293.16 288.20,290.25 288.40,292.66 288.60,296.69 288.80,301.00 289.00,300.66 289.20,305.34 289.40,310.38 289.60,312.68 289.80,316.60 290.00,318.71 290.20,323.34 290.40,322.62 290.60,324.85 290.80,326.40 291.00,329.54 291.20,327.67 291.40,331.27 291.60,330.77 291.80,330.94 292.00,335.90 292.20,336.39 292.40,338.09 292.60,337.45 292.80,338.53 293.00,338.45 293.20,339.75 293.40,338.86 293.60,342.60 293.80,339.19 294.00,343.57 294.20,341.12 294.40,343.14 294.60,342.40 294.80,343.21 295.00,345.11 295.20,343.38 295.40,342.01 295.60,344.06 295.80,344.93 296.00,340.46 296.20,345.86 296.40,346.24 296.60,342.09 296.80,344.72 297.00,346.36 297.20,343.52 297.40,344.78 297.60,345.04 297.80,346.54 298.00,347.50 298.20,345.88 298.40,346.14 298.60,347.56 298.80,347.07 299.00,346.18 299.20,348.46 299.40,344.37 299.60,346.83 299.80,346.04 300.00,345.98 300.20,347.12 300.40,346.95 300.60,350.70 300.80,348.63 301.00,347.61 301.20,349.65 301.40,348.74 301.60,344.42 301.80,347.49 302.00,348.49 302.20,346.49 302.40,347.91 302.60,346.81 302.80,348.12 303.00,345.12 303.20,344.68 303.40,346.85 303.60,348.07 303.80,349.80 304.00,347.39 304.20,346.71 304.40,349.28 304.60,347.98 304.80,350.71 305.00,347.87 305.20,345.08 305.40,346.86 305.60,346.66 305.80,346.03 306.00,347.00 306.20,347.16 306.40,347.81 306.60,347.44 306.80,348.92 307.00,348.96 307.20,348.63 307.40,348.70 307.60,345.56 307.80,345.92 308.00,347.15 308.20,348.90 308.40,346.32 308.60,347.93 308.80,348.97 309.00,351.63 309.20,349.04 309.40,347.85 309.60,350.35 309.80,349.02 310.00,348.28 310.20,350.44 310.40,347.38 310.60,349.08 310.80,348.94 311.00,350.20 311.20,347.12 311.40,346.91 311.60,348.31 311.80,348.50 312.00,349.00 312.20,348.39 312.40,349.63 312.60,350.05 312.80,349.36 313.00,347.45 313.20,350.81 313.40,346.77 313.60,348.80 313.80,350.48 314.00,348.22 314.20,351.13 314.40,352.10 314.60,351.61 314.80,349.90 315.00,350.75 315.20,348.51 315.40,349.92 315.60,350.03 315.80,349.50 316.00,349.62 316.20,349.09 316.40,346.46 316.60,350.05 316.80,349.95 317.00,352.60 317.20,350.59 317.40,349.64 317.60,350.88 317.80,350.52 318.00,349.58 318.20,349.05 318.40,347.43 318.60,349.85 318.80,352.14 319.00,346.89 319.20,348.29 319.40,350.88 319.60,350.05 319.80,350.41 320.00,346.99 320.20,348.93 320.40,350.59 320.60,350.74 320.80,350.31 321.00,348.55 321.20,350.71 321.40,348.11 321.60,348.51 321.80,348.18 322.00,352.12 322.20,349.34 322.40,350.06 322.60,346.68 322.80,351.65 323.00,350.71 323.20,347.53 323.40,347.61 323.60,352.53 323.80,348.62 324.00,352.81 324.20,349.34 324.40,346.32 324.60,351.72 324.80,350.81 325.00,351.08 325.20,349.29 325.40,349.73 325.60,351.49 325.80,348.81 326.00,347.08 326.20,351.40 326.40,349.09 326.60,351.93 326.80,349.27 327.00,349.34 327.20,349.59 327.40,346.41 327.60,351.69 327.80,348.96 328.00,349.59 328.20,352.05 328.40,350.00 328.60,351.13 328.80,350.25 329.00,350.87 329.20,350.08 329.40,351.35 329.60,349.25 329.80,350.20 330.00,348.39 330.20,351.16 330.40,346.04 330.60,349.51 330.80,349.68 331.00,349.56 331.20,348.94 331.40,350.85 331.60,351.89 331.80,347.16 332.00,345.60 332.20,346.68 332.40,346.92 332.60,347.75 332.80,347.68 333.00,349.15 333.20,346.66 333.40,346.98 333.60,346.92 333.80,345.13 334.00,345.62 334.20,349.84 334.40,345.18 334.60,342.57 334.80,341.16 335.00,345.46 335.20,342.90 335.40,341.90 335.60,345.94 335.80,343.89 336.00,338.69 336.20,340.26 336.40,341.87 336.60,341.33 336.80,338.24 337.00,342.47 337.20,342.65 337.40,338.44 337.60,336.17 337.80,338.72 338.00,342.24 338.20,343.37 338.40,342.58 338.60,341.97 338.80,343.26 339.00,344.76 339.20,342.62 339.40,342.38 339.60,345.21 339.80,347.57 340.00,346.40 340.20,346.75 340.40,345.78 340.60,348.43 340.80,344.80 341.00,347.47 341.20,346.91 341.40,347.76 341.60,346.80 341.80,349.45 342.00,348.38 342.20,347.75 342.40,349.52 342.60,348.81 342.80,348.22 343.00,348.22 343.20,350.34 343.40,347.89 343.60,349.03 343.80,349.03 344.00,349.96 344.20,349.28 344.40,352.81 344.60,347.10 344.80,350.61 345.00,349.73 345.20,351.46 345.40,347.48 345.60,351.72 345.80,347.93 346.00,351.04 346.20,350.82 346.40,350.16 346.60,349.08 346.80,349.01 347.00,350.40 347.20,349.21 347.40,347.49 347.60,347.75 347.80,351.64 348.00,351.73 348.20,351.33 348.40,350.70 348.60,351.25 348.80,351.47 349.00,351.18 349.20,348.98 349.40,349.85 349.60,349.29 349.80,351.27 350.00,349.65 350.20,350.93 350.40,353.15 350.60,350.74 350.80,352.77 351.00,353.70 351.20,348.80 351.40,349.44 351.60,352.30 351.80,350.63 352.00,352.52 352.20,352.83 352.40,351.11 352.60,353.14 352.80,354.54 353.00,353.45 353.20,350.84 353.40,351.97 353.60,351.46 353.80,354.60 354.00,352.09 354.20,351.43 354.40,352.57 354.60,353.31 354.80,352.08 355.00,352.84 355.20,352.75 355.40,353.88 355.60,354.28 355.80,353.32 356.00,352.30 356.20,353.62 356.40,351.79 356.60,354.70 356.80,353.70 357.00,353.60 357.20,349.77 357.40,356.79 357.60,356.79 357.80,355.28 358.00,353.66 358.20,354.50 358.40,357.72 358.60,352.61 358.80,354.73 359.00,354.56 359.20,353.92 359.40,354.27 359.60,352.36 359.80,354.75 360.00,351.94 360.20,356.53 360.40,355.05 360.60,352.69 360.80,350.91 361.00,354.12 361.20,354.73 361.40,352.57 361.60,356.46 361.80,354.45 362.00,353.41 362.20,352.08 362.40,353.95 362.60,353.86 362.80,355.10 363.00,355.70 363.20,354.25 363.40,354.88 363.60,356.29 363.80,355.14 364.00,353.90 364.20,355.18 364.40,353.55 364.60,354.97 364.80,354.40 365.00,352.76 365.20,355.23 365.40,354.49 365.60,355.44 365.80,352.49 366.00,356.01 366.20,356.08 366.40,353.93 366.60,354.30 366.80,354.53 367.00,354.44 367.20,355.68 367.40,353.46 367.60,352.84 367.80,354.15 368.00,357.24 368.20,353.96 368.40,353.09 368.60,353.21 368.80,354.78 369.00,356.23 369.20,353.49 369.40,354.80 369.60,354.87 369.80,355.24 370.00,354.78 370.20,356.09 370.40,355.57 370.60,353.71 370.80,358.08 371.00,352.66 371.20,352.73 371.40,356.10 371.60,354.89 371.80,354.09 372.00,354.92 372.20,355.62 372.40,354.04 372.60,353.74 372.80,353.15 373.00,353.42 373.20,353.50 373.40,356.28 373.60,355.04 373.80,355.42 374.00,353.84 374.20,356.13 374.40,352.41 374.60,355.30 374.80,355.61 375.00,353.78 375.20,353.14 375.40,355.33 375.60,353.56 375.80,353.27 376.00,354.49 376.20,352.90 376.40,354.27 376.60,357.31 376.80,353.76 377.00,355.62 377.20,352.77 377.40,354.32 377.60,353.73 377.80,353.77 378.00,354.97 378.20,356.80 378.40,353.40 378.60,355.24 378.80,353.67 379.00,353.97 379.20,352.01 379.40,351.43 379.60,351.94 379.80,350.99 380.00,352.03 380.20,350.60 380.40,352.26 380.60,352.72 380.80,355.30 381.00,355.44 381.20,353.97 381.40,352.78 381.60,354.55 381.80,355.03 382.00,353.75 382.20,352.97 382.40,351.75 382.60,354.33 382.80,357.18 383.00,354.25 383.20,355.16 383.40,355.19 383.60,355.41 383.80,355.86 384.00,351.98 384.20,354.63 384.40,355.41 384.60,354.79 384.80,356.65 385.00,354.44 385.20,356.29 385.40,357.50 385.60,354.68 385.80,355.10 386.00,354.67 386.20,356.18 386.40,352.10 386.60,353.07 386.80,354.73 387.00,356.39 387.20,356.54 387.40,354.04 387.60,357.46 387.80,355.37 388.00,354.35 388.20,355.99 388.40,357.09 388.60,355.17 388.80,353.14 389.00,354.51 389.20,355.43 389.40,356.63 389.60,353.91 389.80,355.69 390.00,353.67 390.20,355.45 390.40,353.49 390.60,354.71 390.80,353.24 391.00,354.01 391.20,353.16 391.40,352.64 391.60,357.12 391.80,357.06 392.00,356.09 392.20,354.93 392.40,357.49 392.60,355.05 392.80,356.05 393.00,357.05 393.20,355.78 393.40,357.54 393.60,355.29 393.80,355.28 394.00,355.69 394.20,353.90 394.40,354.02 394.60,356.61 394.80,353.13 395.00,357.12 395.20,355.93 395.40,357.21 395.60,356.63 395.80,356.41 396.00,358.01 396.20,355.48 396.40,355.45 396.60,357.17 396.80,354.69 397.00,357.19 397.20,356.58 397.40,354.93 397.60,353.86 397.80,352.82 398.00,358.24 398.20,353.57 398.40,353.97 398.60,356.85 398.80,356.31 399.00,355.95 399.20,355.78 399.40,355.08 399.60,354.39 399.80,354.65 400.00,356.50 400.20,357.17 400.40,357.32 400.60,355.64 400.80,352.58 401.00,356.40 401.20,355.49 401.40,351.99 401.60,357.63 401.80,356.02 402.00,355.65 402.20,356.00 402.40,355.90 402.60,356.07 402.80,355.91 403.00,355.79 403.20,356.55 403.40,356.25 403.60,359.11 403.80,355.98 404.00,355.09 404.20,354.98 404.40,356.34 404.60,355.99 404.80,356.17 405.00,355.56 405.20,355.59 405.40,356.89 405.60,357.73 405.80,356.33 406.00,355.72 406.20,354.27 406.40,354.27 406.60,355.93 406.80,355.53 407.00,355.74 407.20,354.35 407.40,355.70 407.60,353.20 407.80,354.23 408.00,354.79 408.20,356.68 408.40,355.04 408.60,354.58 408.80,356.25 409.00,355.74 409.20,357.14 409.40,356.32 409.60,356.17 409.80,355.62 410.00,356.78 410.20,354.88 410.40,353.79 410.60,357.12 410.80,355.23 411.00,355.95 411.20,356.74 411.40,357.28 411.60,351.92 411.80,354.46 412.00,357.58 412.20,353.57 412.40,356.55 412.60,355.41 412.80,354.69 413.00,355.73 413.20,353.61 413.40,356.47 413.60,357.53 413.80,353.98 414.00,355.01 414.20,357.57 414.40,356.44 414.60,355.50 414.80,357.90 415.00,353.66 415.20,355.57 415.40,356.15 415.60,355.52 415.80,357.04 416.00,352.31 416.20,356.03 416.40,354.89 416.60,357.60 416.80,357.39 417.00,354.96 417.20,354.48 417.40,355.92 417.60,354.81 417.80,355.21 418.00,356.57 418.20,355.37 418.40,358.46 418.60,356.09 418.80,355.29 419.00,354.49 419.20,355.30 419.40,357.51 419.60,356.76 419.80,357.95 420.00,357.80 420.20,356.78 420.40,355.08 420.60,355.82 420.80,356.12 421.00,353.80 421.20,356.49 421.40,354.64 421.60,355.93 421.80,355.35 422.00,356.84 422.20,359.62 422.40,354.45 422.60,356.04 422.80,358.83 423.00,354.82 423.20,355.77 423.40,355.94 423.60,356.51 423.80,353.91 424.00,356.51 424.20,356.92 424.40,359.54 424.60,356.01 424.80,355.34 425.00,356.30 425.20,352.61 425.40,356.59 425.60,358.24 425.80,356.10 426.00,356.10 426.20,355.83 426.40,356.35 426.60,354.49 426.80,358.25 427.00,355.56 427.20,355.58 427.40,358.42 427.60,356.23 427.80,355.65 428.00,358.44 428.20,356.47 428.40,357.50 428.60,355.48 428.80,353.88 429.00,356.49 429.20,358.19 429.40,355.66 429.60,356.77 429.80,357.26 430.00,356.65 430.20,356.40 430.40,357.35 430.60,356.61 430.80,355.62 431.00,357.77 431.20,357.44 431.40,356.88 431.60,357.36 431.80,352.88 432.00,356.79 432.20,356.50 432.40,353.80 432.60,359.25 432.80,356.97 433.00,355.93 433.20,356.03 433.40,356.91 433.60,356.55 433.80,354.44 434.00,356.08 434.20,357.23 434.40,357.47 434.60,357.83 434.80,355.28 435.00,355.87 435.20,357.23 435.40,355.95 435.60,357.06 435.80,355.69 436.00,357.60 436.20,356.92 436.40,357.63 436.60,356.93 436.80,355.85 437.00,355.29 437.20,356.99 437.40,356.14 437.60,354.99 437.80,356.25 438.00,358.04 438.20,358.65 438.40,358.03 438.60,358.83 438.80,356.55 439.00,356.85 439.20,355.80 439.40,356.04 439.60,359.20 439.80,357.65 440.00,357.93 440.20,360.53 440.40,359.62 440.60,355.93 440.80,358.36 441.00,356.06 441.20,358.36 441.40,354.56 441.60,355.80 441.80,355.82 442.00,359.66 442.20,354.66 442.40,358.45 442.60,358.39 442.80,357.11 443.00,358.04 443.20,360.33 443.40,357.24 443.60,356.52 443.80,358.65 444.00,357.87 444.20,355.30 444.40,357.04 444.60,357.14 444.80,355.24 445.00,355.46 445.20,355.82 445.40,355.08 445.60,357.32 445.80,357.01 446.00,353.65 446.20,356.00 446.40,356.73 446.60,354.71 446.80,356.10 447.00,356.82 447.20,354.16 447.40,355.97 447.60,353.22 447.80,357.30 448.00,355.31 448.20,354.33 448.40,353.78 448.60,354.01 448.80,357.83 449.00,355.00 449.20,355.33 449.40,355.53 449.60,354.04 449.80,356.99 450.00,350.71 450.20,357.11 450.40,354.91 450.60,355.93 450.80,356.24 451.00,356.93 451.20,354.17 451.40,356.58 451.60,355.69 451.80,355.53 452.00,355.35 452.20,357.16 452.40,356.30 452.60,357.33 452.80,356.85 453.00,353.03 453.20,355.48 453.40,356.93 453.60,354.41 453.80,353.38 454.00,352.57 454.20,358.17 454.40,354.35 454.60,355.78 454.80,354.14 455.00,356.11 455.20,357.72 455.40,353.66 455.60,355.48 455.80,354.57 456.00,353.12 456.20,354.43 456.40,355.65 456.60,357.25 456.80,357.33 457.00,355.66 457.20,353.54 457.40,356.60 457.60,355.76 457.80,355.77 458.00,354.33 458.20,355.66 458.40,358.47 458.60,357.89 458.80,357.65 459.00,356.89 459.20,355.54 459.40,356.11 459.60,356.35 459.80,356.71 460.00,355.79 460.20,355.16 460.40,357.80 460.60,355.90 460.80,357.54 461.00,356.26 461.20,357.42 461.40,357.26 461.60,357.61 461.80,357.59 462.00,355.52 462.20,355.04 462.40,356.80 462.60,359.06 462.80,355.88 463.00,355.81 463.20,360.03 463.40,355.11 463.60,356.43 463.80,356.70 464.00,356.40 464.20,355.99 464.40,358.77 464.60,357.69 464.80,357.71 465.00,355.38 465.20,358.60 465.40,357.83 465.60,357.86 465.80,358.77 466.00,358.15 466.20,357.75 466.40,358.37 466.60,356.96 466.80,356.74 467.00,356.20 467.20,359.22 467.40,357.17 467.60,358.27 467.80,360.36 468.00,360.42 468.20,357.66 468.40,358.36 468.60,358.29 468.80,356.51 469.00,357.59 469.20,361.80 469.40,358.14 469.60,360.50 469.80,359.22 470.00,360.49 470.20,359.94 470.40,358.54 470.60,356.66 470.80,360.08 471.00,359.15 471.20,358.87 471.40,359.36 471.60,357.24 471.80,358.42 472.00,358.25 472.20,356.36 472.40,356.72 472.60,358.10 472.80,355.43 473.00,359.19 473.20,359.24 473.40,358.16 473.60,358.61 473.80,355.94 474.00,358.47 474.20,359.21 474.40,358.90 474.60,359.42 474.80,358.17 475.00,360.78 475.20,358.80 475.40,359.26 475.60,359.62 475.80,357.28 476.00,356.83 476.20,359.24 476.40,356.66 476.60,357.49 476.80,359.50 477.00,356.03 477.20,357.01 477.40,356.68 477.60,356.93 477.80,360.61 478.00,358.94 478.20,359.46 478.40,355.79 478.60,355.20 478.80,356.79 479.00,359.56 479.20,359.71 479.40,355.74 479.60,356.02 479.80,359.05 480.00,358.54 480.20,358.77 480.40,359.05 480.60,356.94 480.80,358.36 481.00,357.85 481.20,359.75 481.40,357.56 481.60,355.82 481.80,359.78 482.00,360.45 482.20,359.40 482.40,357.76 482.60,356.98 482.80,359.43 483.00,357.50 483.20,358.81 483.40,359.13 483.60,357.98 483.80,355.64 484.00,358.76 484.20,356.88 484.40,356.17 484.60,358.00 484.80,358.28 485.00,357.98 485.20,358.88 485.40,355.70 485.60,358.80 485.80,360.10 486.00,357.96 486.20,357.42 486.40,357.82 486.60,359.55 486.80,357.78 487.00,357.02 487.20,355.88 487.40,359.73 487.60,359.74 487.80,357.96 488.00,360.51 488.20,357.43 488.40,358.80 488.60,356.25 488.80,356.61 489.00,357.83 489.20,358.41 489.40,358.56 489.60,356.65 489.80,357.08 490.00,357.56 490.20,357.32 490.40,357.31 490.60,358.60 490.80,358.98 491.00,355.21 491.20,359.07 491.40,357.61 491.60,357.74 491.80,357.68 492.00,358.34 492.20,357.97 492.40,355.14 492.60,358.00 492.80,355.44 493.00,357.19 493.20,356.85 493.40,354.56 493.60,356.32 493.80,355.82 494.00,355.12 494.20,358.24 494.40,355.72 494.60,354.83 494.80,357.17 495.00,354.72 495.20,354.30 495.40,351.70 495.60,354.58 495.80,354.76 496.00,355.58 496.20,351.74 496.40,354.02 496.60,354.28 496.80,353.34 497.00,352.42 497.20,350.44 497.40,352.80 497.60,352.07 497.80,350.86 498.00,353.98 498.20,353.40 498.40,353.57 498.60,356.57 498.80,353.82 499.00,352.24 499.20,352.34 499.40,355.94 499.60,355.28 499.80,354.84 500.00,353.39 500.20,355.14 500.40,354.95 500.60,356.33 500.80,355.56 501.00,355.67 501.20,356.79 501.40,355.99 501.60,357.44 501.80,353.00 502.00,355.71 502.20,359.61 502.40,357.60 502.60,356.10 502.80,357.24 503.00,356.82 503.20,357.12 503.40,359.34 503.60,357.15 503.80,357.95 504.00,356.71 504.20,356.87 504.40,355.93 504.60,357.04 504.80,357.36 505.00,357.51 505.20,357.97 505.40,358.04 505.60,358.74 505.80,357.71 506.00,359.57 506.20,358.74 506.40,359.69 506.60,357.98 506.80,359.52 507.00,358.19 507.20,356.11 507.40,358.08 507.60,357.91 507.80,356.39 508.00,356.97 508.20,357.43 508.40,360.89 508.60,358.55 508.80,360.36 509.00,359.31 509.20,359.50 509.40,359.19 509.60,356.46 509.80,359.73 510.00,356.33 510.20,358.78 510.40,358.15 510.60,360.20 510.80,359.71 511.00,360.47 511.20,358.88 511.40,358.32 511.60,359.23 511.80,361.16 512.00,358.95 512.20,358.39 512.40,356.90 512.60,356.94 512.80,358.26 513.00,359.16 513.20,359.11 513.40,358.26 513.60,358.54 513.80,360.20 514.00,360.57 514.20,359.81 514.40,360.21 514.60,359.88 514.80,360.56 515.00,356.95 515.20,357.83 515.40,358.88 515.60,358.90 515.80,360.02 516.00,356.30 516.20,358.63 516.40,358.77 516.60,357.68 516.80,358.31 517.00,359.65 517.20,359.03 517.40,358.34 517.60,358.74 517.80,358.36 518.00,359.60 518.20,358.39 518.40,359.66 518.60,357.87 518.80,358.49 519.00,357.23 519.20,358.30 519.40,359.52 519.60,357.37 519.80,358.14 520.00,358.68 520.20,358.15 520.40,359.54 520.60,357.13 520.80,359.57 521.00,360.12 521.20,360.51 521.40,358.52 521.60,357.67 521.80,356.77 522.00,359.40 522.20,359.56 522.40,358.95 522.60,359.02 522.80,359.41 523.00,358.21 523.20,356.93 523.40,356.99 523.60,357.73 523.80,357.59 524.00,356.82 524.20,358.16 524.40,357.46 524.60,359.43 524.80,358.59 525.00,359.59 525.20,357.15 525.40,357.42 525.60,356.85 525.80,359.02 526.00,362.29 526.20,358.96 526.40,358.21 526.60,358.96 526.80,358.68 527.00,359.83 527.20,358.72 527.40,357.72 527.60,356.55 527.80,359.15 528.00,359.90 528.20,358.92 528.40,357.74 528.60,358.26 528.80,358.39 529.00,359.43 529.20,358.70 529.40,360.12 529.60,358.55 529.80,358.05 530.00,360.91 530.20,357.65 530.40,357.90 530.60,362.63 530.80,359.13 531.00,360.85 531.20,355.96 531.40,360.26 531.60,358.83 531.80,358.95 532.00,359.75 532.20,355.70 532.40,357.82 532.60,359.36 532.80,362.53 533.00,358.00 533.20,361.55 533.40,359.59 533.60,360.04 533.80,357.78 534.00,359.58 534.20,357.91 534.40,357.51 534.60,360.35 534.80,357.64 535.00,358.33 535.20,359.70 535.40,357.99 535.60,357.48 535.80,359.18 536.00,359.23 536.20,360.65 536.40,357.66 536.60,359.75 536.80,359.75 537.00,358.45 537.20,358.76 537.40,358.98 537.60,357.79 537.80,357.47 538.00,359.77 538.20,357.77 538.40,357.87" fill="none" stroke="#ff0000" stroke-width="1.15" stroke-linejoin="round"/>
<polyline points="28.40,274.08 28.60,276.16 28.80,270.15 29.00,274.91 29.20,277.63 29.40,279.03 29.60,278.75 29.80,280.92 30.00,279.79 30.20,280.98 30.40,281.14 30.60,278.84 30.80,280.95 31.00,283.60 31.20,282.74 31.40,286.37 31.60,287.06 31.80,288.53 32.00,286.25 32.20,289.13 32.40,286.08 32.60,286.81 32.80,288.82 33.00,289.68 33.20,287.19 33.40,287.46 33.60,291.26 33.80,289.73 34.00,293.42 34.20,292.48 34.40,292.69 34.60,292.87 34.80,295.16 35.00,292.95 35.20,295.24 35.40,292.97 35.60,293.75 35.80,293.31 36.00,295.64 36.20,295.02 36.40,293.85 36.60,298.69 36.80,295.16 37.00,295.80 37.20,296.86 37.40,299.26 37.60,296.46 37.80,298.04 38.00,297.29 38.20,295.00 38.40,298.81 38.60,299.37 38.80,297.55 39.00,298.10 39.20,295.90 39.40,296.05 39.60,298.03 39.80,299.83 40.00,298.24 40.20,299.62 40.40,300.86 40.60,299.62 40.80,300.54 41.00,302.08 41.20,297.92 41.40,301.25 41.60,297.19 41.80,301.03 42.00,300.80 42.20,299.74 42.40,299.02 42.60,300.77 42.80,300.34 43.00,301.28 43.20,299.79 43.40,302.23 43.60,299.81 43.80,301.09 44.00,301.06 44.20,303.82 44.40,299.50 44.60,300.93 44.80,303.98 45.00,301.12 45.20,300.28 45.40,302.80 45.60,301.97 45.80,303.85 46.00,301.12 46.20,302.97 46.40,303.80 46.60,304.47 46.80,301.11 47.00,305.23 47.20,301.59 47.40,300.68 47.60,301.64 47.80,303.49 48.00,302.80 48.20,304.08 48.40,304.24 48.60,304.03 48.80,303.18 49.00,306.56 49.20,300.17 49.40,301.01 49.60,303.04 49.80,301.91 50.00,299.89 50.20,302.77 50.40,302.91 50.60,300.25 50.80,305.60 51.00,306.36 51.20,306.32 51.40,303.59 51.60,304.69 51.80,302.72 52.00,304.90 52.20,303.54 52.40,305.33 52.60,304.18 52.80,307.42 53.00,306.15 53.20,306.85 53.40,302.35 53.60,302.05 53.80,305.66 54.00,304.13 54.20,305.73 54.40,305.61 54.60,305.46 54.80,306.68 55.00,306.13 55.20,306.03 55.40,303.88 55.60,308.10 55.80,305.57 56.00,307.17 56.20,305.95 56.40,307.48 56.60,305.72 56.80,305.84 57.00,305.74 57.20,304.40 57.40,304.63 57.60,305.33 57.80,305.39 58.00,304.01 58.20,309.37 58.40,304.04 58.60,305.13 58.80,309.54 59.00,304.58 59.20,306.87 59.40,306.71 59.60,305.33 59.80,303.39 60.00,303.20 60.20,305.68 60.40,306.37 60.60,302.26 60.80,305.96 61.00,304.68 61.20,307.16 61.40,306.02 61.60,304.47 61.80,305.08 62.00,305.84 62.20,307.93 62.40,310.66 62.60,306.37 62.80,306.00 63.00,306.94 63.20,305.88 63.40,306.95 63.60,306.57 63.80,305.97 64.00,304.70 64.20,306.24 64.40,307.44 64.60,306.12 64.80,308.43 65.00,307.52 65.20,305.82 65.40,308.81 65.60,304.24 65.80,307.92 66.00,309.02 66.20,305.66 66.40,305.91 66.60,307.58 66.80,308.37 67.00,306.80 67.20,306.49 67.40,307.58 67.60,306.53 67.80,304.19 68.00,305.83 68.20,306.11 68.40,303.74 68.60,306.78 68.80,304.95 69.00,307.33 69.20,303.76 69.40,304.69 69.60,303.82 69.80,308.21 70.00,308.19 70.20,308.51 70.40,308.52 70.60,307.61 70.80,307.59 71.00,303.45 71.20,306.69 71.40,305.37 71.60,305.66 71.80,304.21 72.00,308.27 72.20,306.43 72.40,303.80 72.60,306.99 72.80,306.03 73.00,304.47 73.20,305.64 73.40,304.86 73.60,302.41 73.80,303.62 74.00,306.85 74.20,306.92 74.40,306.43 74.60,304.09 74.80,305.00 75.00,306.05 75.20,307.04 75.40,304.58 75.60,304.22 75.80,307.73 76.00,306.00 76.20,305.27 76.40,303.97 76.60,304.80 76.80,308.38 77.00,307.38 77.20,305.14 77.40,303.79 77.60,308.46 77.80,308.28 78.00,307.67 78.20,307.88 78.40,302.69 78.60,303.63 78.80,306.58 79.00,305.20 79.20,306.04 79.40,304.77 79.60,304.54 79.80,306.45 80.00,304.52 80.20,305.52 80.40,305.91 80.60,305.85 80.80,307.31 81.00,307.62 81.20,303.22 81.40,304.95 81.60,304.32 81.80,306.54 82.00,303.59 82.20,306.52 82.40,306.37 82.60,306.15 82.80,303.64 83.00,304.83 83.20,303.42 83.40,305.75 83.60,306.62 83.80,302.63 84.00,303.71 84.20,304.75 84.40,304.13 84.60,307.34 84.80,304.69 85.00,305.30 85.20,303.09 85.40,307.31 85.60,305.08 85.80,306.02 86.00,304.90 86.20,301.34 86.40,302.14 86.60,302.61 86.80,305.85 87.00,303.80 87.20,305.27 87.40,305.02 87.60,304.93 87.80,305.98 88.00,304.77 88.20,301.82 88.40,303.34 88.60,307.05 88.80,302.65 89.00,306.51 89.20,306.95 89.40,303.32 89.60,304.79 89.80,301.96 90.00,305.41 90.20,302.89 90.40,302.00 90.60,303.44 90.80,303.30 91.00,303.06 91.20,304.27 91.40,303.65 91.60,302.82 91.80,305.36 92.00,307.67 92.20,303.86 92.40,302.59 92.60,302.09 92.80,304.58 93.00,303.18 93.20,303.57 93.40,300.32 93.60,301.65 93.80,301.56 94.00,304.89 94.20,302.90 94.40,299.31 94.60,304.01 94.80,305.01 95.00,305.24 95.20,298.62 95.40,303.31 95.60,304.31 95.80,303.94 96.00,302.55 96.20,299.99 96.40,302.14 96.60,302.27 96.80,303.65 97.00,303.71 97.20,302.25 97.40,304.76 97.60,300.86 97.80,301.41 98.00,302.40 98.20,303.32 98.40,301.84 98.60,304.28 98.80,302.92 99.00,300.70 99.20,302.30 99.40,300.70 99.60,300.53 99.80,299.74 100.00,304.22 100.20,303.39 100.40,299.32 100.60,303.62 100.80,303.33 101.00,301.16 101.20,302.51 101.40,305.24 101.60,302.06 101.80,302.23 102.00,303.31 102.20,299.81 102.40,299.39 102.60,299.11 102.80,301.20 103.00,302.67 103.20,299.85 103.40,298.99 103.60,301.48 103.80,300.53 104.00,302.05 104.20,300.83 104.40,300.71 104.60,300.82 104.80,300.97 105.00,299.32 105.20,299.02 105.40,303.31 105.60,305.67 105.80,302.47 106.00,298.02 106.20,300.63 106.40,302.44 106.60,297.90 106.80,299.66 107.00,299.74 107.20,298.88 107.40,298.96 107.60,301.87 107.80,299.48 108.00,299.79 108.20,302.85 108.40,298.69 108.60,296.94 108.80,300.99 109.00,303.12 109.20,300.19 109.40,300.29 109.60,297.68 109.80,298.19 110.00,301.98 110.20,301.60 110.40,300.47 110.60,298.45 110.80,297.51 111.00,297.68 111.20,297.42 111.40,300.22 111.60,297.92 111.80,298.32 112.00,300.17 112.20,300.07 112.40,299.01 112.60,299.64 112.80,298.82 113.00,295.65 113.20,298.56 113.40,297.94 113.60,297.99 113.80,298.89 114.00,297.53 114.20,300.34 114.40,298.05 114.60,298.53 114.80,299.05 115.00,297.70 115.20,299.11 115.40,299.23 115.60,298.97 115.80,296.75 116.00,295.49 116.20,296.78 116.40,297.69 116.60,294.61 116.80,296.19 117.00,295.63 117.20,296.32 117.40,295.86 117.60,298.58 117.80,297.92 118.00,298.67 118.20,295.48 118.40,295.75 118.60,296.45 118.80,299.52 119.00,299.49 119.20,295.74 119.40,297.67 119.60,300.03 119.80,294.87 120.00,296.15 120.20,298.46 120.40,297.47 120.60,294.64 120.80,298.59 121.00,297.65 121.20,297.11 121.40,293.93 121.60,295.57 121.80,297.86 122.00,296.45 122.20,296.85 122.40,295.05 122.60,297.81 122.80,294.91 123.00,296.69 123.20,295.63 123.40,293.47 123.60,297.30 123.80,292.80 124.00,293.54 124.20,294.85 124.40,292.27 124.60,291.53 124.80,294.13 125.00,293.53 125.20,293.66 125.40,294.80 125.60,297.51 125.80,293.12 126.00,297.60 126.20,293.95 126.40,293.30 126.60,289.02 126.80,290.78 127.00,293.54 127.20,293.89 127.40,291.55 127.60,293.26 127.80,294.10 128.00,291.64 128.20,289.83 128.40,290.74 128.60,291.71 128.80,292.54 129.00,293.21 129.20,290.37 129.40,291.80 129.60,291.22 129.80,291.57 130.00,293.17 130.20,293.37 130.40,290.42 130.60,290.10 130.80,289.85 131.00,290.00 131.20,290.07 131.40,290.35 131.60,289.71 131.80,288.69 132.00,288.42 132.20,290.28 132.40,293.98 132.60,290.86 132.80,290.90 133.00,290.31 133.20,289.39 133.40,292.74 133.60,288.93 133.80,287.77 134.00,287.24 134.20,289.56 134.40,287.42 134.60,287.51 134.80,287.42 135.00,286.60 135.20,288.88 135.40,285.82 135.60,292.06 135.80,283.89 136.00,285.98 136.20,288.22 136.40,288.69 136.60,287.37 136.80,288.28 137.00,288.01 137.20,287.84 137.40,288.48 137.60,287.84 137.80,287.09 138.00,287.03 138.20,288.58 138.40,286.77 138.60,287.89 138.80,289.41 139.00,287.40 139.20,288.62 139.40,285.90 139.60,286.93 139.80,287.21 140.00,286.67 140.20,286.97 140.40,288.35 140.60,285.50 140.80,284.83 141.00,286.33 141.20,283.37 141.40,285.58 141.60,287.41 141.80,285.39 142.00,286.18 142.20,285.82 142.40,287.04 142.60,285.82 142.80,285.24 143.00,279.49 143.20,283.88 143.40,285.75 143.60,284.29 143.80,283.22 144.00,285.76 144.20,282.80 144.40,283.56 144.60,285.10 144.80,283.08 145.00,284.08 145.20,283.67 145.40,281.68 145.60,282.65 145.80,282.81 146.00,282.25 146.20,284.94 146.40,283.05 146.60,281.96 146.80,280.66 147.00,282.27 147.20,284.78 147.40,282.10 147.60,283.70 147.80,283.11 148.00,281.46 148.20,280.67 148.40,282.96 148.60,279.31 148.80,282.82 149.00,279.91 149.20,283.09 149.40,281.00 149.60,281.39 149.80,283.12 150.00,279.75 150.20,281.34 150.40,280.65 150.60,281.87 150.80,282.10 151.00,281.31 151.20,281.07 151.40,279.98 151.60,281.49 151.80,280.03 152.00,280.50 152.20,280.48 152.40,277.89 152.60,278.14 152.80,280.18 153.00,279.68 153.20,281.60 153.40,275.59 153.60,279.70 153.80,280.98 154.00,279.27 154.20,280.26 154.40,278.93 154.60,278.69 154.80,280.11 155.00,276.49 155.20,274.87 155.40,279.09 155.60,278.42 155.80,278.30 156.00,278.47 156.20,278.91 156.40,277.07 156.60,278.47 156.80,278.12 157.00,275.71 157.20,277.21 157.40,277.80 157.60,276.03 157.80,278.87 158.00,276.66 158.20,278.35 158.40,279.32 158.60,274.60 158.80,274.78 159.00,277.78 159.20,276.50 159.40,277.58 159.60,279.48 159.80,275.93 160.00,278.05 160.20,276.25 160.40,275.62 160.60,277.38 160.80,277.01 161.00,278.30 161.20,277.06 161.40,277.94 161.60,277.37 161.80,273.80 162.00,275.92 162.20,275.97 162.40,277.89 162.60,274.78 162.80,276.74 163.00,275.77 163.20,273.52 163.40,276.02 163.60,277.41 163.80,275.80 164.00,277.85 164.20,276.98 164.40,276.85 164.60,275.53 164.80,276.08 165.00,277.08 165.20,276.38 165.40,274.39 165.60,276.11 165.80,277.06 166.00,278.27 166.20,277.88 166.40,275.05 166.60,277.80 166.80,274.21 167.00,275.84 167.20,275.67 167.40,279.51 167.60,278.28 167.80,277.78 168.00,276.43 168.20,279.51 168.40,277.26 168.60,278.52 168.80,279.65 169.00,277.24 169.20,278.97 169.40,275.06 169.60,279.24 169.80,275.70 170.00,279.55 170.20,279.03 170.40,279.41 170.60,282.40 170.80,274.79 171.00,280.00 171.20,278.23 171.40,280.10 171.60,279.41 171.80,279.08 172.00,278.09 172.20,277.71 172.40,279.32 172.60,276.20 172.80,280.11 173.00,277.15 173.20,278.35 173.40,275.07 173.60,276.74 173.80,274.23 174.00,273.79 174.20,271.65 174.40,265.19 174.60,262.75 174.80,261.58 175.00,265.45 175.20,265.06 175.40,272.23 175.60,274.62 175.80,275.24 176.00,278.17 176.20,279.26 176.40,283.11 176.60,280.62 176.80,284.38 177.00,282.52 177.20,284.76 177.40,281.30 177.60,283.11 177.80,284.86 178.00,283.37 178.20,282.56 178.40,285.28 178.60,286.68 178.80,285.62 179.00,285.43 179.20,286.58 179.40,285.41 179.60,287.73 179.80,288.18 180.00,284.54 180.20,288.42 180.40,288.01 180.60,287.55 180.80,288.36 181.00,289.71 181.20,290.68 181.40,290.37 181.60,287.56 181.80,290.27 182.00,285.64 182.20,289.92 182.40,289.80 182.60,290.42 182.80,287.60 183.00,291.52 183.20,291.44 183.40,289.92 183.60,287.50 183.80,290.48 184.00,288.78 184.20,287.82 184.40,289.36 184.60,294.44 184.80,288.51 185.00,290.50 185.20,291.53 185.40,292.91 185.60,289.99 185.80,290.19 186.00,293.36 186.20,292.55 186.40,294.27 186.60,290.62 186.80,292.48 187.00,294.31 187.20,293.20 187.40,291.38 187.60,293.55 187.80,290.50 188.00,292.47 188.20,295.10 188.40,295.46 188.60,294.84 188.80,295.47 189.00,292.12 189.20,293.64 189.40,296.50 189.60,298.65 189.80,295.86 190.00,293.83 190.20,293.91 190.40,297.51 190.60,297.47 190.80,293.95 191.00,296.25 191.20,298.38 191.40,298.56 191.60,295.63 191.80,296.15 192.00,297.50 192.20,295.15 192.40,294.44 192.60,296.09 192.80,299.25 193.00,299.20 193.20,298.36 193.40,295.87 193.60,294.74 193.80,296.34 194.00,298.18 194.20,299.89 194.40,296.96 194.60,298.62 194.80,295.76 195.00,295.38 195.20,298.86 195.40,297.09 195.60,297.45 195.80,295.60 196.00,300.63 196.20,296.58 196.40,299.60 196.60,297.28 196.80,299.17 197.00,302.03 197.20,300.39 197.40,300.31 197.60,301.66 197.80,301.58 198.00,302.68 198.20,298.23 198.40,302.85 198.60,300.89 198.80,299.23 199.00,301.95 199.20,301.96 199.40,301.18 199.60,302.66 199.80,299.29 200.00,298.83 200.20,300.62 200.40,303.41 200.60,302.61 200.80,301.86 201.00,300.24 201.20,302.02 201.40,303.99 201.60,301.32 201.80,301.36 202.00,303.08 202.20,303.50 202.40,302.77 202.60,306.23 202.80,303.02 203.00,301.21 203.20,299.30 203.40,304.76 203.60,302.67 203.80,303.50 204.00,303.74 204.20,305.20 204.40,304.73 204.60,304.67 204.80,303.55 205.00,302.73 205.20,303.50 205.40,301.74 205.60,303.60 205.80,304.67 206.00,304.06 206.20,303.08 206.40,301.36 206.60,301.24 206.80,301.38 207.00,301.75 207.20,302.94 207.40,302.83 207.60,302.75 207.80,303.19 208.00,299.73 208.20,300.63 208.40,301.44 208.60,301.46 208.80,298.68 209.00,298.18 209.20,300.67 209.40,299.53 209.60,298.82 209.80,297.44 210.00,296.30 210.20,297.87 210.40,298.65 210.60,299.30 210.80,300.31 211.00,299.59 211.20,301.88 211.40,299.82 211.60,301.32 211.80,301.28 212.00,298.68 212.20,299.76 212.40,301.28 212.60,302.60 212.80,303.11 213.00,304.81 213.20,302.92 213.40,302.58 213.60,303.75 213.80,301.43 214.00,303.17 214.20,301.98 214.40,303.77 214.60,302.65 214.80,303.18 215.00,306.96 215.20,305.77 215.40,308.06 215.60,304.48 215.80,303.98 216.00,303.10 216.20,304.40 216.40,301.75 216.60,304.78 216.80,303.84 217.00,302.70 217.20,302.05 217.40,303.58 217.60,304.45 217.80,305.13 218.00,302.68 218.20,305.27 218.40,305.91 218.60,309.01 218.80,306.12 219.00,307.06 219.20,304.51 219.40,305.68 219.60,304.54 219.80,304.39 220.00,306.50 220.20,305.34 220.40,308.00 220.60,305.61 220.80,306.30 221.00,303.66 221.20,302.99 221.40,306.56 221.60,304.36 221.80,307.41 222.00,304.02 222.20,303.84 222.40,308.24 222.60,302.38 222.80,304.18 223.00,305.73 223.20,305.75 223.40,302.88 223.60,307.99 223.80,303.71 224.00,301.24 224.20,305.59 224.40,303.22 224.60,303.90 224.80,304.83 225.00,301.96 225.20,302.02 225.40,302.74 225.60,303.94 225.80,300.17 226.00,304.19 226.20,302.06 226.40,299.22 226.60,300.58 226.80,300.88 227.00,301.38 227.20,300.24 227.40,300.13 227.60,297.66 227.80,298.70 228.00,293.07 228.20,298.85 228.40,297.18 228.60,299.99 228.80,296.73 229.00,297.18 229.20,298.28 229.40,300.54 229.60,299.21 229.80,300.51 230.00,299.09 230.20,300.78 230.40,303.66 230.60,301.21 230.80,300.23 231.00,296.90 231.20,300.21 231.40,300.89 231.60,298.81 231.80,300.69 232.00,295.44 232.20,297.75 232.40,297.21 232.60,299.40 232.80,297.08 233.00,296.65 233.20,300.33 233.40,295.45 233.60,298.35 233.80,299.07 234.00,296.66 234.20,295.41 234.40,296.33 234.60,295.48 234.80,294.91 235.00,296.33 235.20,295.70 235.40,300.56 235.60,297.47 235.80,295.53 236.00,295.98 236.20,297.62 236.40,296.65 236.60,294.68 236.80,293.14 237.00,297.01 237.20,293.91 237.40,294.04 237.60,295.53 237.80,293.31 238.00,294.69 238.20,291.72 238.40,291.99 238.60,290.83 238.80,293.87 239.00,287.48 239.20,288.69 239.40,286.68 239.60,285.92 239.80,283.91 240.00,283.45 240.20,285.39 240.40,284.40 240.60,279.66 240.80,277.43 241.00,277.45 241.20,279.92 241.40,276.61 241.60,273.15 241.80,278.19 242.00,277.33 242.20,279.54 242.40,280.48 242.60,279.18 242.80,284.38 243.00,285.29 243.20,284.56 243.40,283.33 243.60,286.32 243.80,287.48 244.00,291.41 244.20,290.27 244.40,291.32 244.60,292.82 244.80,292.72 245.00,294.65 245.20,295.08 245.40,296.59 245.60,293.59 245.80,296.59 246.00,296.02 246.20,300.25 246.40,299.61 246.60,297.00 246.80,299.54 247.00,295.56 247.20,297.03 247.40,298.62 247.60,299.80 247.80,297.92 248.00,300.05 248.20,302.29 248.40,298.00 248.60,298.69 248.80,298.05 249.00,303.20 249.20,299.90 249.40,301.23 249.60,300.65 249.80,302.13 250.00,301.94 250.20,302.95 250.40,303.12 250.60,305.59 250.80,301.72 251.00,303.70 251.20,303.47 251.40,301.42 251.60,305.31 251.80,307.07 252.00,302.57 252.20,308.43 252.40,304.47 252.60,304.75 252.80,300.90 253.00,305.35 253.20,305.22 253.40,305.19 253.60,306.84 253.80,305.67 254.00,306.71 254.20,305.24 254.40,304.64 254.60,306.80 254.80,307.72 255.00,308.05 255.20,307.27 255.40,306.06 255.60,307.47 255.80,307.13 256.00,305.67 256.20,308.34 256.40,307.65 256.60,306.30 256.80,307.70 257.00,309.26 257.20,310.81 257.40,305.59 257.60,308.02 257.80,309.58 258.00,310.63 258.20,309.47 258.40,307.29 258.60,308.19 258.80,308.98 259.00,307.82 259.20,307.42 259.40,307.09 259.60,313.27 259.80,309.23 260.00,308.81 260.20,310.30 260.40,309.29 260.60,308.96 260.80,309.57 261.00,307.99 261.20,308.56 261.40,310.68 261.60,310.20 261.80,307.47 262.00,311.61 262.20,308.58 262.40,306.67 262.60,310.35 262.80,310.25 263.00,309.72 263.20,307.65 263.40,311.13 263.60,310.04 263.80,310.11 264.00,309.57 264.20,309.80 264.40,312.76 264.60,308.39 264.80,309.67 265.00,311.00 265.20,310.45 265.40,307.96 265.60,309.01 265.80,308.58 266.00,306.86 266.20,308.86 266.40,310.69 266.60,309.61 266.80,310.92 267.00,309.84 267.20,307.98 267.40,309.96 267.60,306.32 267.80,311.08 268.00,308.44 268.20,311.68 268.40,306.82 268.60,307.44 268.80,308.27 269.00,308.52 269.20,306.38 269.40,306.86 269.60,309.65 269.80,307.55 270.00,310.23 270.20,311.44 270.40,306.42 270.60,308.13 270.80,311.51 271.00,310.43 271.20,306.50 271.40,309.23 271.60,311.25 271.80,305.09 272.00,309.43 272.20,310.18 272.40,307.60 272.60,307.31 272.80,309.49 273.00,305.66 273.20,309.06 273.40,310.08 273.60,308.18 273.80,305.45 274.00,310.44 274.20,307.77 274.40,308.64 274.60,306.25 274.80,307.43 275.00,309.26 275.20,304.96 275.40,305.17 275.60,303.86 275.80,307.83 276.00,307.73 276.20,305.54 276.40,307.36 276.60,306.75 276.80,309.73 277.00,304.57 277.20,306.79 277.40,305.56 277.60,309.10 277.80,306.76 278.00,303.98 278.20,306.48 278.40,305.38 278.60,303.95 278.80,305.98 279.00,305.39 279.20,303.11 279.40,304.09 279.60,306.49 279.80,306.99 280.00,304.03 280.20,303.46 280.40,304.25 280.60,303.38 280.80,301.37 281.00,304.07 281.20,300.67 281.40,304.83 281.60,303.12 281.80,303.01 282.00,300.99 282.20,301.40 282.40,299.78 282.60,299.67 282.80,298.19 283.00,301.66 283.20,297.04 283.40,301.02 283.60,298.89 283.80,295.58 284.00,298.45 284.20,296.25 284.40,293.48 284.60,294.27 284.80,292.38 285.00,290.65 285.20,290.65 285.40,289.97 285.60,287.70 285.80,286.76 286.00,286.58 286.20,283.50 286.40,281.35 286.60,278.01 286.80,277.94 287.00,275.08 287.20,273.02 287.40,271.87 287.60,268.80 287.80,263.85 288.00,259.06 288.20,257.01 288.40,256.00 288.60,257.20 288.80,257.73 289.00,264.33 289.20,265.84 289.40,271.15 289.60,274.09 289.80,276.15 290.00,280.05 290.20,280.18 290.40,282.56 290.60,282.38 290.80,285.26 291.00,286.59 291.20,288.46 291.40,289.40 291.60,287.12 291.80,293.31 292.00,294.18 292.20,290.72 292.40,295.36 292.60,298.37 292.80,297.73 293.00,298.41 293.20,297.64 293.40,297.73 293.60,302.17 293.80,300.34 294.00,302.77 294.20,300.50 294.40,302.52 294.60,302.75 294.80,303.08 295.00,300.22 295.20,306.27 295.40,303.28 295.60,302.55 295.80,303.81 296.00,300.77 296.20,306.05 296.40,303.44 296.60,304.72 296.80,304.76 297.00,301.86 297.20,304.32 297.40,307.01 297.60,303.92 297.80,305.72 298.00,308.11 298.20,308.14 298.40,304.41 298.60,307.53 298.80,307.08 299.00,306.97 299.20,307.76 299.40,307.52 299.60,304.86 299.80,307.29 300.00,305.65 300.20,307.23 300.40,306.12 300.60,310.74 300.80,308.44 301.00,307.83 301.20,306.05 301.40,307.87 301.60,305.52 301.80,305.97 302.00,304.76 302.20,308.88 302.40,306.77 302.60,309.09 302.80,309.50 303.00,310.45 303.20,307.20 303.40,310.21 303.60,309.84 303.80,306.05 304.00,308.71 304.20,306.92 304.40,308.05 304.60,310.23 304.80,308.89 305.00,310.96 305.20,309.51 305.40,309.77 305.60,311.28 305.80,310.68 306.00,310.05 306.20,311.01 306.40,310.85 306.60,306.82 306.80,307.42 307.00,309.26 307.20,310.90 307.40,308.06 307.60,306.66 307.80,309.25 308.00,308.47 308.20,311.79 308.40,305.79 308.60,310.85 308.80,310.65 309.00,305.47 309.20,308.13 309.40,309.38 309.60,310.42 309.80,309.92 310.00,310.92 310.20,310.32 310.40,308.81 310.60,312.75 310.80,310.63 311.00,308.89 311.20,311.06 311.40,310.13 311.60,309.74 311.80,309.45 312.00,308.16 312.20,309.17 312.40,308.61 312.60,307.55 312.80,311.47 313.00,311.22 313.20,310.46 313.40,309.11 313.60,309.67 313.80,313.42 314.00,309.64 314.20,312.38 314.40,311.65 314.60,311.93 314.80,310.45 315.00,310.88 315.20,311.18 315.40,309.61 315.60,313.51 315.80,310.11 316.00,311.71 316.20,314.24 316.40,313.83 316.60,310.61 316.80,312.38 317.00,313.22 317.20,308.58 317.40,314.89 317.60,312.56 317.80,311.30 318.00,311.64 318.20,308.30 318.40,312.93 318.60,314.34 318.80,311.59 319.00,314.42 319.20,312.99 319.40,309.84 319.60,312.83 319.80,308.80 320.00,309.05 320.20,313.00 320.40,312.89 320.60,311.87 320.80,311.86 321.00,309.64 321.20,313.62 321.40,312.02 321.60,311.74 321.80,317.69 322.00,312.52 322.20,312.05 322.40,315.24 322.60,312.58 322.80,311.38 323.00,314.54 323.20,311.93 323.40,310.91 323.60,311.61 323.80,312.20 324.00,314.60 324.20,314.18 324.40,310.29 324.60,314.15 324.80,311.19 325.00,311.45 325.20,308.08 325.40,314.71 325.60,313.06 325.80,311.79 326.00,311.85 326.20,313.64 326.40,312.13 326.60,307.44 326.80,312.49 327.00,312.01 327.20,312.23 327.40,312.26 327.60,313.34 327.80,310.83 328.00,315.54 328.20,312.12 328.40,310.75 328.60,312.00 328.80,309.14 329.00,311.52 329.20,310.57 329.40,310.15 329.60,312.91 329.80,312.03 330.00,310.01 330.20,310.48 330.40,311.90 330.60,314.87 330.80,311.03 331.00,310.89 331.20,311.78 331.40,308.97 331.60,310.64 331.80,311.79 332.00,311.13 332.20,310.89 332.40,308.29 332.60,310.04 332.80,311.99 333.00,313.69 333.20,310.80 333.40,308.13 333.60,307.95 333.80,308.01 334.00,311.21 334.20,305.37 334.40,306.64 334.60,303.90 334.80,305.31 335.00,304.93 335.20,306.23 335.40,305.50 335.60,304.05 335.80,302.80 336.00,302.17 336.20,305.05 336.40,302.14 336.60,300.56 336.80,301.21 337.00,302.67 337.20,301.76 337.40,301.01 337.60,305.45 337.80,303.51 338.00,305.01 338.20,305.98 338.40,306.04 338.60,306.78 338.80,303.61 339.00,308.31 339.20,308.24 339.40,308.42 339.60,309.36 339.80,313.28 340.00,312.78 340.20,311.69 340.40,313.25 340.60,310.47 340.80,311.28 341.00,312.34 341.20,313.21 341.40,313.30 341.60,315.05 341.80,312.19 342.00,314.64 342.20,311.73 342.40,313.69 342.60,311.48 342.80,315.02 343.00,312.39 343.20,315.35 343.40,310.49 343.60,316.32 343.80,313.58 344.00,314.39 344.20,314.23 344.40,311.29 344.60,313.01 344.80,313.06 345.00,313.93 345.20,311.73 345.40,313.20 345.60,314.37 345.80,316.04 346.00,315.48 346.20,312.62 346.40,315.81 346.60,316.99 346.80,315.79 347.00,314.14 347.20,313.35 347.40,314.13 347.60,317.33 347.80,313.35 348.00,311.14 348.20,316.37 348.40,314.05 348.60,314.99 348.80,314.53 349.00,316.88 349.20,314.64 349.40,314.17 349.60,314.12 349.80,318.07 350.00,317.73 350.20,314.94 350.40,314.79 350.60,315.43 350.80,316.51 351.00,314.41 351.20,318.08 351.40,316.21 351.60,311.83 351.80,314.26 352.00,315.45 352.20,319.62 352.40,318.42 352.60,316.35 352.80,314.32 353.00,315.98 353.20,316.18 353.40,315.47 353.60,316.38 353.80,317.28 354.00,315.49 354.20,314.52 354.40,316.50 354.60,313.93 354.80,315.60 355.00,318.11 355.20,316.61 355.40,314.50 355.60,316.28 355.80,315.95 356.00,316.56 356.20,317.93 356.40,315.62 356.60,314.55 356.80,318.83 357.00,315.18 357.20,317.41 357.40,317.14 357.60,316.05 357.80,317.42 358.00,317.09 358.20,316.89 358.40,317.77 358.60,315.57 358.80,318.07 359.00,315.39 359.20,318.17 359.40,318.72 359.60,315.49 359.80,319.69 360.00,315.75 360.20,316.62 360.40,315.46 360.60,316.26 360.80,316.80 361.00,315.78 361.20,318.16 361.40,315.51 361.60,317.17 361.80,315.08 362.00,315.29 362.20,316.84 362.40,317.13 362.60,316.12 362.80,317.16 363.00,317.36 363.20,315.67 363.40,316.73 363.60,315.39 363.80,314.72 364.00,315.78 364.20,316.35 364.40,318.46 364.60,317.47 364.80,316.88 365.00,313.48 365.20,315.34 365.40,317.46 365.60,317.60 365.80,316.73 366.00,314.95 366.20,313.83 366.40,314.25 366.60,316.99 366.80,317.34 367.00,319.43 367.20,315.77 367.40,317.26 367.60,315.61 367.80,316.47 368.00,316.92 368.20,316.00 368.40,318.89 368.60,315.17 368.80,317.97 369.00,316.47 369.20,316.05 369.40,318.33 369.60,315.91 369.80,317.23 370.00,316.79 370.20,317.84 370.40,315.03 370.60,317.20 370.80,317.50 371.00,315.82 371.20,315.28 371.40,315.25 371.60,316.71 371.80,315.61 372.00,317.54 372.20,316.56 372.40,316.35 372.60,316.66 372.80,316.81 373.00,316.98 373.20,317.54 373.40,318.37 373.60,317.30 373.80,317.40 374.00,318.87 374.20,318.87 374.40,316.73 374.60,315.03 374.80,318.31 375.00,315.37 375.20,315.40 375.40,315.29 375.60,315.92 375.80,312.96 376.00,315.58 376.20,317.92 376.40,319.97 376.60,316.84 376.80,317.24 377.00,317.27 377.20,315.00 377.40,314.31 377.60,316.08 377.80,316.99 378.00,315.30 378.20,315.33 378.40,314.47 378.60,313.96 378.80,313.04 379.00,315.04 379.20,314.39 379.40,312.78 379.60,313.32 379.80,313.93 380.00,314.90 380.20,316.47 380.40,316.59 380.60,314.48 380.80,315.23 381.00,314.85 381.20,316.71 381.40,317.46 381.60,313.75 381.80,316.50 382.00,318.62 382.20,314.61 382.40,319.06 382.60,318.61 382.80,316.34 383.00,315.72 383.20,319.79 383.40,316.82 383.60,315.60 383.80,317.60 384.00,315.54 384.20,316.15 384.40,320.22 384.60,317.07 384.80,317.52 385.00,315.37 385.20,316.54 385.40,319.33 385.60,318.46 385.80,319.43 386.00,320.25 386.20,318.29 386.40,317.39 386.60,314.86 386.80,319.63 387.00,318.23 387.20,321.83 387.40,317.92 387.60,317.97 387.80,317.47 388.00,316.42 388.20,318.23 388.40,318.69 388.60,318.55 388.80,317.82 389.00,317.12 389.20,319.92 389.40,319.71 389.60,317.36 389.80,316.45 390.00,317.35 390.20,317.34 390.40,319.81 390.60,317.08 390.80,318.87 391.00,316.87 391.20,318.18 391.40,322.14 391.60,317.39 391.80,318.95 392.00,317.67 392.20,319.99 392.40,318.84 392.60,318.35 392.80,320.41 393.00,319.52 393.20,319.24 393.40,316.59 393.60,316.98 393.80,320.32 394.00,316.53 394.20,320.52 394.40,320.48 394.60,317.82 394.80,316.87 395.00,316.31 395.20,319.19 395.40,318.78 395.60,316.85 395.80,316.43 396.00,318.59 396.20,316.95 396.40,317.80 396.60,314.31 396.80,318.37 397.00,317.95 397.20,317.03 397.40,316.01 397.60,317.55 397.80,318.15 398.00,318.19 398.20,317.75 398.40,316.48 398.60,318.47 398.80,319.14 399.00,316.61 399.20,315.64 399.40,319.49 399.60,317.66 399.80,314.63 400.00,318.49 400.20,317.52 400.40,316.25 400.60,317.33 400.80,315.62 401.00,315.90 401.20,314.75 401.40,318.69 401.60,316.25 401.80,317.24 402.00,317.40 402.20,313.18 402.40,317.06 402.60,315.17 402.80,318.51 403.00,315.00 403.20,317.88 403.40,319.01 403.60,317.01 403.80,318.09 404.00,318.54 404.20,316.86 404.40,316.24 404.60,314.52 404.80,319.16 405.00,317.96 405.20,317.86 405.40,314.07 405.60,318.05 405.80,315.93 406.00,316.69 406.20,316.94 406.40,318.02 406.60,315.99 406.80,315.45 407.00,317.22 407.20,316.77 407.40,315.54 407.60,319.36 407.80,317.98 408.00,314.13 408.20,313.23 408.40,313.65 408.60,315.72 408.80,316.96 409.00,318.76 409.20,316.57 409.40,315.41 409.60,316.52 409.80,316.38 410.00,315.03 410.20,316.54 410.40,313.72 410.60,315.84 410.80,317.00 411.00,316.06 411.20,317.13 411.40,317.93 411.60,317.27 411.80,317.39 412.00,317.40 412.20,316.24 412.40,317.95 412.60,316.94 412.80,315.25 413.00,317.97 413.20,316.65 413.40,312.37 413.60,319.14 413.80,316.85 414.00,315.76 414.20,317.95 414.40,317.46 414.60,317.31 414.80,319.45 415.00,318.65 415.20,316.64 415.40,316.22 415.60,315.47 415.80,317.86 416.00,317.46 416.20,318.86 416.40,317.98 416.60,318.45 416.80,319.36 417.00,316.87 417.20,316.29 417.40,317.65 417.60,315.92 417.80,317.49 418.00,317.42 418.20,319.80 418.40,317.41 418.60,319.58 418.80,317.43 419.00,317.95 419.20,317.40 419.40,317.99 419.60,317.32 419.80,316.67 420.00,316.49 420.20,319.51 420.40,318.55 420.60,320.58 420.80,320.49 421.00,317.07 421.20,321.12 421.40,317.93 421.60,316.41 421.80,316.21 422.00,317.93 422.20,315.39 422.40,319.41 422.60,318.33 422.80,319.73 423.00,319.38 423.20,319.33 423.40,320.00 423.60,319.73 423.80,317.17 424.00,321.29 424.20,318.55 424.40,319.29 424.60,320.26 424.80,318.33 425.00,318.62 425.20,316.91 425.40,320.33 425.60,320.37 425.80,318.92 426.00,318.44 426.20,315.93 426.40,320.20 426.60,318.31 426.80,318.94 427.00,319.15 427.20,319.16 427.40,319.89 427.60,320.53 427.80,319.97 428.00,318.28 428.20,319.72 428.40,319.66 428.60,318.56 428.80,319.53 429.00,321.11 429.20,320.96 429.40,320.68 429.60,320.84 429.80,317.47 430.00,320.32 430.20,322.10 430.40,319.69 430.60,319.72 430.80,319.16 431.00,320.59 431.20,320.17 431.40,318.91 431.60,320.37 431.80,320.29 432.00,320.78 432.20,320.86 432.40,319.33 432.60,320.90 432.80,320.31 433.00,320.26 433.20,319.86 433.40,320.50 433.60,319.59 433.80,318.97 434.00,321.90 434.20,318.80 434.40,321.05 434.60,321.44 434.80,320.75 435.00,320.04 435.20,320.25 435.40,318.45 435.60,320.90 435.80,319.26 436.00,320.32 436.20,319.31 436.40,321.63 436.60,319.98 436.80,320.46 437.00,322.39 437.20,319.28 437.40,320.21 437.60,317.65 437.80,320.10 438.00,319.95 438.20,319.70 438.40,321.42 438.60,322.52 438.80,321.62 439.00,321.53 439.20,321.93 439.40,319.82 439.60,319.57 439.80,321.01 440.00,322.86 440.20,319.87 440.40,318.68 440.60,320.67 440.80,321.91 441.00,321.48 441.20,321.17 441.40,320.42 441.60,321.52 441.80,320.01 442.00,322.09 442.20,322.21 442.40,321.51 442.60,323.03 442.80,323.56 443.00,319.34 443.20,320.09 443.40,319.05 443.60,318.06 443.80,318.74 444.00,319.92 444.20,320.76 444.40,320.97 444.60,316.64 444.80,319.84 445.00,318.35 445.20,320.65 445.40,318.66 445.60,320.97 445.80,321.89 446.00,322.05 446.20,319.27 446.40,319.78 446.60,318.98 446.80,319.32 447.00,321.56 447.20,316.89 447.40,318.39 447.60,319.21 447.80,318.41 448.00,317.51 448.20,320.32 448.40,318.76 448.60,318.23 448.80,316.96 449.00,318.51 449.20,319.84 449.40,318.35 449.60,320.00 449.80,318.04 450.00,317.30 450.20,318.42 450.40,317.11 450.60,316.29 450.80,318.91 451.00,319.46 451.20,320.34 451.40,315.61 451.60,319.30 451.80,318.87 452.00,318.18 452.20,318.97 452.40,318.81 452.60,318.57 452.80,318.61 453.00,317.46 453.20,320.08 453.40,317.78 453.60,319.20 453.80,317.26 454.00,317.67 454.20,317.56 454.40,318.01 454.60,319.49 454.80,315.72 455.00,319.29 455.20,316.77 455.40,320.43 455.60,316.45 455.80,317.93 456.00,318.57 456.20,315.67 456.40,317.77 456.60,317.90 456.80,318.34 457.00,317.63 457.20,316.55 457.40,315.51 457.60,317.25 457.80,317.51 458.00,317.58 458.20,319.20 458.40,318.31 458.60,316.00 458.80,317.17 459.00,319.82 459.20,319.26 459.40,318.67 459.60,318.10 459.80,320.01 460.00,317.66 460.20,317.86 460.40,320.24 460.60,316.49 460.80,320.41 461.00,318.42 461.20,319.62 461.40,318.62 461.60,316.83 461.80,319.81 462.00,318.50 462.20,319.36 462.40,320.07 462.60,319.86 462.80,319.88 463.00,320.61 463.20,316.97 463.40,322.64 463.60,318.02 463.80,319.82 464.00,320.15 464.20,319.56 464.40,321.28 464.60,319.72 464.80,320.50 465.00,323.95 465.20,320.00 465.40,323.69 465.60,318.89 465.80,321.53 466.00,321.11 466.20,321.76 466.40,317.93 466.60,318.32 466.80,321.90 467.00,322.19 467.20,322.02 467.40,320.56 467.60,321.89 467.80,321.78 468.00,320.54 468.20,323.78 468.40,321.31 468.60,320.73 468.80,321.91 469.00,320.93 469.20,321.79 469.40,320.28 469.60,320.36 469.80,320.79 470.00,322.84 470.20,320.99 470.40,323.55 470.60,323.37 470.80,320.77 471.00,320.87 471.20,322.99 471.40,321.08 471.60,321.02 471.80,323.76 472.00,323.11 472.20,322.23 472.40,319.14 472.60,321.66 472.80,319.26 473.00,321.74 473.20,321.90 473.40,323.78 473.60,319.74 473.80,321.64 474.00,321.85 474.20,321.97 474.40,322.11 474.60,322.89 474.80,322.07 475.00,320.89 475.20,321.08 475.40,322.80 475.60,320.96 475.80,318.81 476.00,319.31 476.20,319.76 476.40,319.66 476.60,321.62 476.80,321.50 477.00,319.01 477.20,319.21 477.40,321.77 477.60,321.74 477.80,321.04 478.00,323.93 478.20,320.06 478.40,322.57 478.60,321.44 478.80,318.41 479.00,319.65 479.20,321.15 479.40,319.99 479.60,320.49 479.80,320.77 480.00,321.35 480.20,320.52 480.40,321.73 480.60,320.61 480.80,319.56 481.00,320.30 481.20,319.24 481.40,321.81 481.60,318.88 481.80,320.03 482.00,320.20 482.20,321.39 482.40,322.52 482.60,319.19 482.80,320.22 483.00,320.00 483.20,319.67 483.40,318.46 483.60,320.70 483.80,318.16 484.00,322.42 484.20,321.61 484.40,321.88 484.60,322.88 484.80,320.35 485.00,319.52 485.20,318.05 485.40,321.89 485.60,321.43 485.80,319.76 486.00,318.99 486.20,320.76 486.40,320.68 486.60,318.84 486.80,322.17 487.00,319.58 487.20,321.01 487.40,317.89 487.60,318.83 487.80,320.34 488.00,318.83 488.20,322.36 488.40,317.60 488.60,319.42 488.80,317.71 489.00,319.52 489.20,321.60 489.40,320.31 489.60,319.69 489.80,321.52 490.00,317.90 490.20,318.26 490.40,317.80 490.60,321.18 490.80,317.67 491.00,321.45 491.20,318.77 491.40,319.38 491.60,319.13 491.80,320.64 492.00,318.88 492.20,319.08 492.40,319.02 492.60,319.17 492.80,318.11 493.00,319.20 493.20,317.77 493.40,319.69 493.60,318.27 493.80,320.56 494.00,316.88 494.20,318.78 494.40,318.20 494.60,320.41 494.80,318.64 495.00,317.53 495.20,317.31 495.40,316.40 495.60,319.61 495.80,319.43 496.00,316.32 496.20,315.14 496.40,316.33 496.60,316.37 496.80,313.96 497.00,314.33 497.20,313.93 497.40,314.06 497.60,314.93 497.80,312.96 498.00,312.05 498.20,317.06 498.40,314.22 498.60,315.53 498.80,314.61 499.00,315.73 499.20,316.28 499.40,316.07 499.60,319.77 499.80,317.74 500.00,316.85 500.20,317.65 500.40,317.81 500.60,317.77 500.80,319.66 501.00,319.85 501.20,318.64 501.40,319.18 501.60,317.48 501.80,319.81 502.00,319.17 502.20,318.40 502.40,319.13 502.60,321.49 502.80,318.58 503.00,318.76 503.20,320.44 503.40,320.60 503.60,319.94 503.80,318.86 504.00,319.48 504.20,322.76 504.40,318.63 504.60,320.67 504.80,321.58 505.00,321.40 505.20,323.41 505.40,321.11 505.60,320.13 505.80,319.81 506.00,320.40 506.20,322.47 506.40,319.42 506.60,321.15 506.80,319.84 507.00,320.75 507.20,323.37 507.40,321.23 507.60,321.50 507.80,320.35 508.00,319.08 508.20,319.95 508.40,320.46 508.60,320.99 508.80,318.63 509.00,320.90 509.20,322.87 509.40,320.50 509.60,322.06 509.80,321.41 510.00,321.08 510.20,320.83 510.40,322.06 510.60,323.25 510.80,318.98 511.00,322.47 511.20,320.72 511.40,321.65 511.60,322.55 511.80,321.45 512.00,323.63 512.20,322.58 512.40,320.89 512.60,322.34 512.80,319.48 513.00,321.59 513.20,320.61 513.40,320.27 513.60,322.56 513.80,321.60 514.00,320.73 514.20,321.76 514.40,321.22 514.60,321.16 514.80,319.40 515.00,320.71 515.20,321.99 515.40,321.82 515.60,321.44 515.80,319.95 516.00,320.44 516.20,318.41 516.40,320.10 516.60,322.89 516.80,323.45 517.00,321.47 517.20,321.36 517.40,319.64 517.60,321.65 517.80,320.72 518.00,323.99 518.20,322.01 518.40,321.28 518.60,318.40 518.80,323.19 519.00,321.51 519.20,323.95 519.40,322.23 519.60,321.25 519.80,322.33 520.00,322.41 520.20,320.77 520.40,323.10 520.60,323.81 520.80,320.64 521.00,318.61 521.20,322.36 521.40,321.62 521.60,321.49 521.80,320.36 522.00,323.33 522.20,318.92 522.40,322.98 522.60,320.88 522.80,317.39 523.00,320.46 523.20,321.40 523.40,323.87 523.60,322.86 523.80,321.25 524.00,321.49 524.20,323.06 524.40,322.43 524.60,324.15 524.80,320.64 525.00,321.97 525.20,320.79 525.40,321.63 525.60,319.67 525.80,321.48 526.00,319.71 526.20,321.88 526.40,323.22 526.60,321.76 526.80,321.65 527.00,321.27 527.20,319.82 527.40,320.60 527.60,320.93 527.80,320.20 528.00,322.74 528.20,319.22 528.40,320.16 528.60,320.33 528.80,321.06 529.00,320.07 529.20,319.72 529.40,319.90 529.60,320.06 529.80,319.71 530.00,322.69 530.20,321.40 530.40,322.88 530.60,320.72 530.80,322.12 531.00,321.34 531.20,321.65 531.40,323.29 531.60,322.29 531.80,321.90 532.00,321.25 532.20,319.33 532.40,321.16 532.60,320.65 532.80,323.57 533.00,320.81 533.20,321.61 533.40,321.28 533.60,320.69 533.80,322.63 534.00,320.15 534.20,322.12 534.40,319.20 534.60,320.75 534.80,323.41 535.00,321.20 535.20,321.71 535.40,321.78 535.60,321.50 535.80,318.36 536.00,319.62 536.20,322.48 536.40,321.60 536.60,319.77 536.80,319.84 537.00,323.70 537.20,320.84 537.40,321.14 537.60,320.88 537.80,320.45 538.00,321.75 538.20,321.99 538.40,321.11" fill="none" stroke="#0000ff" stroke-width="1.15" stroke-linejoin="round"/>
<rect x="29" y="8.5" width="509.5" height="200.8" fill="none" stroke="#5c5c5c" stroke-width="1.3"/>
<rect x="28.2" y="214.8" width="510.3" height="201.1" fill="none" stroke="#5c5c5c" stroke-width="1.3"/>
<line x1="62.23" y1="209.79999999999998" x2="62.23" y2="211.34" stroke="#5c5c5c" stroke-width="1"/>
<line x1="62.23" y1="416.40000000000003" x2="62.23" y2="419.6" stroke="#5c5c5c" stroke-width="1"/>
<line x1="96.27" y1="209.79999999999998" x2="96.27" y2="210.78" stroke="#5c5c5c" stroke-width="1"/>
<line x1="96.27" y1="416.40000000000003" x2="96.27" y2="418.8" stroke="#5c5c5c" stroke-width="1"/>
<line x1="130.31" y1="209.79999999999998" x2="130.31" y2="211.34" stroke="#5c5c5c" stroke-width="1"/>
<line x1="130.31" y1="416.40000000000003" x2="130.31" y2="419.6" stroke="#5c5c5c" stroke-width="1"/>
<line x1="164.34" y1="209.79999999999998" x2="164.34" y2="210.78" stroke="#5c5c5c" stroke-width="1"/>
<line x1="164.34" y1="416.40000000000003" x2="164.34" y2="418.8" stroke="#5c5c5c" stroke-width="1"/>
<line x1="198.38" y1="209.79999999999998" x2="198.38" y2="211.34" stroke="#5c5c5c" stroke-width="1"/>
<line x1="198.38" y1="416.40000000000003" x2="198.38" y2="419.6" stroke="#5c5c5c" stroke-width="1"/>
<line x1="232.41" y1="209.79999999999998" x2="232.41" y2="210.78" stroke="#5c5c5c" stroke-width="1"/>
<line x1="232.41" y1="416.40000000000003" x2="232.41" y2="418.8" stroke="#5c5c5c" stroke-width="1"/>
<line x1="266.44" y1="209.79999999999998" x2="266.44" y2="211.34" stroke="#5c5c5c" stroke-width="1"/>
<line x1="266.44" y1="416.40000000000003" x2="266.44" y2="419.6" stroke="#5c5c5c" stroke-width="1"/>
<line x1="300.48" y1="209.79999999999998" x2="300.48" y2="210.78" stroke="#5c5c5c" stroke-width="1"/>
<line x1="300.48" y1="416.40000000000003" x2="300.48" y2="418.8" stroke="#5c5c5c" stroke-width="1"/>
<line x1="334.51" y1="209.79999999999998" x2="334.51" y2="211.34" stroke="#5c5c5c" stroke-width="1"/>
<line x1="334.51" y1="416.40000000000003" x2="334.51" y2="419.6" stroke="#5c5c5c" stroke-width="1"/>
<line x1="368.55" y1="209.79999999999998" x2="368.55" y2="210.78" stroke="#5c5c5c" stroke-width="1"/>
<line x1="368.55" y1="416.40000000000003" x2="368.55" y2="418.8" stroke="#5c5c5c" stroke-width="1"/>
<line x1="402.59" y1="209.79999999999998" x2="402.59" y2="211.34" stroke="#5c5c5c" stroke-width="1"/>
<line x1="402.59" y1="416.40000000000003" x2="402.59" y2="419.6" stroke="#5c5c5c" stroke-width="1"/>
<line x1="436.62" y1="209.79999999999998" x2="436.62" y2="210.78" stroke="#5c5c5c" stroke-width="1"/>
<line x1="436.62" y1="416.40000000000003" x2="436.62" y2="418.8" stroke="#5c5c5c" stroke-width="1"/>
<line x1="470.66" y1="209.79999999999998" x2="470.66" y2="211.34" stroke="#5c5c5c" stroke-width="1"/>
<line x1="470.66" y1="416.40000000000003" x2="470.66" y2="419.6" stroke="#5c5c5c" stroke-width="1"/>
<line x1="504.69" y1="209.79999999999998" x2="504.69" y2="210.78" stroke="#5c5c5c" stroke-width="1"/>
<line x1="504.69" y1="416.40000000000003" x2="504.69" y2="418.8" stroke="#5c5c5c" stroke-width="1"/>
<line x1="538.73" y1="209.79999999999998" x2="538.73" y2="211.34" stroke="#5c5c5c" stroke-width="1"/>
<line x1="538.73" y1="416.40000000000003" x2="538.73" y2="419.6" stroke="#5c5c5c" stroke-width="1"/>
<text x="59.0" y="433.2" font-size="16" text-anchor="middle">10</text>
<text x="127.1" y="433.2" font-size="16" text-anchor="middle">20</text>
<text x="195.2" y="433.2" font-size="16" text-anchor="middle">30</text>
<text x="263.2" y="433.2" font-size="16" text-anchor="middle">40</text>
<text x="331.3" y="433.2" font-size="16" text-anchor="middle">50</text>
<text x="399.4" y="433.2" font-size="16" text-anchor="middle">60</text>
<text x="467.5" y="433.2" font-size="16" text-anchor="middle">70</text>
<text x="535.5" y="433.2" font-size="16" text-anchor="middle">80</text>
<text transform="translate(243.8,459.2) scale(1.03,1)" font-size="17.5" stroke="#000">2Theta (<tspan font-size="10" dx="3.0" dy="-9.5">o</tspan><tspan dx="3.2" dy="9.5">)</tspan></text>
<text transform="translate(19.8,93.8) scale(0.96,1) rotate(-90)" font-size="16.25" stroke="#000" text-anchor="middle">Intensity (a.u.)</text>
<text transform="translate(18.5,300.8) scale(1.04,1) rotate(-90)" font-size="17.9" stroke="#000" text-anchor="middle">Intensity (a.u.)</text>
<text transform="translate(34.4,28.8) scale(0.9,1)" font-size="18.5" font-weight="bold" stroke="#000">A</text>
<text transform="translate(33,234.8) scale(0.9,1)" font-size="18.5" font-weight="bold" stroke="#000">B</text>
<text x="137.2" y="61" font-size="13.2">AC</text>
<line x1="157" y1="59.3" x2="170.5" y2="69.3" stroke="#000" stroke-width="0.8"/>
<path d="M172.6,71 L167.6,69.3 L169.8,66.6 Z" fill="#000"/>
<text x="145" y="263.2" font-size="13.2">AC</text>
<line x1="164" y1="259.7" x2="171.5" y2="263.3" stroke="#000" stroke-width="0.8"/>
<path d="M173.6,264.3 L168.6,264.4 L170.2,261.3 Z" fill="#000"/>
<text x="525.6" y="104" font-size="16" fill="#000" stroke="#000" text-anchor="start" font-weight="normal" >c</text>
<text x="525.3" y="139.6" font-size="16" fill="#000" stroke="#000" text-anchor="start" font-weight="normal" >b</text>
<text x="525.6" y="176" font-size="16" fill="#000" stroke="#000" text-anchor="start" font-weight="normal" >a</text>
<text x="521" y="317.7" font-size="16" fill="#000" stroke="#000" text-anchor="start" font-weight="normal" >c</text>
<text x="521.3" y="355.3" font-size="16" fill="#000" stroke="#000" text-anchor="start" font-weight="normal" >b</text>
<text x="521" y="396" font-size="16" fill="#000" stroke="#000" text-anchor="start" font-weight="normal" >a</text>
<text transform="translate(201.69,69.25) scale(0.99,1) rotate(-90)" font-size="12.9" fill="#008000" stroke="#008000" text-anchor="middle">[110]</text>
<path fill="#008000" stroke="#008000" stroke-width="0.9" stroke-linejoin="round" d="M196.10,84.45 C195.16,86.24 193.75,87.64 193.75,88.48 L198.45,88.48 C198.45,87.64 197.04,86.24 196.10,84.45 Z"/>
<text transform="translate(231.39,71.75) scale(0.99,1) rotate(-90)" font-size="12.9" fill="#0000ff" stroke="#0000ff" text-anchor="middle">[002]</text>
<path fill="#0000ff" d="M236.40,78.80 C235.42,77.12 233.60,76.00 233.60,74.88 C233.60,72.92 235.84,72.64 236.40,74.60 C236.96,72.64 239.20,72.92 239.20,74.88 C239.20,76.00 237.38,77.12 236.40,78.80 Z"/>
<text transform="translate(241.69,33.45) scale(0.99,1) rotate(-90)" font-size="12.9" fill="#008000" stroke="#008000" text-anchor="middle">[111]</text>
<path fill="#008000" stroke="#008000" stroke-width="0.9" stroke-linejoin="round" d="M241.80,50.45 C240.86,52.24 239.45,53.64 239.45,54.48 L244.15,54.48 C244.15,53.64 242.74,52.24 241.80,50.45 Z"/>
<text transform="translate(256.59,33.45) scale(0.99,1) rotate(-90)" font-size="12.9" fill="#000000" stroke="#000000" text-anchor="middle">[101]</text>
<path fill="#000000" d="M241.80,57.20 L244.18,60.00 L241.80,62.80 L239.42,60.00 Z"/>
<text transform="translate(263.39,65.00) scale(0.99,1) rotate(-90)" font-size="12.9" fill="#0000ff" stroke="#0000ff" text-anchor="middle">[200]</text>
<path fill="#0000ff" d="M260.00,86.80 C259.02,85.12 257.20,84.00 257.20,82.88 C257.20,80.92 259.44,80.64 260.00,82.60 C260.56,80.64 262.80,80.92 262.80,82.88 C262.80,84.00 260.98,85.12 260.00,86.80 Z"/>
<text transform="translate(281.29,63.00) scale(0.99,1) rotate(-90)" font-size="12.9" fill="#008000" stroke="#008000" text-anchor="middle">[200]</text>
<path fill="#008000" stroke="#008000" stroke-width="0.9" stroke-linejoin="round" d="M280.80,78.25 C279.86,80.04 278.45,81.44 278.45,82.28 L283.15,82.28 C283.15,81.44 281.74,80.04 280.80,78.25 Z"/>
<text transform="translate(296.09,45.90) scale(0.99,1) rotate(-90)" font-size="12.9" fill="#ff0000" stroke="#ff0000" text-anchor="middle">[111]</text>
<g fill="#ff0000"><circle cx="289.10" cy="64.40" r="1.32"/><circle cx="287.53" cy="66.19" r="1.32"/><circle cx="290.67" cy="66.19" r="1.32"/><circle cx="289.10" cy="65.80" r="0.72"/><path d="M288.76,65.80 L288.15,68.60 L290.05,68.60 L289.44,65.80 Z"/></g>
<text transform="translate(340.99,72.90) scale(0.99,1) rotate(-90)" font-size="12.9" fill="#ff0000" stroke="#ff0000" text-anchor="middle">[200]</text>
<g fill="#ff0000"><circle cx="337.00" cy="89.60" r="1.32"/><circle cx="335.43" cy="91.39" r="1.32"/><circle cx="338.57" cy="91.39" r="1.32"/><circle cx="337.00" cy="91.00" r="0.72"/><path d="M336.66,91.00 L336.05,93.80 L337.95,93.80 L337.34,91.00 Z"/></g>
<text transform="translate(416.29,76.85) scale(0.99,1) rotate(-90)" font-size="12.9" fill="#008000" stroke="#008000" text-anchor="middle">[220]</text>
<path fill="#008000" stroke="#008000" stroke-width="0.9" stroke-linejoin="round" d="M412.00,91.15 C411.06,92.94 409.65,94.34 409.65,95.18 L414.35,95.18 C414.35,94.34 412.94,92.94 412.00,91.15 Z"/>
<text transform="translate(492.79,79.10) scale(0.99,1) rotate(-90)" font-size="12.9" fill="#008000" stroke="#008000" text-anchor="middle">[311]</text>
<path fill="#008000" stroke="#008000" stroke-width="0.9" stroke-linejoin="round" d="M493.20,96.35 C492.26,98.14 490.85,99.54 490.85,100.38 L495.55,100.38 C495.55,99.54 494.14,98.14 493.20,96.35 Z"/>
<text transform="translate(506.19,77.60) scale(0.99,1) rotate(-90)" font-size="12.9" fill="#ff0000" stroke="#ff0000" text-anchor="middle">[220]</text>
<g fill="#ff0000"><circle cx="499.20" cy="97.30" r="1.32"/><circle cx="497.63" cy="99.09" r="1.32"/><circle cx="500.77" cy="99.09" r="1.32"/><circle cx="499.20" cy="98.70" r="0.72"/><path d="M498.86,98.70 L498.25,101.50 L500.15,101.50 L499.54,98.70 Z"/></g>
<text transform="translate(215.28,272.95) scale(0.98,1) rotate(-90)" font-size="14.6" fill="#000000" stroke="#000000" text-anchor="middle">[100]</text>
<path fill="#000000" d="M211.00,289.40 L213.47,292.30 L211.00,295.20 L208.53,292.30 Z"/>
<text transform="translate(231.68,276.15) scale(0.98,1) rotate(-90)" font-size="14.6" fill="#000000" stroke="#000000" text-anchor="middle">[002]</text>
<path fill="#000000" d="M229.00,290.90 L231.47,293.80 L229.00,296.70 L226.53,293.80 Z"/>
<text transform="translate(246.68,250.50) scale(0.98,1) rotate(-90)" font-size="14.6" fill="#000000" stroke="#000000" text-anchor="middle">[101]</text>
<path fill="#000000" d="M241.50,268.10 L243.97,271.00 L241.50,273.90 L239.03,271.00 Z"/>
<text transform="translate(292.88,232.00) scale(0.98,1) rotate(-90)" font-size="14.6" fill="#ff0000" stroke="#ff0000" text-anchor="middle">[111]</text>
<g fill="#ff0000"><circle cx="288.70" cy="251.75" r="1.36"/><circle cx="287.08" cy="253.61" r="1.36"/><circle cx="290.32" cy="253.61" r="1.36"/><circle cx="288.70" cy="253.20" r="0.75"/><path d="M288.35,253.20 L287.71,256.10 L289.69,256.10 L289.05,253.20 Z"/></g>
<text transform="translate(341.98,277.85) scale(0.98,1) rotate(-90)" font-size="14.6" fill="#ff0000" stroke="#ff0000" text-anchor="middle">[200]</text>
<g fill="#ff0000"><circle cx="337.20" cy="296.75" r="1.36"/><circle cx="335.58" cy="298.61" r="1.36"/><circle cx="338.82" cy="298.61" r="1.36"/><circle cx="337.20" cy="298.20" r="0.75"/><path d="M336.85,298.20 L336.21,301.10 L338.19,301.10 L337.55,298.20 Z"/></g>
<text transform="translate(383.88,288.10) scale(0.98,1) rotate(-90)" font-size="14.6" fill="#000000" stroke="#000000" text-anchor="middle">[110]</text>
<path fill="#000000" d="M379.60,304.50 L382.06,307.40 L379.60,310.30 L377.14,307.40 Z"/>
<text transform="translate(504.48,289.10) scale(0.98,1) rotate(-90)" font-size="14.6" fill="#ff0000" stroke="#ff0000" text-anchor="middle">[220]</text>
<g fill="#ff0000"><circle cx="498.00" cy="308.55" r="1.36"/><circle cx="496.38" cy="310.41" r="1.36"/><circle cx="499.62" cy="310.41" r="1.36"/><circle cx="498.00" cy="310.00" r="0.75"/><path d="M497.65,310.00 L497.01,312.90 L498.99,312.90 L498.35,310.00 Z"/></g>
<g fill="#ff0000"><circle cx="436.90" cy="15.70" r="1.53"/><circle cx="435.08" cy="17.77" r="1.53"/><circle cx="438.72" cy="17.77" r="1.53"/><circle cx="436.90" cy="17.32" r="0.84"/><path d="M436.51,17.32 L435.79,20.57 L438.00,20.57 L437.29,17.32 Z"/></g>
<text x="441.35" y="20.8" font-size="11.6" stroke="#000"><tspan fill="#ff0000" stroke="#ff0000">:</tspan>Cu</text>
<path fill="#0000ff" d="M436.90,32.17 C435.76,30.22 433.65,28.92 433.65,27.62 C433.65,25.34 436.25,25.02 436.90,27.29 C437.55,25.02 440.15,25.34 440.15,27.62 C440.15,28.92 438.04,30.22 436.90,32.17 Z"/>
<text x="441.35" y="32.4" font-size="11.6" stroke="#000"><tspan fill="#0000ff" stroke="#0000ff">:</tspan>CuO</text>
<g fill="#008000"><path d="M436.90,37.87 C435.76,39.82 433.65,40.99 433.65,42.42 C433.65,44.05 436.25,44.05 436.90,42.42 C437.55,44.05 440.15,44.05 440.15,42.42 C440.15,40.99 438.04,39.82 436.90,37.87 Z"/><path d="M436.51,41.77 L435.79,44.37 L438.00,44.37 L437.29,41.77 Z"/></g>
<text x="441.35" y="44.6" font-size="11.6" stroke="#000"><tspan fill="#008000" stroke="#008000">:</tspan>Cu<tspan font-size="6.5" dy="3.6">2</tspan><tspan dy="-3.6">O</tspan></text>
<path fill="#000000" d="M436.90,51.27 L439.66,54.52 L436.90,57.77 L434.14,54.52 Z"/>
<text x="441.35" y="58.0" font-size="11.6" stroke="#000"><tspan fill="#000000" stroke="#000000">:</tspan>ZnO</text>
<g fill="#ff0000"><circle cx="408.50" cy="229.30" r="1.69"/><circle cx="406.48" cy="231.60" r="1.69"/><circle cx="410.52" cy="231.60" r="1.69"/><circle cx="408.50" cy="231.10" r="0.93"/><path d="M408.07,231.10 L407.28,234.70 L409.72,234.70 L408.93,231.10 Z"/></g>
<text x="413.30" y="235.0" font-size="13" stroke="#000"><tspan fill="#ff0000" stroke="#ff0000">:</tspan>Cu</text>
<path fill="#000000" d="M408.50,242.00 L411.56,245.60 L408.50,249.20 L405.44,245.60 Z"/>
<text x="413.30" y="249.5" font-size="13" stroke="#000"><tspan fill="#000000" stroke="#000000">:</tspan>ZnO</text>
</svg></body></html>
